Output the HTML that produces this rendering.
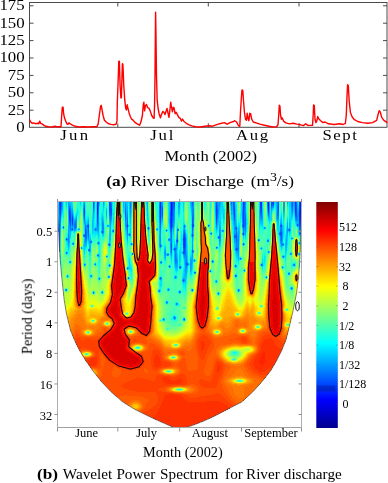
<!DOCTYPE html>
<html><head><meta charset="utf-8"><title>River discharge wavelet</title>
<style>html,body{margin:0;padding:0;background:#fff}body{width:388px;height:483px;overflow:hidden;font-family:"Liberation Serif",serif}svg{display:block}svg text{font-family:"Liberation Serif",serif;filter:url(#nf)}</style>
</head><body>
<svg width="388" height="483" viewBox="0 0 388 483" fill="#000"><defs><filter id="nf" x="-5%" y="-20%" width="110%" height="140%" color-interpolation-filters="sRGB"><feOffset dx="0" dy="0"/></filter></defs>
<rect x="29.5" y="2.5" width="357.5" height="124.8" fill="none" stroke="#4a4a4a" stroke-width="1"/>
<path d="M29.5 5.8h4M387 5.8h-4" stroke="#4a4a4a" stroke-width="1"/>
<text transform="translate(24.7 10.1) scale(1.195 1)" font-size="14.1" text-anchor="end" font-weight="normal">175</text>
<path d="M29.5 23.2h4M387 23.2h-4" stroke="#4a4a4a" stroke-width="1"/>
<text transform="translate(24.7 27.5) scale(1.195 1)" font-size="14.1" text-anchor="end" font-weight="normal">150</text>
<path d="M29.5 40.599999999999994h4M387 40.599999999999994h-4" stroke="#4a4a4a" stroke-width="1"/>
<text transform="translate(24.7 44.89999999999999) scale(1.195 1)" font-size="14.1" text-anchor="end" font-weight="normal">125</text>
<path d="M29.5 57.99999999999999h4M387 57.99999999999999h-4" stroke="#4a4a4a" stroke-width="1"/>
<text transform="translate(24.7 62.29999999999999) scale(1.195 1)" font-size="14.1" text-anchor="end" font-weight="normal">100</text>
<path d="M29.5 75.39999999999999h4M387 75.39999999999999h-4" stroke="#4a4a4a" stroke-width="1"/>
<text transform="translate(24.7 79.69999999999999) scale(1.195 1)" font-size="14.1" text-anchor="end" font-weight="normal">75</text>
<path d="M29.5 92.8h4M387 92.8h-4" stroke="#4a4a4a" stroke-width="1"/>
<text transform="translate(24.7 97.1) scale(1.195 1)" font-size="14.1" text-anchor="end" font-weight="normal">50</text>
<path d="M29.5 110.19999999999999h4M387 110.19999999999999h-4" stroke="#4a4a4a" stroke-width="1"/>
<text transform="translate(24.7 114.49999999999999) scale(1.195 1)" font-size="14.1" text-anchor="end" font-weight="normal">25</text>
<text transform="translate(24.7 131.89999999999998) scale(1.195 1)" font-size="14.1" text-anchor="end" font-weight="normal">0</text>
<path d="M117.8 2.5v4M117.8 127.3v-4" stroke="#4a4a4a" stroke-width="1"/>
<path d="M208.3 2.5v4M208.3 127.3v-4" stroke="#4a4a4a" stroke-width="1"/>
<path d="M299 2.5v4M299 127.3v-4" stroke="#4a4a4a" stroke-width="1"/>
<text transform="translate(60.2 140.4) scale(1.1 1)" font-size="15.2" text-anchor="start" font-weight="normal" letter-spacing="2.1">Jun</text>
<text transform="translate(150.2 140.4) scale(1.1 1)" font-size="15.2" text-anchor="start" font-weight="normal" letter-spacing="1.7">Jul</text>
<text transform="translate(236 140.4) scale(1.1 1)" font-size="15.2" text-anchor="start" font-weight="normal" letter-spacing="1.5">Aug</text>
<text transform="translate(322.5 140.4) scale(1.1 1)" font-size="15.2" text-anchor="start" font-weight="normal" letter-spacing="1.4">Sept</text>
<text transform="translate(164.6 161.3) scale(1.09 1)" font-size="15.2" text-anchor="start" font-weight="normal">Month (2002)</text>
<text transform="translate(106.2 186.3) scale(1.12 1)" font-size="15.5" text-anchor="start" font-weight="bold">(a)</text>
<text transform="translate(130.6 186.3) scale(1.11 1)" font-size="15.5" text-anchor="start" font-weight="normal">River</text>
<text transform="translate(174.4 186.3) scale(1.11 1)" font-size="15.5" text-anchor="start" font-weight="normal">Discharge</text>
<text transform="translate(250.8 186.3) scale(1.11 1)" font-size="15.5">(m<tspan dy="-5.5" font-size="12.5">3</tspan><tspan dy="5.5">/s)</tspan></text>
<path d="M29.5 119.6 L30.8 122.0 L32.1 123.3 L33.6 122.9 L35.4 123.7 L37.3 123.3 L38.8 123.7 L39.7 121.1 L40.6 123.3 L41.9 123.9 L43.8 125.2 L45.6 126.3 L48.4 126.8 L52.1 127.0 L54.9 126.3 L56.8 126.8 L61.0 126.8 L61.8 113.7 L62.3 107.2 L63.1 107.2 L63.6 113.7 L64.6 118.3 L65.7 121.1 L67.0 123.9 L67.9 124.4 L68.8 122.9 L70.3 123.9 L72.5 125.2 L75.3 126.3 L79.0 127.0 L83.7 126.7 L87.4 127.0 L92.9 126.8 L96.9 126.7 L98.2 123.9 L99.3 115.5 L100.5 106.6 L101.2 105.3 L101.9 109.0 L103.1 115.5 L104.4 120.2 L106.2 122.0 L108.1 123.5 L110.8 124.4 L113.6 124.8 L116.0 124.2 L117.0 121.1 L117.3 102.5 L118.3 76.6 L118.8 61.3 L119.4 61.3 L120.1 85.8 L120.9 97.9 L121.4 97.9 L122.0 76.6 L122.4 63.6 L122.9 64.5 L123.8 85.8 L124.8 100.7 L125.7 108.1 L126.4 110.0 L127.2 104.8 L127.9 108.1 L129.0 112.7 L130.3 116.5 L131.6 119.2 L133.1 120.2 L135.0 122.4 L137.2 123.9 L139.6 125.2 L140.9 122.0 L142.4 115.5 L143.3 104.4 L143.9 102.2 L144.6 110.9 L145.4 105.9 L146.5 104.4 L147.6 107.7 L148.9 108.1 L150.2 110.9 L151.7 115.5 L153.2 117.8 L154.1 118.3 L154.6 104.4 L155.0 76.6 L155.4 30.0 L155.6 12.1 L155.9 30.0 L156.5 76.6 L157.2 100.7 L158.2 109.0 L159.1 113.7 L160.4 117.8 L161.5 114.6 L162.8 111.4 L163.9 112.2 L165.0 114.6 L165.9 111.8 L167.0 108.5 L168.1 113.7 L169.0 117.4 L169.9 110.0 L170.7 102.2 L171.4 106.6 L172.4 111.8 L173.3 107.2 L174.0 107.7 L175.1 113.7 L176.2 112.2 L177.4 114.6 L178.8 117.4 L180.3 118.3 L181.4 121.1 L182.6 119.2 L184.0 121.5 L186.3 123.3 L189.1 124.8 L191.8 125.9 L195.5 126.7 L200.2 127.0 L204.8 126.3 L209.5 125.7 L211.9 126.3 L216.0 124.8 L219.7 123.7 L224.3 122.6 L227.1 124.2 L229.9 122.6 L233.6 121.5 L234.8 120.7 L236.6 122.0 L238.5 125.7 L239.8 126.3 L240.5 111.8 L241.3 98.8 L242.0 89.9 L242.8 90.5 L243.5 100.7 L244.4 111.8 L245.5 119.2 L246.5 120.2 L247.2 113.3 L248.1 118.3 L248.9 120.7 L249.8 113.3 L250.6 113.7 L251.7 119.2 L253.3 122.0 L256.1 122.9 L259.8 124.1 L264.5 125.2 L269.1 126.3 L272.8 127.0 L276.5 126.7 L278.0 124.8 L278.8 113.7 L279.3 105.3 L279.9 105.9 L280.6 115.5 L281.4 119.2 L282.1 117.8 L283.6 121.1 L285.8 122.9 L289.5 123.9 L293.2 123.3 L296.9 124.1 L300.7 124.8 L303.4 125.6 L305.7 123.8 L307.9 125.4 L312.5 125.4 L313.2 114.7 L313.6 104.9 L314.3 105.6 L315.0 119.2 L315.9 122.6 L317.0 120.4 L317.7 116.5 L318.8 118.8 L320.4 120.4 L322.7 122.6 L324.9 122.0 L328.4 123.8 L334.0 124.5 L339.7 123.8 L343.1 124.5 L345.4 123.3 L346.3 114.7 L347.0 96.6 L347.6 84.8 L348.3 85.7 L349.2 101.1 L350.4 112.4 L352.2 117.0 L354.4 119.7 L357.8 121.5 L362.4 122.6 L368.0 123.3 L372.6 122.6 L376.7 120.4 L378.0 114.7 L379.2 110.6 L380.3 112.0 L381.7 117.4 L383.9 120.4 L387.3 122.6" fill="none" stroke="#ff0000" stroke-width="1.4" stroke-linejoin="round"/>
<g shape-rendering="crispEdges" fill="none" stroke-width="1">
<path stroke="#0010ff" d="M97.5 207v4M171.5 202v13M268.5 202v4M300.5 201v17"/>
<path stroke="#0020ff" d="M97.5 202v5M97.5 211v4M160.5 202v8M171.5 201v1M171.5 215v9M261.5 201v3M268.5 201v1M268.5 206v3M300.5 218v4M301.5 216v3"/>
<path stroke="#0030ff" d="M60.5 201v8M69.5 212v7M72.5 218v5M97.5 201v1M97.5 215v2M109.5 244v1M109.5 265v1M127.5 225v1M148.5 228v1M160.5 201v1M160.5 210v9M171.5 224v3M174.5 201v2M177.5 240v1M180.5 267v1M183.5 239v1M184.5 238v9M212.5 261v1M216.5 207v12M236.5 249v1M243.5 201v6M243.5 225v1M243.5 244v1M260.5 201v2M261.5 204v5M268.5 209v2M273.5 201v2M295.5 202v10M299.5 210v9M300.5 222v3M301.5 213v3"/>
<path stroke="#0040ff" d="M59.5 201v5M59.5 232v16M60.5 209v5M63.5 227v1M66.5 239v1M69.5 210v2M69.5 219v1M70.5 215v7M72.5 217v1M72.5 223v1M72.5 229v1M84.5 210v4M88.5 226v1M95.5 229v1M97.5 217v3M98.5 201v1M109.5 201v5M127.5 226v1M160.5 219v4M160.5 278v1M166.5 230v1M170.5 218v6M171.5 227v2M172.5 201v9M174.5 203v2M177.5 241v1M183.5 238v1M183.5 240v6M183.5 252v1M184.5 235v3M184.5 247v4M184.5 319v1M192.5 201v1M192.5 224v3M192.5 235v1M192.5 290v1M193.5 225v1M208.5 225v1M211.5 233v1M216.5 204v3M216.5 219v2M218.5 237v1M233.5 201v2M234.5 209v6M235.5 236v1M236.5 228v1M238.5 290v1M243.5 207v18M243.5 226v1M243.5 233v2M258.5 240v1M260.5 203v4M261.5 209v3M268.5 211v1M273.5 203v1M280.5 233v1M281.5 225v1M295.5 201v1M295.5 212v2M297.5 225v1M299.5 205v5M299.5 219v5M300.5 225v1M301.5 210v3"/>
<path stroke="#0050ff" d="M59.5 206v4M59.5 228v4M59.5 248v3M60.5 214v2M69.5 209v1M69.5 220v2M70.5 212v3M70.5 222v3M72.5 216v1M72.5 224v1M84.5 208v2M84.5 214v2M84.5 235v1M85.5 229v8M88.5 225v1M88.5 227v1M88.5 230v2M93.5 292v1M97.5 220v2M98.5 202v3M102.5 231v2M109.5 206v4M110.5 201v12M111.5 208v5M127.5 224v1M127.5 268v1M128.5 278v1M129.5 234v1M160.5 223v2M160.5 245v1M162.5 208v7M167.5 254v1M169.5 239v1M169.5 266v1M170.5 213v5M170.5 224v3M171.5 229v2M171.5 244v6M172.5 210v7M174.5 205v2M174.5 249v1M174.5 317v1M183.5 237v1M183.5 246v2M183.5 253v1M183.5 280v1M184.5 226v1M184.5 233v2M184.5 251v3M187.5 264v1M192.5 202v1M192.5 221v3M192.5 227v2M192.5 234v1M192.5 251v1M194.5 260v1M210.5 271v1M216.5 202v2M216.5 221v2M218.5 293v1M219.5 237v1M233.5 203v3M234.5 207v2M234.5 215v3M234.5 236v1M235.5 266v1M235.5 275v1M236.5 234v5M236.5 248v1M240.5 258v1M243.5 227v1M244.5 201v4M260.5 207v3M261.5 212v1M261.5 264v1M266.5 277v1M268.5 212v1M271.5 201v5M272.5 201v3M273.5 204v1M278.5 204v7M280.5 234v1M281.5 226v1M281.5 232v4M283.5 256v1M289.5 229v2M291.5 288v1M295.5 214v2M296.5 205v12M299.5 201v4M299.5 224v2M300.5 226v1M300.5 233v1M301.5 201v9"/>
<path stroke="#0060ff" d="M59.5 210v4M59.5 224v4M59.5 251v1M60.5 216v3M66.5 252v2M67.5 276v1M69.5 208v1M69.5 222v1M70.5 210v2M70.5 225v2M72.5 215v1M72.5 225v1M73.5 243v1M84.5 206v2M84.5 216v2M85.5 227v2M85.5 237v1M87.5 225v2M88.5 228v2M88.5 232v3M89.5 250v1M93.5 201v5M95.5 264v1M97.5 222v2M97.5 255v1M98.5 205v4M98.5 243v1M99.5 278v1M102.5 292v1M109.5 210v2M109.5 245v1M110.5 213v3M111.5 206v2M111.5 213v2M113.5 230v2M125.5 210v8M127.5 221v3M127.5 227v1M131.5 244v1M160.5 225v3M160.5 246v1M161.5 262v1M162.5 207v1M162.5 215v1M163.5 319v1M168.5 289v1M170.5 210v3M170.5 227v2M171.5 231v2M171.5 241v3M171.5 250v2M172.5 217v4M172.5 225v2M173.5 201v8M174.5 207v1M174.5 248v1M175.5 249v1M175.5 277v1M177.5 229v2M177.5 239v1M179.5 291v2M183.5 235v2M183.5 248v2M183.5 251v1M184.5 232v1M185.5 238v11M186.5 263v2M187.5 263v1M192.5 203v2M192.5 218v3M192.5 229v2M192.5 236v1M192.5 250v1M193.5 224v1M193.5 226v1M194.5 272v1M216.5 201v1M216.5 223v1M216.5 247v1M217.5 210v3M219.5 236v1M233.5 206v4M234.5 204v3M234.5 218v2M235.5 228v1M235.5 235v1M235.5 237v1M235.5 276v1M236.5 227v1M236.5 229v1M236.5 232v2M236.5 239v2M236.5 250v1M237.5 249v1M243.5 228v1M244.5 205v5M244.5 270v1M245.5 217v8M260.5 210v2M261.5 213v2M261.5 265v1M267.5 201v1M268.5 213v1M271.5 206v1M272.5 204v1M278.5 201v3M278.5 211v3M279.5 233v1M280.5 225v2M280.5 232v1M281.5 230v2M281.5 236v4M282.5 244v1M282.5 267v1M292.5 201v7M295.5 216v1M296.5 201v4M296.5 217v1M297.5 224v1M299.5 226v2M299.5 233v1M300.5 227v2"/>
<path stroke="#0070ff" d="M58.5 230v2M59.5 214v10M60.5 219v2M61.5 201v6M66.5 290v1M69.5 207v1M69.5 223v1M70.5 208v2M70.5 227v2M71.5 229v1M72.5 214v1M72.5 228v1M74.5 224v4M75.5 223v5M78.5 229v1M83.5 235v1M84.5 205v1M84.5 218v1M84.5 264v1M85.5 226v1M85.5 238v2M86.5 231v8M88.5 224v1M88.5 235v2M88.5 250v1M89.5 249v1M90.5 241v2M91.5 241v1M91.5 276v1M93.5 206v3M97.5 224v2M98.5 209v5M98.5 255v1M109.5 212v2M110.5 216v3M111.5 204v2M111.5 215v1M125.5 208v2M125.5 218v3M126.5 225v1M127.5 218v3M127.5 228v4M130.5 201v8M132.5 253v1M148.5 227v1M159.5 290v2M160.5 228v2M162.5 206v1M162.5 216v1M166.5 302v1M168.5 254v1M170.5 201v9M170.5 229v2M171.5 233v8M171.5 252v1M172.5 221v2M172.5 224v1M173.5 209v11M174.5 208v2M175.5 248v1M175.5 254v8M176.5 240v2M177.5 235v4M177.5 242v1M178.5 229v1M179.5 267v1M180.5 266v1M183.5 234v1M183.5 250v1M183.5 279v1M184.5 225v1M184.5 230v2M184.5 254v1M185.5 237v1M185.5 249v4M186.5 261v2M186.5 265v1M192.5 205v2M192.5 215v3M192.5 231v3M192.5 252v1M193.5 213v7M193.5 251v1M195.5 272v1M216.5 224v2M216.5 281v1M217.5 206v4M217.5 213v4M219.5 238v1M222.5 230v1M231.5 201v4M233.5 210v3M234.5 202v2M234.5 220v1M234.5 235v1M234.5 237v1M235.5 227v1M235.5 265v1M236.5 230v2M236.5 241v2M237.5 248v1M238.5 247v2M242.5 225v1M243.5 229v2M243.5 232v1M243.5 243v1M244.5 210v17M245.5 214v3M245.5 225v3M260.5 212v2M261.5 215v2M261.5 248v1M267.5 202v3M267.5 240v1M268.5 214v1M268.5 240v1M268.5 252v1M271.5 207v1M272.5 205v1M273.5 205v1M277.5 207v9M278.5 214v2M279.5 234v1M280.5 230v2M280.5 235v1M281.5 227v3M281.5 240v2M283.5 244v1M288.5 273v1M289.5 273v1M292.5 208v3M294.5 264v2M295.5 217v1M296.5 218v2M299.5 228v2M299.5 243v1M300.5 229v1"/>
<path stroke="#0084ff" d="M58.5 229v1M60.5 221v2M61.5 207v3M66.5 238v1M66.5 289v1M67.5 239v1M68.5 234v8M69.5 206v1M69.5 224v1M70.5 207v1M70.5 229v1M70.5 262v1M71.5 217v4M72.5 213v1M72.5 226v1M72.5 243v1M74.5 222v2M74.5 228v1M75.5 221v2M75.5 228v1M84.5 204v1M84.5 219v1M84.5 236v1M85.5 225v1M85.5 240v2M86.5 229v2M86.5 239v2M87.5 227v1M88.5 237v1M91.5 242v1M93.5 209v2M94.5 201v1M95.5 230v1M96.5 229v1M97.5 226v2M98.5 214v11M98.5 242v1M102.5 223v6M102.5 230v1M103.5 227v2M103.5 231v1M106.5 256v1M109.5 214v2M110.5 219v2M111.5 203v1M111.5 216v2M125.5 205v3M125.5 221v1M126.5 226v1M127.5 215v3M127.5 232v3M129.5 235v1M130.5 209v3M132.5 254v1M157.5 229v1M159.5 205v12M160.5 230v3M160.5 238v3M160.5 244v1M160.5 262v1M160.5 277v1M161.5 206v9M161.5 278v1M162.5 205v1M162.5 217v1M165.5 253v2M167.5 302v1M168.5 239v1M169.5 240v1M170.5 231v2M170.5 239v1M171.5 253v1M172.5 223v1M173.5 220v4M174.5 210v2M174.5 250v1M174.5 318v1M175.5 250v4M175.5 262v2M175.5 276v1M176.5 258v5M176.5 303v2M177.5 233v2M183.5 233v1M183.5 281v1M183.5 319v1M184.5 227v1M184.5 229v1M184.5 255v2M184.5 280v1M185.5 235v2M185.5 253v4M185.5 263v2M186.5 257v4M186.5 266v2M187.5 265v1M192.5 207v8M192.5 249v1M192.5 289v1M193.5 201v2M193.5 210v3M193.5 220v4M210.5 270v1M216.5 226v1M217.5 204v2M217.5 217v2M219.5 201v2M219.5 233v3M222.5 231v1M231.5 205v1M233.5 213v2M234.5 201v1M234.5 221v2M235.5 229v1M235.5 249v1M236.5 243v5M236.5 275v1M237.5 250v1M238.5 238v9M238.5 249v3M242.5 214v6M242.5 226v1M243.5 231v1M245.5 212v2M245.5 228v3M258.5 239v1M260.5 214v2M261.5 217v1M262.5 264v2M264.5 228v1M267.5 205v2M267.5 241v1M268.5 215v1M268.5 241v1M268.5 251v1M271.5 208v1M272.5 206v1M273.5 206v1M277.5 202v5M277.5 216v3M278.5 216v2M280.5 227v3M280.5 236v4M281.5 224v1M281.5 242v3M283.5 257v1M287.5 229v1M288.5 229v2M290.5 253v1M291.5 202v5M292.5 211v1M292.5 238v1M293.5 264v1M295.5 218v1M296.5 220v1M298.5 225v1M299.5 230v3M300.5 230v1M300.5 232v1M300.5 234v1"/>
<path stroke="#0094ff" d="M58.5 228v1M60.5 223v3M61.5 210v1M66.5 240v1M68.5 231v3M68.5 242v2M69.5 205v1M69.5 225v2M70.5 206v1M70.5 230v1M71.5 213v4M71.5 221v3M71.5 228v1M72.5 211v2M72.5 227v1M72.5 230v1M74.5 229v1M75.5 220v1M76.5 219v8M81.5 247v2M83.5 208v7M84.5 203v1M84.5 220v2M84.5 234v1M85.5 224v1M85.5 242v1M86.5 226v3M86.5 241v1M87.5 228v5M88.5 223v1M88.5 238v1M88.5 249v1M91.5 275v1M93.5 211v2M93.5 293v1M94.5 202v3M95.5 228v1M97.5 228v2M98.5 225v3M99.5 279v1M101.5 231v1M102.5 221v2M102.5 229v1M103.5 201v1M103.5 224v3M103.5 229v2M103.5 232v1M107.5 225v1M108.5 225v1M108.5 244v1M108.5 276v1M109.5 216v1M109.5 243v1M110.5 221v3M111.5 201v2M111.5 218v1M112.5 231v1M125.5 203v2M125.5 222v2M126.5 224v1M127.5 213v2M127.5 235v1M130.5 212v3M130.5 234v1M131.5 243v1M148.5 229v1M159.5 202v3M159.5 217v4M160.5 233v5M160.5 241v3M160.5 279v1M161.5 203v3M161.5 215v2M161.5 245v1M162.5 203v2M162.5 218v1M165.5 251v2M165.5 255v1M167.5 255v1M168.5 290v1M170.5 233v3M170.5 238v1M170.5 240v1M170.5 244v4M171.5 254v1M172.5 227v1M173.5 224v3M174.5 212v5M175.5 264v1M176.5 242v1M176.5 248v2M176.5 253v5M176.5 263v2M177.5 231v2M177.5 243v1M178.5 230v1M179.5 266v1M180.5 268v1M180.5 291v2M182.5 252v1M182.5 280v1M183.5 231v2M183.5 254v1M184.5 228v1M184.5 257v1M184.5 279v1M184.5 318v1M185.5 234v1M185.5 257v6M185.5 265v7M186.5 254v3M186.5 268v2M187.5 262v1M188.5 264v1M190.5 261v7M191.5 201v2M191.5 262v3M192.5 237v4M192.5 245v4M192.5 253v4M193.5 203v7M193.5 235v1M194.5 273v1M216.5 227v1M217.5 202v2M217.5 219v2M217.5 247v1M218.5 208v6M218.5 236v1M219.5 203v3M219.5 229v4M219.5 239v2M220.5 234v4M231.5 206v4M233.5 215v2M234.5 223v2M234.5 228v1M234.5 233v2M234.5 238v2M235.5 226v1M235.5 234v1M235.5 238v1M235.5 248v1M236.5 226v1M236.5 276v1M237.5 239v9M238.5 234v4M238.5 252v3M238.5 289v1M242.5 210v4M242.5 220v3M242.5 224v1M243.5 235v1M244.5 227v2M245.5 201v11M245.5 231v1M260.5 216v2M261.5 218v2M264.5 227v1M267.5 207v2M268.5 216v1M269.5 205v5M271.5 209v1M272.5 207v1M277.5 201v1M277.5 219v1M278.5 218v1M280.5 224v1M280.5 240v1M281.5 245v1M282.5 243v1M282.5 245v1M283.5 206v3M284.5 201v5M287.5 201v1M287.5 226v3M287.5 230v2M289.5 228v1M291.5 201v1M291.5 207v3M291.5 238v1M291.5 253v1M291.5 287v1M292.5 212v2M293.5 265v1M294.5 201v3M295.5 219v1M297.5 213v7M298.5 224v1M299.5 234v1M300.5 231v1"/>
<path stroke="#00a4ff" d="M58.5 227v1M60.5 226v3M61.5 211v2M62.5 201v5M65.5 290v1M68.5 202v11M68.5 228v3M68.5 244v2M69.5 204v1M69.5 227v2M70.5 204v2M70.5 231v1M70.5 261v1M71.5 210v3M71.5 224v2M71.5 230v1M72.5 210v1M73.5 218v7M73.5 244v1M74.5 221v1M74.5 230v1M75.5 219v1M75.5 229v1M76.5 217v2M76.5 227v1M83.5 206v2M83.5 215v2M83.5 236v1M84.5 201v2M84.5 222v1M84.5 265v1M85.5 223v1M85.5 243v1M86.5 225v1M86.5 242v1M87.5 224v1M87.5 233v3M88.5 221v2M88.5 239v1M89.5 242v1M89.5 248v1M89.5 251v1M90.5 240v1M90.5 243v1M90.5 276v1M93.5 213v2M94.5 205v3M96.5 228v1M96.5 230v1M97.5 230v1M97.5 243v1M98.5 228v3M101.5 232v1M102.5 219v2M102.5 233v1M103.5 202v2M103.5 223v1M106.5 212v2M108.5 277v1M109.5 217v2M109.5 276v1M110.5 224v3M111.5 219v1M112.5 230v1M125.5 201v2M125.5 224v2M126.5 213v11M126.5 227v2M127.5 210v3M127.5 236v2M128.5 268v1M128.5 277v1M130.5 215v3M156.5 229v1M158.5 290v2M159.5 201v1M159.5 221v2M160.5 247v1M161.5 201v2M161.5 217v2M161.5 246v1M162.5 202v1M162.5 219v1M164.5 252v2M165.5 250v1M165.5 256v2M169.5 219v1M169.5 267v1M170.5 236v2M170.5 241v3M170.5 248v3M171.5 255v1M172.5 228v1M173.5 227v1M173.5 317v1M174.5 217v4M174.5 247v1M174.5 251v1M175.5 247v1M175.5 265v2M175.5 317v2M176.5 239v1M176.5 243v5M176.5 250v3M176.5 265v2M177.5 244v1M177.5 260v5M177.5 303v1M179.5 201v7M183.5 230v1M184.5 258v1M184.5 281v1M185.5 233v1M185.5 272v4M186.5 251v3M186.5 270v3M190.5 201v1M190.5 260v1M190.5 268v2M191.5 203v4M191.5 259v3M191.5 265v4M192.5 241v4M192.5 257v4M193.5 227v1M193.5 234v1M193.5 250v1M208.5 226v1M210.5 233v1M212.5 260v1M212.5 262v1M213.5 261v1M215.5 201v12M216.5 228v1M216.5 248v1M217.5 201v1M217.5 221v2M218.5 203v5M218.5 214v4M218.5 238v1M218.5 294v1M219.5 206v2M219.5 227v2M219.5 241v1M220.5 201v1M220.5 229v5M220.5 238v3M223.5 230v1M231.5 210v1M232.5 201v3M233.5 217v3M234.5 225v3M234.5 229v4M234.5 240v2M235.5 214v12M235.5 230v4M235.5 239v4M235.5 250v1M236.5 251v1M236.5 266v1M237.5 236v3M237.5 251v1M238.5 231v3M238.5 255v2M239.5 290v1M240.5 259v1M242.5 207v3M242.5 223v1M242.5 233v2M244.5 229v2M244.5 233v1M245.5 232v2M259.5 240v1M260.5 218v2M261.5 220v1M262.5 216v3M267.5 209v1M268.5 217v1M269.5 201v4M269.5 210v5M273.5 207v1M277.5 220v1M278.5 219v2M279.5 232v1M280.5 223v1M280.5 241v1M281.5 222v2M282.5 232v8M282.5 256v1M283.5 201v5M283.5 209v3M284.5 206v3M286.5 239v7M287.5 202v1M287.5 223v3M287.5 232v2M288.5 274v1M289.5 231v1M290.5 254v1M291.5 210v3M292.5 214v1M293.5 201v3M294.5 204v3M295.5 220v1M296.5 221v1M297.5 208v5M297.5 220v2M297.5 223v1M297.5 226v1M298.5 212v9M299.5 242v1M299.5 254v1"/>
<path stroke="#00b4ff" d="M58.5 226v1M60.5 229v3M60.5 256v1M61.5 213v1M62.5 206v3M63.5 226v1M63.5 228v1M65.5 289v1M67.5 238v1M67.5 240v1M67.5 252v1M67.5 275v1M68.5 201v1M68.5 213v6M68.5 225v3M68.5 246v1M69.5 203v1M69.5 229v3M69.5 234v9M69.5 262v1M70.5 203v1M70.5 232v2M71.5 208v2M71.5 226v2M72.5 208v2M73.5 216v2M73.5 225v2M73.5 228v2M74.5 220v1M75.5 218v1M75.5 230v1M76.5 216v1M76.5 228v1M83.5 204v2M83.5 217v2M84.5 223v1M84.5 237v1M84.5 240v7M85.5 222v1M85.5 244v2M85.5 264v1M86.5 243v1M87.5 223v1M87.5 236v2M88.5 220v1M88.5 240v1M89.5 240v2M89.5 243v5M90.5 239v1M90.5 244v7M90.5 275v1M92.5 223v5M93.5 215v2M94.5 208v2M94.5 229v1M95.5 263v1M97.5 231v1M98.5 231v2M98.5 254v1M98.5 256v1M99.5 201v2M101.5 292v1M102.5 218v1M103.5 204v2M103.5 221v2M103.5 233v1M106.5 210v2M106.5 214v2M107.5 256v1M108.5 245v1M109.5 219v2M109.5 237v2M109.5 264v1M109.5 266v1M109.5 277v1M110.5 227v9M110.5 244v1M111.5 220v1M123.5 201v3M125.5 226v2M126.5 206v7M126.5 229v2M127.5 207v3M127.5 238v2M127.5 267v1M128.5 225v1M128.5 234v1M129.5 233v1M130.5 218v3M130.5 235v1M131.5 201v5M147.5 201v9M159.5 223v5M159.5 235v12M159.5 278v1M161.5 219v2M161.5 261v1M161.5 277v1M161.5 279v1M162.5 201v1M162.5 220v1M163.5 318v1M163.5 320v1M164.5 250v2M164.5 254v2M164.5 319v1M165.5 249v1M166.5 301v1M166.5 303v1M167.5 289v1M168.5 240v1M168.5 255v1M169.5 201v3M169.5 213v6M169.5 220v4M170.5 251v2M170.5 266v1M171.5 256v1M172.5 229v1M173.5 228v2M174.5 221v3M174.5 252v8M174.5 277v1M174.5 316v1M175.5 267v1M175.5 278v1M176.5 267v2M176.5 277v1M177.5 228v1M177.5 245v1M177.5 258v2M177.5 265v2M177.5 304v1M178.5 201v9M179.5 208v3M179.5 268v1M182.5 253v1M182.5 279v1M182.5 281v1M183.5 226v1M183.5 229v1M183.5 255v1M183.5 278v1M184.5 259v2M184.5 278v1M184.5 320v1M185.5 226v1M185.5 232v1M185.5 276v5M186.5 239v12M186.5 273v2M187.5 260v2M187.5 266v1M188.5 263v1M190.5 202v2M190.5 258v2M190.5 270v2M191.5 207v4M191.5 235v1M191.5 258v1M191.5 269v2M191.5 290v1M192.5 261v2M193.5 228v3M194.5 261v1M211.5 234v1M215.5 213v3M215.5 281v1M216.5 229v1M217.5 223v2M218.5 201v2M218.5 218v2M219.5 208v3M219.5 224v3M219.5 242v2M220.5 202v2M220.5 226v3M220.5 241v1M223.5 231v1M230.5 201v2M231.5 211v4M232.5 204v6M233.5 220v1M234.5 242v1M235.5 209v5M235.5 243v5M236.5 224v2M236.5 252v2M236.5 265v1M237.5 234v2M237.5 252v3M238.5 229v2M238.5 257v2M238.5 291v1M241.5 258v1M242.5 203v4M242.5 227v1M244.5 231v2M244.5 234v1M245.5 234v1M259.5 210v9M260.5 220v1M261.5 221v1M262.5 211v5M262.5 219v3M262.5 263v1M265.5 228v1M267.5 210v2M269.5 215v3M271.5 210v2M272.5 208v1M276.5 201v3M276.5 213v6M277.5 221v1M278.5 221v1M280.5 222v1M280.5 242v2M281.5 219v3M281.5 246v1M282.5 226v1M282.5 229v3M282.5 240v3M283.5 212v2M283.5 243v1M283.5 245v1M284.5 209v3M286.5 235v4M286.5 246v2M287.5 203v1M287.5 222v1M287.5 234v2M289.5 223v5M289.5 274v1M290.5 229v2M291.5 213v2M291.5 254v1M291.5 289v1M292.5 215v1M292.5 288v1M293.5 204v3M294.5 207v3M296.5 222v1M296.5 224v1M297.5 204v4M297.5 222v1M298.5 210v2M298.5 221v3M298.5 226v1M298.5 254v1M299.5 253v1"/>
<path stroke="#00c4ff" d="M58.5 224v2M60.5 232v3M60.5 257v1M61.5 214v2M62.5 209v2M62.5 227v1M66.5 201v2M67.5 253v1M68.5 219v6M68.5 247v2M69.5 202v1M69.5 232v2M69.5 243v2M69.5 261v1M70.5 201v2M70.5 234v1M71.5 205v3M72.5 207v1M72.5 244v1M73.5 215v1M73.5 227v1M74.5 219v1M74.5 231v1M76.5 215v1M76.5 229v1M79.5 229v1M80.5 201v1M83.5 203v1M83.5 219v1M83.5 234v1M84.5 224v2M84.5 238v2M84.5 247v3M85.5 220v2M85.5 246v1M86.5 224v1M86.5 244v1M87.5 221v2M87.5 238v1M88.5 219v1M88.5 241v1M89.5 238v2M90.5 238v1M90.5 251v1M92.5 220v3M92.5 228v3M93.5 217v5M94.5 210v2M94.5 230v1M94.5 264v1M96.5 225v3M97.5 232v1M97.5 242v1M98.5 233v2M98.5 244v1M98.5 278v1M99.5 203v1M99.5 243v1M102.5 216v2M102.5 234v1M102.5 291v1M103.5 206v1M103.5 220v1M103.5 234v1M106.5 209v1M106.5 216v2M107.5 226v1M108.5 226v1M109.5 221v1M109.5 225v2M109.5 233v4M109.5 239v4M110.5 236v4M111.5 221v1M123.5 204v4M125.5 228v2M126.5 201v5M126.5 231v3M127.5 201v6M127.5 240v1M128.5 226v1M128.5 267v1M129.5 201v8M129.5 263v1M130.5 221v3M130.5 233v1M131.5 206v3M132.5 244v1M147.5 210v6M147.5 228v1M149.5 228v1M157.5 228v1M159.5 228v7M160.5 261v1M161.5 221v1M161.5 263v1M162.5 221v1M164.5 249v1M164.5 256v2M165.5 248v1M165.5 258v1M167.5 253v1M167.5 301v1M167.5 303v1M168.5 288v1M169.5 204v9M169.5 224v3M169.5 238v1M169.5 265v1M169.5 289v1M170.5 253v2M171.5 257v2M172.5 230v2M173.5 230v2M173.5 248v2M174.5 224v1M174.5 245v2M174.5 260v3M174.5 319v1M175.5 246v1M175.5 268v1M176.5 238v1M176.5 269v1M176.5 276v1M177.5 246v2M177.5 256v2M177.5 267v2M178.5 210v4M179.5 211v2M179.5 254v8M181.5 267v1M183.5 201v1M183.5 225v1M183.5 227v2M183.5 256v1M183.5 277v1M183.5 282v1M183.5 318v1M184.5 224v1M184.5 261v3M184.5 269v9M185.5 231v1M185.5 281v2M186.5 237v2M186.5 275v2M187.5 256v4M187.5 267v2M190.5 204v2M190.5 257v1M190.5 272v1M191.5 211v2M191.5 234v1M191.5 256v2M191.5 271v1M192.5 263v2M193.5 231v3M193.5 236v1M193.5 252v1M193.5 260v1M195.5 273v1M209.5 225v1M209.5 271v1M215.5 216v4M216.5 230v1M216.5 280v1M216.5 282v1M217.5 225v2M217.5 293v1M218.5 220v3M219.5 211v4M219.5 220v4M219.5 244v1M220.5 204v3M220.5 221v5M220.5 242v1M221.5 201v2M223.5 214v4M230.5 203v2M232.5 210v5M233.5 221v3M234.5 243v2M235.5 205v4M236.5 223v1M236.5 254v2M237.5 232v2M237.5 255v2M238.5 227v2M238.5 259v1M239.5 231v2M239.5 258v1M242.5 201v2M243.5 236v1M243.5 245v1M244.5 244v1M245.5 235v1M246.5 223v1M259.5 204v6M259.5 219v5M259.5 239v1M260.5 221v2M261.5 222v2M261.5 247v1M262.5 208v3M262.5 222v2M262.5 262v1M262.5 266v1M265.5 227v1M266.5 276v1M267.5 212v1M268.5 218v1M269.5 218v2M269.5 252v1M271.5 212v1M272.5 209v1M276.5 204v9M276.5 219v1M277.5 222v3M278.5 222v3M279.5 235v1M280.5 221v1M280.5 244v1M281.5 217v2M281.5 247v1M282.5 225v1M282.5 227v2M283.5 214v2M284.5 212v1M285.5 242v9M286.5 231v4M286.5 248v2M287.5 204v1M287.5 220v2M287.5 236v2M289.5 221v2M289.5 232v1M290.5 201v3M290.5 222v7M291.5 215v2M292.5 216v1M293.5 207v3M294.5 210v2M295.5 221v1M296.5 223v1M296.5 225v1M297.5 201v3M298.5 208v2M298.5 227v2"/>
<path stroke="#00d4ff" d="M58.5 223v1M60.5 235v6M60.5 255v1M61.5 216v1M62.5 211v1M65.5 239v1M66.5 203v2M67.5 241v2M68.5 249v1M69.5 201v1M69.5 245v2M70.5 235v2M71.5 202v3M72.5 205v2M73.5 214v1M73.5 230v1M73.5 242v1M75.5 217v1M76.5 214v1M80.5 202v2M83.5 201v2M83.5 220v2M84.5 226v5M84.5 233v1M84.5 250v3M84.5 263v1M85.5 218v2M85.5 247v1M85.5 265v1M86.5 222v2M86.5 245v1M87.5 220v1M87.5 239v1M88.5 218v1M88.5 242v1M89.5 235v3M89.5 252v1M90.5 236v2M92.5 217v3M92.5 231v2M93.5 222v9M94.5 212v2M94.5 228v1M94.5 292v1M95.5 227v1M95.5 231v1M96.5 219v6M96.5 231v1M97.5 233v1M97.5 254v1M97.5 256v1M98.5 235v2M98.5 241v1M99.5 204v2M99.5 242v1M99.5 244v1M99.5 254v3M99.5 277v1M101.5 217v10M101.5 230v1M102.5 214v2M103.5 207v2M103.5 218v2M103.5 235v1M104.5 201v2M106.5 208v1M106.5 218v1M108.5 243v1M108.5 265v1M109.5 222v3M109.5 230v3M109.5 246v1M110.5 240v1M110.5 243v1M110.5 245v1M110.5 265v1M111.5 222v1M113.5 218v5M113.5 229v1M123.5 208v3M124.5 201v10M125.5 230v1M126.5 234v2M127.5 241v2M127.5 269v1M128.5 235v1M129.5 209v5M129.5 260v3M129.5 264v5M130.5 224v9M130.5 236v1M131.5 209v3M146.5 201v3M147.5 216v3M148.5 226v1M148.5 230v1M155.5 201v1M159.5 247v1M159.5 279v1M159.5 289v1M160.5 248v1M160.5 263v1M160.5 280v1M160.5 284v1M160.5 290v1M161.5 222v2M161.5 280v1M162.5 222v1M164.5 247v2M164.5 258v1M165.5 247v1M165.5 259v1M166.5 231v1M166.5 254v1M167.5 230v1M167.5 290v1M168.5 201v1M168.5 253v1M168.5 266v1M169.5 227v1M170.5 255v1M171.5 259v1M172.5 232v3M173.5 232v2M173.5 316v1M173.5 318v1M174.5 225v2M174.5 243v2M174.5 263v2M174.5 276v1M175.5 245v1M175.5 269v1M176.5 236v2M176.5 270v1M177.5 227v1M177.5 248v2M177.5 254v2M177.5 269v1M178.5 214v2M179.5 213v1M179.5 252v2M179.5 262v4M180.5 250v11M180.5 265v1M182.5 239v1M182.5 251v1M182.5 278v1M183.5 202v6M183.5 257v1M183.5 273v4M183.5 283v1M183.5 320v1M184.5 264v5M184.5 282v1M185.5 225v1M185.5 230v1M185.5 283v2M186.5 235v2M186.5 277v2M187.5 252v4M187.5 269v2M190.5 206v2M190.5 256v1M190.5 273v1M191.5 213v3M191.5 236v1M191.5 251v1M191.5 254v2M191.5 272v2M191.5 289v1M192.5 265v3M194.5 271v1M195.5 260v1M210.5 234v1M215.5 220v4M216.5 231v1M217.5 227v1M217.5 237v1M217.5 248v1M218.5 223v2M218.5 292v1M219.5 215v5M219.5 245v1M220.5 207v14M220.5 243v2M221.5 203v6M222.5 203v8M223.5 209v5M223.5 218v3M231.5 215v4M232.5 215v5M233.5 224v3M234.5 245v4M235.5 201v4M235.5 251v2M235.5 267v1M236.5 220v3M236.5 256v2M237.5 228v2M237.5 231v1M237.5 257v2M237.5 290v1M238.5 225v2M238.5 260v1M239.5 227v4M239.5 233v5M239.5 259v1M239.5 289v1M241.5 201v14M242.5 228v1M242.5 244v1M243.5 237v1M243.5 270v1M244.5 235v1M244.5 271v1M245.5 236v1M246.5 218v5M246.5 224v5M259.5 201v3M259.5 224v2M260.5 223v1M260.5 248v1M261.5 224v1M262.5 203v5M262.5 224v2M262.5 260v2M267.5 213v1M267.5 239v1M268.5 219v1M268.5 239v1M269.5 220v1M269.5 251v1M270.5 216v4M271.5 213v7M273.5 208v1M274.5 201v3M275.5 201v3M276.5 220v1M277.5 225v3M278.5 225v6M278.5 233v1M279.5 231v1M280.5 219v2M280.5 245v1M281.5 215v2M281.5 248v1M282.5 246v1M282.5 257v1M282.5 266v1M283.5 216v3M283.5 225v10M283.5 255v1M283.5 267v1M284.5 213v2M284.5 256v1M285.5 239v3M285.5 251v6M286.5 229v2M286.5 250v1M287.5 205v1M287.5 219v1M287.5 238v3M288.5 228v1M288.5 231v1M288.5 272v1M289.5 201v6M289.5 218v3M289.5 233v1M290.5 204v5M290.5 218v4M290.5 231v1M290.5 288v1M291.5 217v2M291.5 237v1M292.5 217v1M293.5 210v2M294.5 212v3M294.5 263v1M295.5 222v1M298.5 206v2M298.5 229v5M298.5 253v1M299.5 235v1M300.5 235v1"/>
<path stroke="#00e4f8" d="M58.5 203v9M58.5 220v3M60.5 241v14M60.5 258v1M61.5 217v1M62.5 212v2M65.5 252v2M66.5 205v2M66.5 237v1M66.5 241v1M66.5 251v1M67.5 201v1M67.5 237v1M67.5 243v3M67.5 277v1M68.5 250v1M68.5 276v1M69.5 247v1M70.5 237v1M71.5 201v1M71.5 231v1M72.5 203v2M73.5 213v1M74.5 218v1M74.5 232v1M75.5 216v1M75.5 231v1M76.5 213v1M76.5 230v1M77.5 210v5M79.5 228v1M80.5 204v1M81.5 201v1M82.5 248v1M83.5 222v1M83.5 244v6M84.5 231v2M84.5 253v1M85.5 210v8M85.5 248v1M86.5 221v1M86.5 246v1M87.5 218v2M87.5 240v1M88.5 217v1M88.5 243v1M88.5 251v1M89.5 233v2M89.5 253v2M90.5 235v1M90.5 252v2M91.5 240v1M92.5 215v2M92.5 233v2M92.5 292v1M93.5 231v3M94.5 214v4M94.5 227v1M94.5 231v2M95.5 226v1M95.5 232v3M95.5 265v1M96.5 204v15M96.5 232v1M97.5 234v1M98.5 237v2M98.5 279v1M99.5 206v1M99.5 223v3M99.5 241v1M99.5 245v1M99.5 253v1M99.5 257v1M101.5 215v2M101.5 227v3M102.5 212v2M102.5 235v1M102.5 293v1M103.5 209v3M103.5 216v2M103.5 236v1M104.5 203v3M106.5 219v1M109.5 227v3M110.5 241v2M111.5 223v2M112.5 201v14M113.5 213v5M113.5 223v2M113.5 232v1M123.5 211v2M124.5 211v3M125.5 231v2M126.5 236v2M127.5 243v1M127.5 278v1M128.5 201v2M128.5 233v1M128.5 269v1M129.5 214v4M129.5 236v1M129.5 258v2M129.5 269v1M129.5 278v1M130.5 237v1M130.5 243v2M130.5 265v5M131.5 212v3M131.5 268v4M146.5 204v2M147.5 219v2M147.5 227v1M148.5 218v8M148.5 231v1M149.5 227v1M155.5 202v1M157.5 230v1M159.5 277v1M159.5 292v1M160.5 249v1M160.5 281v3M160.5 285v2M160.5 291v1M161.5 224v2M161.5 244v1M161.5 281v5M162.5 223v2M162.5 319v1M164.5 246v1M164.5 259v1M164.5 318v1M165.5 246v1M165.5 260v1M166.5 229v1M166.5 255v1M168.5 202v21M168.5 238v1M169.5 228v2M169.5 290v1M170.5 256v1M170.5 265v1M170.5 267v1M171.5 260v1M172.5 235v15M173.5 234v2M173.5 250v1M173.5 319v1M174.5 227v1M174.5 241v2M174.5 265v2M174.5 278v1M175.5 244v1M175.5 270v1M175.5 275v1M175.5 303v2M175.5 316v1M175.5 319v1M176.5 234v2M176.5 271v1M176.5 278v1M176.5 302v1M176.5 305v1M177.5 250v4M177.5 270v1M178.5 216v1M178.5 240v2M178.5 291v2M179.5 214v1M179.5 251v1M179.5 290v1M179.5 293v1M180.5 201v4M180.5 247v3M180.5 261v2M181.5 234v11M181.5 252v1M181.5 266v1M182.5 238v1M182.5 240v1M182.5 276v2M182.5 282v1M183.5 208v4M183.5 223v2M183.5 258v1M183.5 270v3M183.5 284v2M184.5 283v3M185.5 227v1M185.5 229v1M185.5 285v3M186.5 234v1M186.5 279v3M187.5 244v8M187.5 271v2M188.5 265v1M189.5 264v1M190.5 208v1M190.5 255v1M190.5 274v1M191.5 216v5M191.5 224v3M191.5 233v1M191.5 250v1M191.5 252v2M191.5 274v1M192.5 268v2M193.5 237v1M193.5 261v1M194.5 259v1M209.5 226v1M210.5 232v1M211.5 232v1M211.5 261v1M213.5 262v1M215.5 224v4M216.5 232v1M217.5 228v2M218.5 225v3M219.5 246v1M219.5 293v1M220.5 245v1M221.5 209v5M221.5 230v1M222.5 201v2M222.5 211v4M223.5 207v2M223.5 221v2M224.5 209v11M230.5 205v2M231.5 219v1M232.5 220v5M233.5 227v11M234.5 249v1M234.5 265v2M235.5 253v2M235.5 264v1M235.5 274v1M236.5 205v15M236.5 258v2M236.5 267v1M236.5 274v1M237.5 227v1M237.5 230v1M237.5 259v1M238.5 223v2M238.5 261v1M239.5 225v2M239.5 238v3M239.5 257v1M240.5 218v1M240.5 257v1M241.5 215v2M242.5 229v2M242.5 232v1M243.5 238v1M244.5 243v1M244.5 269v1M245.5 237v2M246.5 214v4M246.5 229v3M258.5 241v1M259.5 226v3M260.5 224v2M260.5 264v1M261.5 225v2M261.5 249v1M261.5 263v1M262.5 201v2M262.5 226v1M262.5 258v2M262.5 267v1M263.5 227v2M264.5 256v7M265.5 277v1M267.5 214v2M268.5 220v1M269.5 221v2M270.5 212v4M270.5 220v1M271.5 220v1M272.5 210v1M274.5 204v2M275.5 204v4M276.5 221v1M277.5 228v2M278.5 231v2M278.5 234v1M279.5 226v5M279.5 236v2M280.5 218v1M280.5 246v1M281.5 213v2M281.5 249v1M282.5 224v1M282.5 268v1M283.5 219v6M283.5 235v3M284.5 215v2M284.5 257v1M285.5 237v2M285.5 257v2M286.5 227v2M286.5 251v2M287.5 206v1M287.5 218v1M287.5 241v4M288.5 201v2M289.5 207v11M289.5 234v2M289.5 272v1M290.5 209v9M290.5 232v2M291.5 219v2M291.5 239v1M292.5 218v1M292.5 264v2M292.5 287v1M292.5 289v1M293.5 212v2M294.5 215v2M294.5 266v1M295.5 223v1M298.5 204v2M298.5 234v1"/>
<path stroke="#0cf4eb" d="M58.5 201v2M58.5 212v8M60.5 259v3M61.5 218v1M62.5 214v1M63.5 201v17M65.5 201v3M66.5 207v2M66.5 242v3M66.5 254v1M66.5 276v1M67.5 202v1M67.5 235v2M67.5 246v2M67.5 251v1M68.5 251v2M69.5 248v2M70.5 238v2M71.5 232v1M72.5 201v2M72.5 231v1M72.5 242v1M73.5 211v2M73.5 231v1M74.5 217v1M74.5 233v1M75.5 215v1M76.5 212v1M77.5 208v2M77.5 215v1M78.5 211v3M78.5 228v1M78.5 230v1M79.5 201v2M80.5 205v2M81.5 202v2M82.5 247v1M83.5 223v2M83.5 237v1M83.5 241v3M83.5 250v1M84.5 254v3M85.5 205v5M85.5 249v1M86.5 219v2M86.5 247v1M87.5 216v2M87.5 241v2M88.5 216v1M88.5 244v1M88.5 248v1M89.5 225v2M89.5 230v3M89.5 255v2M90.5 233v2M90.5 254v2M91.5 243v1M92.5 212v3M92.5 235v1M92.5 241v1M93.5 234v2M93.5 291v1M94.5 218v9M94.5 233v4M94.5 263v1M95.5 223v3M95.5 235v2M96.5 201v3M96.5 233v2M97.5 235v1M98.5 239v2M99.5 207v3M99.5 217v6M99.5 226v15M99.5 246v7M99.5 258v5M100.5 201v1M100.5 278v1M101.5 212v3M101.5 233v1M102.5 201v1M102.5 209v3M102.5 236v1M103.5 212v4M104.5 206v2M104.5 227v6M106.5 207v1M106.5 220v1M109.5 247v1M111.5 225v2M112.5 215v7M112.5 229v1M112.5 232v1M113.5 209v4M113.5 225v3M114.5 201v13M123.5 213v1M124.5 214v3M125.5 233v2M126.5 238v2M127.5 244v2M128.5 203v3M128.5 224v1M128.5 258v5M128.5 266v1M128.5 279v1M129.5 218v15M129.5 257v1M129.5 277v1M130.5 238v2M130.5 264v1M130.5 270v2M131.5 215v3M131.5 253v2M131.5 266v2M131.5 272v3M132.5 243v1M137.5 347v1M138.5 347v1M146.5 206v5M147.5 221v2M148.5 214v4M148.5 232v4M149.5 229v1M155.5 203v1M156.5 201v1M156.5 228v1M158.5 209v8M159.5 248v1M159.5 282v4M160.5 250v2M160.5 276v1M160.5 287v3M160.5 320v1M161.5 226v3M161.5 276v1M161.5 286v1M162.5 225v1M162.5 262v1M164.5 244v2M164.5 260v1M164.5 320v1M165.5 230v1M165.5 245v1M165.5 261v1M165.5 302v1M166.5 253v1M167.5 288v1M168.5 223v3M168.5 371v1M169.5 230v2M169.5 241v1M170.5 257v2M171.5 261v2M172.5 250v4M172.5 318v2M173.5 236v6M173.5 247v1M173.5 357v1M174.5 228v3M174.5 239v2M174.5 267v2M175.5 271v2M176.5 229v5M176.5 272v2M176.5 275v1M177.5 225v2M177.5 271v1M177.5 302v1M177.5 305v1M178.5 217v2M178.5 266v2M178.5 304v1M178.5 389v1M179.5 215v2M179.5 250v1M179.5 269v1M179.5 389v1M180.5 205v5M180.5 243v4M180.5 263v2M180.5 290v1M180.5 293v1M181.5 201v1M181.5 232v2M181.5 245v7M181.5 253v1M181.5 268v1M182.5 201v3M182.5 235v3M182.5 241v7M182.5 273v3M182.5 283v2M183.5 212v11M183.5 259v2M183.5 267v3M183.5 286v2M184.5 223v1M184.5 286v3M185.5 228v1M185.5 288v3M185.5 319v1M186.5 233v1M186.5 282v2M187.5 236v8M187.5 273v1M188.5 262v1M189.5 263v1M189.5 265v1M190.5 209v2M190.5 254v1M190.5 275v1M191.5 221v3M191.5 227v6M191.5 237v1M191.5 249v1M191.5 275v1M192.5 270v2M192.5 291v1M193.5 238v3M193.5 259v1M193.5 272v1M194.5 225v1M205.5 201v1M208.5 224v1M210.5 201v13M211.5 201v1M211.5 271v1M213.5 260v1M214.5 202v9M215.5 228v2M215.5 280v1M216.5 233v1M217.5 230v2M217.5 236v1M217.5 281v1M217.5 308v1M218.5 228v4M218.5 235v1M218.5 318v1M219.5 247v2M220.5 246v1M221.5 214v5M221.5 231v1M222.5 215v3M222.5 229v1M223.5 205v2M223.5 223v2M223.5 229v1M224.5 208v1M224.5 220v2M230.5 207v3M231.5 220v1M232.5 225v5M233.5 238v3M233.5 359v1M234.5 250v1M234.5 352v1M234.5 359v1M235.5 255v2M235.5 352v1M236.5 201v4M236.5 260v2M236.5 264v1M236.5 277v1M237.5 260v2M237.5 289v1M237.5 314v1M238.5 222v1M238.5 262v2M239.5 223v2M239.5 241v4M239.5 291v1M240.5 213v5M240.5 219v4M241.5 217v2M241.5 259v1M242.5 231v1M242.5 243v1M243.5 239v1M243.5 242v1M244.5 236v1M245.5 239v1M246.5 201v13M246.5 232v1M247.5 219v6M259.5 229v2M260.5 226v1M260.5 265v1M261.5 227v1M262.5 227v2M262.5 248v1M262.5 257v1M262.5 268v2M263.5 259v7M264.5 254v2M264.5 263v3M265.5 256v6M266.5 278v1M267.5 216v1M267.5 242v1M267.5 251v2M268.5 221v1M269.5 223v1M270.5 207v5M270.5 221v1M272.5 211v1M273.5 209v1M274.5 206v1M275.5 208v2M277.5 230v2M279.5 225v1M279.5 238v3M280.5 216v2M280.5 247v1M281.5 212v1M281.5 250v1M282.5 222v2M282.5 247v1M282.5 255v1M283.5 238v2M284.5 217v3M284.5 226v11M284.5 244v1M284.5 255v1M285.5 235v2M285.5 259v3M286.5 225v2M286.5 253v2M287.5 207v2M287.5 216v2M287.5 245v3M288.5 203v3M288.5 232v1M289.5 236v1M290.5 234v1M290.5 252v1M291.5 221v4M291.5 252v1M292.5 219v1M292.5 237v1M293.5 214v2M293.5 263v1M294.5 217v3M295.5 224v1M295.5 264v2M297.5 227v1M298.5 201v3M298.5 243v1M299.5 236v1"/>
<path stroke="#19ffde" d="M60.5 262v3M61.5 219v1M62.5 215v1M63.5 218v4M65.5 204v2M65.5 238v1M65.5 240v1M66.5 209v1M66.5 234v3M66.5 245v3M67.5 203v1M67.5 234v1M67.5 248v2M68.5 253v1M69.5 250v1M70.5 240v2M70.5 263v1M71.5 233v1M73.5 210v1M73.5 232v1M74.5 216v1M74.5 234v2M75.5 214v1M76.5 211v1M77.5 205v3M77.5 216v1M78.5 207v4M78.5 214v2M79.5 203v4M79.5 230v1M80.5 207v1M81.5 204v2M83.5 225v2M83.5 238v3M83.5 251v3M84.5 257v1M85.5 201v4M85.5 250v2M85.5 263v1M86.5 216v3M86.5 248v1M86.5 354v1M87.5 215v1M87.5 243v1M88.5 214v2M88.5 245v1M88.5 332v1M89.5 227v3M89.5 257v3M90.5 231v2M90.5 256v2M90.5 277v1M91.5 277v1M92.5 205v7M92.5 236v1M92.5 242v1M93.5 236v2M93.5 320v1M94.5 237v1M94.5 293v1M95.5 201v9M95.5 217v6M95.5 237v1M96.5 235v1M96.5 264v1M97.5 236v1M98.5 245v1M98.5 253v1M98.5 257v1M98.5 277v1M99.5 210v7M99.5 263v4M100.5 202v5M101.5 208v4M101.5 291v1M102.5 202v7M102.5 237v1M103.5 237v1M104.5 208v3M104.5 224v3M104.5 233v1M106.5 206v1M106.5 221v1M106.5 225v1M106.5 257v1M107.5 255v1M107.5 257v1M107.5 323v1M108.5 246v1M108.5 264v1M108.5 266v1M109.5 248v2M110.5 246v1M111.5 227v5M112.5 222v5M113.5 201v8M113.5 228v1M114.5 214v1M123.5 214v2M124.5 217v3M125.5 235v2M126.5 240v1M126.5 313v1M127.5 246v1M128.5 206v4M128.5 227v1M128.5 232v1M128.5 236v1M128.5 255v3M128.5 263v3M129.5 237v1M129.5 256v1M129.5 270v1M130.5 240v3M130.5 262v2M130.5 272v1M130.5 331v1M131.5 218v3M131.5 245v1M131.5 265v1M131.5 275v2M136.5 347v1M137.5 348v1M146.5 211v5M147.5 223v1M147.5 229v1M148.5 212v2M148.5 236v2M155.5 204v3M156.5 202v3M157.5 201v19M158.5 204v5M158.5 217v3M158.5 229v1M159.5 249v1M159.5 280v2M159.5 286v3M160.5 252v1M161.5 229v4M161.5 247v1M161.5 287v1M162.5 226v2M162.5 278v1M162.5 320v1M163.5 201v3M164.5 241v3M164.5 261v1M165.5 244v1M165.5 262v1M167.5 231v1M167.5 328v2M168.5 226v5M168.5 267v1M168.5 291v1M169.5 232v3M169.5 237v1M169.5 288v1M169.5 371v1M170.5 259v2M171.5 263v4M172.5 254v5M172.5 317v1M172.5 357v1M173.5 242v5M173.5 251v8M174.5 231v8M174.5 269v2M174.5 275v1M174.5 315v1M174.5 320v1M175.5 208v12M175.5 243v1M175.5 273v2M175.5 345v1M176.5 228v1M176.5 274v1M176.5 317v2M177.5 201v5M177.5 224v1M177.5 272v2M178.5 219v1M178.5 228v1M178.5 254v12M178.5 268v1M178.5 303v1M178.5 305v1M179.5 217v1M179.5 249v1M179.5 304v2M180.5 210v5M180.5 238v5M180.5 269v1M180.5 389v1M181.5 202v4M181.5 229v3M181.5 254v2M181.5 291v1M182.5 204v9M182.5 231v4M182.5 248v3M182.5 254v1M182.5 270v3M182.5 285v3M183.5 261v6M183.5 288v2M184.5 201v4M184.5 221v2M184.5 289v2M184.5 307v2M185.5 291v2M186.5 232v1M186.5 284v2M187.5 234v2M187.5 274v2M189.5 262v1M189.5 266v3M190.5 211v2M190.5 252v2M190.5 276v1M191.5 238v11M191.5 276v1M192.5 272v2M193.5 241v2M193.5 249v1M193.5 273v1M193.5 290v1M194.5 207v13M195.5 271v1M204.5 201v4M205.5 202v4M209.5 224v1M209.5 270v1M210.5 214v5M211.5 202v2M211.5 270v1M214.5 201v1M214.5 211v4M215.5 230v3M215.5 282v1M216.5 234v1M216.5 246v1M217.5 232v1M217.5 238v1M217.5 294v1M218.5 232v3M218.5 239v1M219.5 249v1M220.5 247v1M221.5 219v5M221.5 229v1M222.5 218v3M222.5 232v1M223.5 203v2M223.5 225v1M223.5 232v1M224.5 206v2M224.5 222v2M231.5 221v4M232.5 230v1M233.5 241v2M233.5 352v1M234.5 251v2M234.5 275v1M234.5 353v1M235.5 257v2M235.5 277v1M235.5 353v1M236.5 262v2M237.5 226v1M237.5 262v5M237.5 291v1M238.5 220v2M238.5 264v1M239.5 222v1M239.5 245v7M239.5 256v1M239.5 380v1M240.5 211v2M240.5 223v2M241.5 219v1M242.5 235v1M243.5 240v2M244.5 237v2M245.5 240v1M246.5 233v2M247.5 216v3M247.5 225v4M259.5 231v1M259.5 241v1M260.5 227v2M260.5 247v1M261.5 228v2M261.5 266v1M261.5 306v1M262.5 229v2M262.5 255v2M262.5 270v1M263.5 208v19M263.5 229v1M263.5 256v3M263.5 266v1M264.5 229v1M264.5 252v2M264.5 266v2M265.5 253v3M265.5 262v3M266.5 240v1M267.5 217v1M268.5 222v1M268.5 242v1M269.5 224v5M269.5 240v1M270.5 201v6M270.5 222v1M271.5 221v1M274.5 207v1M275.5 210v2M276.5 222v1M277.5 232v2M278.5 235v2M279.5 224v1M279.5 241v2M280.5 215v1M280.5 248v1M281.5 210v2M281.5 251v1M282.5 220v2M282.5 248v1M283.5 240v3M283.5 246v1M283.5 266v1M284.5 220v6M284.5 237v3M284.5 243v1M284.5 245v1M285.5 233v2M285.5 262v3M286.5 224v1M286.5 255v1M286.5 309v1M287.5 209v2M287.5 213v3M287.5 248v2M287.5 273v1M288.5 206v3M288.5 225v3M288.5 233v12M288.5 324v1M289.5 237v2M290.5 235v4M290.5 287v1M290.5 289v1M291.5 225v7M291.5 264v2M292.5 220v1M292.5 239v1M292.5 263v1M292.5 266v1M293.5 216v3M293.5 266v1M294.5 220v3M295.5 225v1M297.5 228v1M298.5 235v1M299.5 265v1M300.5 236v1"/>
<path stroke="#26ffd1" d="M61.5 220v2M62.5 216v1M63.5 222v2M63.5 225v1M64.5 227v1M65.5 206v2M66.5 210v2M66.5 232v2M66.5 248v3M67.5 204v2M67.5 233v1M67.5 250v1M67.5 254v1M68.5 254v1M68.5 275v1M69.5 251v2M69.5 263v1M70.5 242v2M71.5 234v2M72.5 232v1M73.5 208v2M73.5 233v4M73.5 241v1M74.5 215v1M74.5 236v1M74.5 243v1M75.5 232v1M76.5 209v2M76.5 231v1M77.5 201v4M77.5 217v1M77.5 229v1M78.5 204v3M78.5 216v1M79.5 207v11M80.5 208v1M81.5 206v1M83.5 227v4M83.5 233v1M83.5 254v1M83.5 264v1M84.5 258v2M85.5 252v2M86.5 212v4M86.5 249v1M87.5 213v2M87.5 244v1M87.5 249v2M87.5 332v1M87.5 354v1M88.5 213v1M88.5 246v2M89.5 224v1M89.5 260v3M90.5 229v2M90.5 258v4M90.5 274v1M92.5 201v4M92.5 237v2M92.5 240v1M92.5 293v1M93.5 238v1M94.5 238v2M95.5 210v7M95.5 238v2M96.5 236v1M97.5 237v2M97.5 244v1M98.5 246v3M98.5 258v9M99.5 267v2M100.5 207v21M100.5 230v3M100.5 242v3M100.5 279v1M101.5 201v7M101.5 234v2M101.5 293v1M102.5 238v1M103.5 238v1M103.5 292v1M104.5 211v4M104.5 219v5M104.5 234v2M106.5 205v1M106.5 222v3M106.5 226v1M106.5 255v1M106.5 323v1M108.5 201v9M108.5 242v1M109.5 250v2M111.5 232v1M112.5 227v2M114.5 215v4M122.5 201v2M123.5 216v1M124.5 220v2M125.5 237v2M126.5 241v2M127.5 247v3M128.5 210v4M128.5 223v1M128.5 228v4M128.5 237v3M128.5 253v2M129.5 238v2M129.5 254v2M129.5 271v2M130.5 261v1M130.5 273v2M131.5 221v4M131.5 264v1M131.5 277v1M131.5 331v1M138.5 348v1M145.5 201v4M147.5 224v3M148.5 210v2M148.5 238v1M155.5 207v2M156.5 205v6M157.5 220v3M158.5 201v3M158.5 220v3M158.5 228v1M158.5 289v1M159.5 250v2M160.5 253v1M160.5 275v1M160.5 292v1M161.5 233v8M161.5 243v1M161.5 274v2M161.5 288v2M162.5 228v3M162.5 245v2M162.5 261v1M162.5 263v1M162.5 277v1M162.5 279v1M162.5 318v1M163.5 204v3M163.5 246v9M164.5 236v5M164.5 262v2M165.5 231v1M165.5 242v2M165.5 263v1M165.5 301v1M165.5 303v1M166.5 252v1M166.5 256v1M167.5 229v1M167.5 256v1M167.5 371v1M168.5 231v1M168.5 241v1M168.5 265v1M168.5 302v1M169.5 235v2M169.5 242v1M169.5 254v1M170.5 261v2M170.5 264v1M171.5 267v1M171.5 318v2M172.5 259v5M172.5 316v1M173.5 259v7M173.5 277v1M173.5 315v1M173.5 320v1M174.5 271v4M174.5 279v1M175.5 201v7M175.5 220v1M175.5 242v1M175.5 279v1M175.5 302v1M175.5 305v1M175.5 315v1M175.5 320v1M176.5 201v12M176.5 223v5M176.5 345v1M177.5 206v8M177.5 221v3M177.5 274v4M177.5 389v1M178.5 220v1M178.5 231v1M178.5 239v1M178.5 242v1M178.5 248v6M178.5 269v1M178.5 290v1M178.5 293v1M179.5 218v1M179.5 248v1M179.5 270v2M179.5 324v2M180.5 215v9M180.5 227v11M180.5 324v2M181.5 206v4M181.5 226v3M181.5 256v5M181.5 265v1M181.5 292v1M182.5 213v8M182.5 225v6M182.5 255v1M182.5 266v4M182.5 288v2M183.5 290v2M184.5 205v3M184.5 220v1M184.5 291v2M185.5 293v2M185.5 318v1M186.5 231v1M186.5 286v2M187.5 231v3M187.5 276v1M188.5 261v1M188.5 266v1M189.5 201v4M189.5 259v3M189.5 269v2M190.5 213v3M190.5 235v1M190.5 250v2M190.5 277v1M191.5 277v1M192.5 274v1M193.5 243v6M193.5 253v1M193.5 258v1M193.5 262v1M193.5 271v1M194.5 201v6M194.5 220v2M194.5 224v1M194.5 226v1M195.5 261v1M204.5 205v3M205.5 206v2M207.5 225v1M209.5 210v10M210.5 219v4M210.5 224v2M210.5 272v1M211.5 204v2M211.5 262v1M214.5 215v5M214.5 227v4M215.5 233v2M216.5 235v2M217.5 233v3M217.5 246v1M217.5 280v1M217.5 292v1M219.5 250v1M219.5 294v1M220.5 248v2M221.5 224v5M221.5 232v1M222.5 221v3M223.5 201v2M223.5 226v3M224.5 205v1M224.5 224v1M230.5 210v1M231.5 225v1M232.5 231v4M232.5 352v1M233.5 243v4M233.5 353v1M234.5 253v3M234.5 276v1M235.5 259v3M236.5 352v2M237.5 225v1M237.5 267v1M237.5 275v2M238.5 218v2M238.5 265v1M239.5 221v1M239.5 252v4M239.5 260v1M240.5 208v3M240.5 225v1M240.5 380v1M241.5 220v2M243.5 269v1M243.5 271v1M244.5 239v1M244.5 245v1M245.5 241v1M246.5 235v2M247.5 214v2M247.5 229v3M259.5 232v2M259.5 313v1M260.5 229v2M261.5 230v2M262.5 231v2M262.5 247v1M262.5 249v1M262.5 254v1M262.5 271v1M263.5 203v5M263.5 230v1M263.5 254v2M263.5 267v2M264.5 226v1M264.5 250v2M264.5 268v1M265.5 229v1M265.5 251v2M265.5 265v1M265.5 276v1M266.5 241v1M267.5 218v1M267.5 238v1M267.5 243v1M267.5 277v1M268.5 223v3M268.5 235v1M268.5 237v2M268.5 250v1M268.5 253v1M269.5 229v7M269.5 239v1M269.5 241v1M270.5 223v1M272.5 212v1M274.5 208v1M275.5 212v1M277.5 234v1M278.5 237v1M279.5 222v2M279.5 243v2M280.5 213v2M280.5 249v1M281.5 208v2M281.5 252v1M282.5 218v2M282.5 249v2M283.5 258v1M283.5 268v1M284.5 240v3M284.5 246v1M284.5 254v1M284.5 258v1M285.5 232v1M285.5 265v3M286.5 223v1M286.5 256v2M287.5 211v2M287.5 250v2M287.5 274v1M287.5 309v1M287.5 324v1M288.5 209v4M288.5 220v5M288.5 245v4M289.5 239v2M289.5 253v1M290.5 239v1M291.5 232v3M291.5 236v1M291.5 255v1M291.5 261v3M291.5 266v1M292.5 221v1M293.5 219v3M294.5 223v5M294.5 262v1M295.5 263v1M296.5 226v1M297.5 229v1M299.5 237v1M299.5 264v1M299.5 266v2M300.5 237v1M300.5 242v2"/>
<path stroke="#33ffc4" d="M61.5 222v1M62.5 217v2M62.5 226v1M62.5 228v1M63.5 224v1M63.5 229v1M65.5 208v2M65.5 241v1M65.5 251v1M65.5 254v1M66.5 212v2M66.5 229v3M66.5 275v1M66.5 291v1M67.5 206v1M67.5 232v1M68.5 255v1M69.5 253v2M69.5 260v1M70.5 244v2M70.5 260v1M71.5 236v1M71.5 243v1M72.5 233v1M73.5 206v2M73.5 237v4M73.5 245v1M74.5 214v1M74.5 237v3M74.5 242v1M74.5 244v1M75.5 212v2M76.5 208v1M77.5 218v1M78.5 201v3M78.5 217v1M79.5 218v10M80.5 209v2M81.5 207v1M83.5 231v2M83.5 255v2M84.5 260v3M84.5 266v1M85.5 254v1M86.5 202v10M86.5 250v2M87.5 210v3M87.5 245v2M88.5 211v2M89.5 218v6M89.5 263v3M90.5 201v10M90.5 226v3M90.5 262v4M91.5 217v23M91.5 244v1M91.5 274v1M92.5 239v1M92.5 275v2M92.5 320v1M93.5 239v1M94.5 240v1M94.5 265v1M95.5 240v1M96.5 237v1M96.5 263v1M97.5 239v1M97.5 241v1M98.5 249v4M98.5 267v3M99.5 269v3M99.5 280v1M100.5 228v2M100.5 233v9M100.5 245v6M101.5 236v3M102.5 239v1M103.5 239v1M104.5 215v4M104.5 236v1M105.5 207v13M107.5 211v1M108.5 210v2M108.5 240v2M108.5 247v2M108.5 256v1M109.5 252v1M110.5 247v1M110.5 264v1M110.5 266v1M111.5 233v2M112.5 233v1M114.5 219v3M114.5 230v1M122.5 203v3M123.5 217v1M124.5 222v3M125.5 239v2M126.5 243v2M126.5 268v1M127.5 250v3M127.5 277v1M128.5 214v9M128.5 240v4M128.5 251v2M128.5 270v1M129.5 240v4M129.5 253v1M129.5 273v1M129.5 279v1M130.5 245v1M130.5 259v2M130.5 275v1M130.5 277v1M131.5 225v6M131.5 234v1M131.5 242v1M131.5 263v1M131.5 278v2M132.5 201v3M132.5 274v3M136.5 348v1M139.5 347v1M146.5 216v4M148.5 208v2M148.5 239v1M149.5 226v1M149.5 230v1M149.5 234v3M155.5 209v1M156.5 211v9M156.5 230v1M157.5 223v3M157.5 227v1M158.5 223v5M158.5 230v1M158.5 292v1M159.5 252v1M159.5 262v1M159.5 276v1M160.5 254v2M160.5 260v1M160.5 264v1M160.5 268v7M161.5 241v2M161.5 260v1M161.5 264v1M161.5 271v3M161.5 290v1M161.5 320v1M162.5 231v4M162.5 244v1M162.5 247v1M162.5 280v7M163.5 207v3M163.5 231v15M163.5 255v4M164.5 234v2M164.5 264v2M165.5 239v3M165.5 264v2M166.5 249v3M166.5 257v3M166.5 300v1M166.5 304v1M167.5 201v2M167.5 239v1M167.5 252v1M167.5 291v1M167.5 300v1M167.5 304v1M168.5 232v3M168.5 237v1M168.5 252v1M168.5 256v1M168.5 287v1M168.5 301v1M168.5 303v1M169.5 243v7M169.5 253v1M169.5 255v1M169.5 268v1M169.5 291v1M170.5 263v1M170.5 268v1M171.5 268v2M171.5 317v1M172.5 264v5M172.5 315v1M172.5 320v1M173.5 266v11M173.5 278v2M173.5 314v1M174.5 280v1M174.5 314v1M174.5 321v1M174.5 357v1M175.5 221v1M175.5 241v1M176.5 213v10M176.5 279v1M176.5 301v1M176.5 306v1M176.5 316v1M176.5 319v1M177.5 214v7M177.5 278v1M178.5 221v1M178.5 243v5M178.5 270v2M178.5 302v1M179.5 219v1M179.5 247v1M179.5 272v2M180.5 224v3M180.5 270v2M181.5 210v8M181.5 219v7M181.5 261v4M181.5 269v1M181.5 279v3M181.5 290v1M182.5 221v4M182.5 256v10M182.5 290v3M182.5 319v1M183.5 292v2M184.5 208v4M184.5 217v3M184.5 293v2M185.5 295v1M186.5 230v1M186.5 288v2M187.5 228v3M187.5 277v2M188.5 256v5M188.5 267v1M189.5 205v6M189.5 255v4M189.5 271v2M190.5 216v4M190.5 226v9M190.5 236v8M190.5 246v4M190.5 278v1M191.5 278v1M191.5 291v1M192.5 275v1M193.5 254v4M193.5 263v5M193.5 270v1M193.5 289v1M194.5 222v2M204.5 208v2M205.5 208v2M209.5 205v5M209.5 220v4M210.5 223v1M210.5 226v6M210.5 235v1M211.5 206v1M211.5 260v1M212.5 263v1M214.5 220v7M214.5 231v5M215.5 235v2M215.5 247v1M216.5 237v1M216.5 308v1M216.5 331v2M217.5 282v1M217.5 331v2M218.5 240v2M218.5 247v1M219.5 251v2M220.5 250v1M221.5 233v4M222.5 224v5M223.5 233v3M224.5 204v1M224.5 225v1M224.5 230v1M230.5 211v2M232.5 235v1M232.5 353v1M233.5 247v3M234.5 256v2M234.5 264v1M234.5 267v1M234.5 351v1M234.5 354v1M235.5 262v2M235.5 351v1M236.5 268v2M236.5 273v1M236.5 278v1M237.5 201v7M237.5 223v2M237.5 268v1M237.5 274v1M237.5 277v1M238.5 215v3M238.5 266v2M238.5 288v1M238.5 380v1M239.5 220v1M239.5 261v1M240.5 204v4M240.5 226v2M241.5 222v1M241.5 257v1M242.5 236v1M242.5 245v1M242.5 330v2M243.5 246v1M244.5 240v1M244.5 242v1M245.5 242v2M245.5 270v1M246.5 237v2M247.5 208v6M247.5 232v1M257.5 240v1M257.5 326v2M258.5 201v2M258.5 238v1M259.5 234v2M259.5 238v1M260.5 231v2M260.5 249v1M261.5 232v3M262.5 233v2M262.5 252v2M262.5 272v1M263.5 201v2M263.5 231v4M263.5 252v2M263.5 269v1M264.5 248v2M264.5 269v2M265.5 248v3M265.5 266v2M266.5 239v1M266.5 242v1M267.5 219v2M267.5 234v4M267.5 244v2M267.5 250v1M268.5 226v9M268.5 236v1M268.5 243v1M269.5 236v3M270.5 224v5M270.5 232v4M271.5 222v1M272.5 213v1M273.5 210v1M274.5 209v1M275.5 213v2M276.5 223v2M278.5 238v2M279.5 201v4M279.5 219v3M279.5 245v1M280.5 210v3M280.5 250v1M281.5 203v5M281.5 253v1M281.5 267v1M282.5 216v2M282.5 251v1M283.5 247v2M283.5 254v1M284.5 247v7M284.5 259v1M285.5 230v2M285.5 268v2M286.5 222v1M286.5 258v3M287.5 252v1M287.5 272v1M288.5 213v7M288.5 249v2M288.5 275v1M289.5 241v2M289.5 254v1M290.5 240v2M290.5 255v1M291.5 235v1M291.5 240v1M291.5 259v2M291.5 267v2M291.5 286v1M291.5 290v1M292.5 222v2M292.5 262v1M292.5 267v1M293.5 222v8M294.5 228v6M295.5 226v1M295.5 262v1M295.5 266v1M297.5 230v5M298.5 236v1M298.5 242v1M299.5 244v1M299.5 263v1M300.5 238v1"/>
<path stroke="#40ffb7" d="M57.5 201v4M61.5 223v1M62.5 219v1M65.5 210v1M65.5 237v1M65.5 242v9M65.5 291v1M66.5 214v3M66.5 226v3M66.5 277v1M66.5 288v1M67.5 207v1M67.5 230v2M67.5 289v2M68.5 256v1M68.5 277v1M69.5 255v2M70.5 246v3M71.5 237v3M71.5 242v1M71.5 244v1M71.5 262v1M72.5 234v2M73.5 204v2M74.5 213v1M74.5 240v2M75.5 211v1M75.5 233v1M76.5 206v2M77.5 219v1M78.5 218v1M80.5 211v1M81.5 208v1M82.5 201v6M83.5 257v1M83.5 265v1M85.5 255v3M85.5 354v1M86.5 201v1M86.5 252v1M87.5 207v3M87.5 247v2M87.5 251v1M88.5 209v2M88.5 252v1M89.5 201v17M89.5 266v4M89.5 275v2M90.5 211v15M90.5 266v4M91.5 201v16M91.5 245v3M91.5 305v2M92.5 243v1M92.5 305v2M93.5 240v2M94.5 241v2M95.5 241v2M96.5 238v1M97.5 240v1M98.5 270v3M99.5 272v2M99.5 276v1M100.5 251v6M100.5 277v1M101.5 239v3M102.5 240v1M103.5 240v1M104.5 237v1M105.5 203v4M105.5 220v8M106.5 204v1M106.5 227v1M107.5 209v2M107.5 212v3M107.5 224v1M107.5 265v2M108.5 212v2M108.5 238v2M108.5 249v3M108.5 255v1M108.5 257v1M108.5 275v1M109.5 253v2M110.5 248v1M111.5 235v2M112.5 234v1M113.5 233v1M114.5 222v1M114.5 231v1M122.5 206v3M123.5 218v2M124.5 225v3M125.5 241v2M126.5 245v3M127.5 253v5M127.5 266v1M127.5 313v1M128.5 244v7M129.5 244v2M129.5 251v2M129.5 274v1M129.5 276v1M130.5 257v2M130.5 276v1M130.5 278v1M131.5 231v3M131.5 235v2M131.5 262v1M131.5 280v1M132.5 204v3M132.5 267v7M132.5 277v2M145.5 205v1M146.5 220v1M148.5 206v2M148.5 240v1M149.5 231v3M149.5 237v3M155.5 210v2M156.5 220v2M157.5 226v1M158.5 231v1M159.5 253v2M159.5 261v1M159.5 263v1M160.5 256v4M160.5 265v3M160.5 293v1M161.5 248v2M161.5 268v3M161.5 291v1M162.5 235v9M162.5 248v7M162.5 274v3M162.5 287v2M163.5 210v3M163.5 226v5M163.5 259v5M163.5 283v3M163.5 317v1M163.5 321v1M164.5 201v1M164.5 231v3M164.5 266v7M164.5 317v1M165.5 229v1M165.5 236v3M165.5 266v3M165.5 319v1M166.5 246v3M166.5 260v4M166.5 289v1M166.5 328v2M167.5 203v3M167.5 240v1M167.5 287v1M168.5 235v2M168.5 242v10M168.5 328v2M169.5 250v3M169.5 264v1M169.5 287v1M170.5 269v1M170.5 288v3M170.5 313v8M171.5 270v5M171.5 311v6M171.5 320v2M172.5 269v11M172.5 309v6M172.5 321v2M173.5 280v13M173.5 308v6M173.5 321v3M174.5 281v13M174.5 302v4M174.5 308v6M174.5 322v2M175.5 222v2M175.5 240v1M175.5 280v11M175.5 301v1M175.5 306v1M175.5 309v6M175.5 321v2M176.5 280v7M176.5 311v5M176.5 320v2M177.5 279v4M177.5 290v4M177.5 301v1M177.5 306v1M177.5 315v5M178.5 222v3M178.5 238v1M178.5 272v6M178.5 289v1M178.5 294v1M178.5 306v1M178.5 324v1M179.5 220v1M179.5 246v1M179.5 274v4M179.5 289v1M179.5 294v1M179.5 303v1M180.5 272v5M180.5 289v1M180.5 294v1M181.5 218v1M181.5 270v9M181.5 282v6M181.5 289v1M181.5 293v1M181.5 389v1M182.5 293v1M182.5 318v1M183.5 294v2M183.5 307v2M183.5 317v1M184.5 212v5M184.5 295v2M184.5 317v1M185.5 224v1M185.5 296v2M185.5 320v1M186.5 229v1M186.5 290v2M187.5 226v2M187.5 279v2M188.5 201v17M188.5 252v4M188.5 268v3M189.5 211v10M189.5 248v7M189.5 273v2M190.5 220v6M190.5 244v2M190.5 279v1M191.5 279v2M192.5 276v2M192.5 288v1M193.5 268v2M193.5 274v1M194.5 274v1M197.5 201v4M205.5 210v1M206.5 201v6M209.5 201v4M209.5 227v1M210.5 236v8M211.5 207v2M211.5 272v1M212.5 233v1M212.5 259v1M214.5 236v5M215.5 237v1M215.5 248v1M216.5 238v1M217.5 239v1M218.5 242v3M218.5 246v1M218.5 248v1M219.5 253v2M219.5 292v1M219.5 318v1M220.5 251v1M221.5 237v3M222.5 233v3M223.5 236v2M224.5 202v2M224.5 226v4M224.5 231v1M230.5 213v2M231.5 226v4M232.5 236v3M232.5 359v1M233.5 250v1M233.5 351v1M233.5 354v1M234.5 258v5M235.5 268v1M235.5 354v1M235.5 359v1M236.5 270v3M236.5 279v4M236.5 351v1M236.5 354v1M237.5 208v6M237.5 221v2M237.5 269v5M237.5 278v1M237.5 288v1M237.5 352v2M238.5 213v2M238.5 268v3M238.5 292v1M238.5 314v1M239.5 219v1M239.5 262v3M239.5 381v1M240.5 201v3M240.5 228v1M240.5 381v1M241.5 223v3M242.5 237v1M242.5 242v1M244.5 241v1M245.5 244v1M246.5 239v2M247.5 201v7M247.5 233v1M248.5 220v4M255.5 201v4M256.5 211v1M258.5 203v4M258.5 313v1M258.5 326v2M259.5 236v2M259.5 312v1M260.5 233v3M260.5 239v2M261.5 235v3M261.5 246v1M261.5 305v1M262.5 235v2M262.5 250v2M262.5 273v1M263.5 235v3M263.5 250v2M263.5 270v2M264.5 230v10M264.5 244v4M264.5 271v1M265.5 226v1M265.5 235v13M265.5 268v1M265.5 278v1M266.5 227v2M266.5 235v4M266.5 243v3M267.5 221v3M267.5 229v5M267.5 246v4M267.5 253v1M268.5 244v1M269.5 242v1M270.5 229v3M272.5 214v1M275.5 215v3M276.5 225v1M277.5 235v2M278.5 240v1M279.5 205v4M279.5 215v4M279.5 246v2M280.5 207v3M280.5 251v1M281.5 201v2M281.5 254v3M282.5 215v1M282.5 252v3M282.5 258v1M283.5 249v5M284.5 260v4M284.5 266v2M285.5 228v2M285.5 270v2M286.5 221v1M286.5 261v14M287.5 253v2M287.5 275v1M288.5 251v3M288.5 271v1M289.5 243v3M289.5 275v1M290.5 242v5M290.5 251v1M290.5 273v1M291.5 241v4M291.5 251v1M291.5 256v3M291.5 269v1M292.5 224v1M292.5 261v1M292.5 268v1M292.5 290v1M293.5 230v4M293.5 238v1M294.5 234v2M294.5 261v1M294.5 267v1M295.5 227v1M297.5 235v1M299.5 238v1M299.5 241v1M299.5 262v1M300.5 239v1"/>
<path stroke="#4dffaa" d="M61.5 224v4M61.5 262v9M62.5 220v1M63.5 230v1M64.5 201v5M64.5 226v1M64.5 228v1M65.5 211v2M65.5 234v3M65.5 288v1M66.5 217v9M66.5 255v1M67.5 208v1M67.5 229v1M67.5 255v1M68.5 257v2M68.5 261v2M69.5 257v3M70.5 249v4M71.5 240v2M71.5 261v1M72.5 236v2M72.5 241v1M72.5 245v1M73.5 201v3M73.5 246v1M74.5 212v1M75.5 210v1M75.5 234v2M76.5 204v2M77.5 220v1M77.5 228v1M77.5 230v1M78.5 219v1M80.5 212v1M81.5 209v1M82.5 207v5M83.5 258v3M83.5 263v1M85.5 258v2M85.5 266v1M86.5 253v2M86.5 353v1M87.5 201v6M88.5 205v4M88.5 253v1M89.5 270v3M89.5 274v1M90.5 270v4M91.5 248v4M92.5 291v1M93.5 242v1M93.5 321v1M94.5 243v1M94.5 291v1M95.5 243v1M95.5 262v1M96.5 239v2M96.5 242v1M96.5 255v1M96.5 265v1M98.5 273v2M98.5 276v1M98.5 280v1M99.5 274v2M100.5 257v6M101.5 242v4M102.5 241v1M103.5 291v1M104.5 238v1M105.5 201v2M105.5 228v5M106.5 203v1M106.5 228v2M107.5 207v2M107.5 215v2M107.5 263v2M107.5 267v2M107.5 276v2M108.5 214v1M108.5 224v1M108.5 237v1M108.5 252v3M108.5 258v1M108.5 263v1M109.5 255v2M110.5 249v2M111.5 237v3M112.5 235v2M114.5 223v1M115.5 201v2M121.5 201v1M122.5 209v5M123.5 220v1M124.5 228v4M125.5 243v2M126.5 248v3M126.5 314v1M127.5 258v4M128.5 271v1M128.5 276v1M129.5 246v5M129.5 275v1M130.5 246v1M130.5 253v4M130.5 279v1M131.5 237v3M131.5 255v1M131.5 261v1M131.5 281v1M132.5 207v2M132.5 265v2M132.5 279v3M138.5 201v3M145.5 206v4M147.5 230v1M148.5 204v2M148.5 241v1M149.5 222v4M149.5 240v3M154.5 201v1M155.5 212v2M156.5 222v1M157.5 231v1M158.5 232v10M159.5 255v6M159.5 270v3M159.5 274v2M159.5 293v1M159.5 320v1M161.5 250v6M161.5 259v1M161.5 265v3M161.5 292v1M162.5 255v6M162.5 264v1M162.5 270v4M162.5 289v2M163.5 213v3M163.5 222v4M163.5 264v19M163.5 286v3M164.5 202v1M164.5 230v1M164.5 273v15M164.5 321v1M165.5 234v2M165.5 269v7M165.5 300v1M165.5 318v1M165.5 320v1M166.5 243v3M166.5 264v4M166.5 288v1M166.5 290v1M167.5 206v4M167.5 228v1M167.5 232v1M167.5 238v1M167.5 241v11M167.5 257v3M167.5 266v1M168.5 286v1M168.5 292v1M168.5 300v1M168.5 304v1M168.5 312v8M169.5 256v2M169.5 283v4M169.5 292v2M169.5 301v3M169.5 309v14M170.5 270v18M170.5 291v22M170.5 321v3M170.5 371v1M171.5 275v36M171.5 322v3M172.5 280v29M172.5 323v2M173.5 293v15M173.5 324v2M174.5 294v8M174.5 306v2M174.5 324v2M175.5 224v1M175.5 291v10M175.5 307v2M175.5 323v2M175.5 344v1M176.5 287v14M176.5 307v4M176.5 322v3M177.5 283v7M177.5 294v7M177.5 307v8M177.5 320v3M178.5 225v3M178.5 232v6M178.5 278v11M178.5 295v7M178.5 307v1M178.5 310v11M178.5 325v1M179.5 221v1M179.5 245v1M179.5 278v11M179.5 295v3M179.5 306v1M180.5 277v12M180.5 304v2M181.5 288v1M181.5 294v1M182.5 294v3M182.5 320v1M183.5 296v2M184.5 297v2M184.5 321v1M185.5 298v2M185.5 307v2M186.5 228v1M186.5 292v2M187.5 224v2M187.5 281v2M188.5 218v4M188.5 249v3M188.5 271v2M189.5 221v27M189.5 275v2M190.5 280v1M191.5 281v1M191.5 288v1M192.5 278v1M194.5 227v1M194.5 262v1M194.5 270v1M195.5 259v1M197.5 205v4M197.5 249v5M198.5 201v4M204.5 210v2M205.5 211v2M206.5 207v3M207.5 226v1M209.5 228v1M210.5 244v1M211.5 209v2M211.5 235v1M211.5 242v5M211.5 269v1M212.5 270v3M213.5 263v1M214.5 241v4M215.5 238v2M216.5 239v1M216.5 279v1M216.5 283v1M217.5 240v1M218.5 245v1M218.5 295v1M219.5 255v11M220.5 252v2M221.5 240v3M222.5 236v5M223.5 238v3M224.5 201v1M231.5 230v1M231.5 352v2M232.5 239v2M232.5 351v1M232.5 354v1M233.5 251v4M234.5 263v1M234.5 274v1M234.5 355v1M235.5 269v2M235.5 273v1M235.5 355v1M236.5 283v4M237.5 214v7M237.5 279v8M237.5 354v1M238.5 209v4M238.5 271v4M238.5 381v1M239.5 218v1M239.5 265v3M239.5 288v1M240.5 229v1M240.5 260v1M240.5 289v2M241.5 226v1M241.5 270v4M241.5 380v1M242.5 238v3M242.5 258v2M242.5 270v1M243.5 247v2M243.5 330v2M245.5 245v1M246.5 241v1M247.5 234v2M248.5 201v1M248.5 216v4M248.5 224v1M255.5 205v4M256.5 207v4M256.5 212v4M257.5 239v1M258.5 207v3M258.5 312v1M260.5 236v3M260.5 263v1M260.5 306v1M261.5 238v4M261.5 262v1M262.5 237v3M262.5 246v1M262.5 274v1M263.5 238v3M263.5 247v3M263.5 272v1M264.5 240v4M264.5 272v1M265.5 230v5M265.5 269v2M266.5 201v1M266.5 229v6M266.5 246v11M267.5 224v5M268.5 245v3M268.5 249v1M269.5 243v2M269.5 250v1M269.5 253v1M270.5 236v6M271.5 223v1M272.5 215v1M273.5 211v1M274.5 210v1M275.5 218v1M276.5 226v3M277.5 237v1M278.5 241v2M279.5 209v6M279.5 248v1M280.5 203v4M280.5 252v1M281.5 257v1M282.5 213v2M284.5 264v2M284.5 268v1M285.5 226v2M285.5 272v3M286.5 219v2M286.5 275v6M287.5 255v1M287.5 271v1M287.5 276v1M288.5 254v1M289.5 246v3M289.5 252v1M289.5 271v1M290.5 247v4M290.5 274v1M291.5 245v6M291.5 270v1M292.5 225v1M292.5 260v1M292.5 269v1M292.5 286v1M293.5 234v1M293.5 237v1M293.5 262v1M293.5 267v1M294.5 260v1M295.5 228v1M295.5 261v1M297.5 236v1M298.5 237v1M299.5 255v1M299.5 261v1M300.5 240v2"/>
<path stroke="#5aff9d" d="M61.5 228v1M61.5 259v3M61.5 271v4M62.5 221v1M63.5 231v2M64.5 206v3M64.5 239v1M64.5 248v7M65.5 213v3M65.5 229v5M65.5 255v2M66.5 256v2M67.5 209v2M67.5 228v1M67.5 256v2M67.5 274v1M68.5 259v2M70.5 253v5M70.5 259v1M71.5 245v1M72.5 238v3M73.5 247v1M74.5 210v2M74.5 245v1M75.5 208v2M75.5 236v1M76.5 201v3M76.5 232v1M80.5 213v2M81.5 210v1M82.5 212v3M82.5 235v1M82.5 246v1M82.5 249v1M83.5 261v2M85.5 260v3M86.5 255v2M86.5 264v1M87.5 252v1M87.5 353v1M88.5 201v4M88.5 254v3M89.5 273v1M89.5 277v1M90.5 278v1M91.5 252v3M92.5 244v1M93.5 243v1M93.5 294v1M94.5 244v2M95.5 244v2M96.5 241v1M96.5 243v1M97.5 257v1M97.5 263v3M98.5 275v1M100.5 263v4M101.5 246v3M102.5 242v1M103.5 241v1M103.5 293v1M104.5 239v1M105.5 233v2M106.5 202v1M106.5 230v4M107.5 206v1M107.5 217v1M107.5 243v2M107.5 258v1M107.5 262v1M107.5 269v2M108.5 215v1M108.5 235v2M108.5 259v4M108.5 267v1M108.5 278v1M109.5 257v1M109.5 263v1M109.5 275v1M110.5 251v1M111.5 240v2M112.5 237v3M113.5 234v2M114.5 224v3M114.5 229v1M115.5 203v3M121.5 202v3M122.5 214v1M123.5 221v1M124.5 232v4M125.5 245v3M126.5 251v3M127.5 262v2M128.5 272v1M130.5 247v2M130.5 252v1M130.5 280v1M130.5 332v1M131.5 240v2M131.5 259v2M131.5 282v1M132.5 209v3M132.5 255v1M132.5 264v1M132.5 282v1M138.5 204v3M146.5 221v3M147.5 231v1M148.5 201v3M149.5 218v4M149.5 243v1M155.5 214v3M156.5 223v2M156.5 227v1M157.5 232v2M158.5 242v4M158.5 284v1M159.5 264v6M159.5 273v1M160.5 294v2M161.5 256v3M161.5 293v1M161.5 319v1M162.5 265v5M162.5 291v2M163.5 216v6M163.5 289v4M164.5 203v2M164.5 229v1M164.5 288v6M164.5 301v2M165.5 232v2M165.5 276v16M165.5 304v1M165.5 317v1M166.5 239v4M166.5 268v20M166.5 291v2M166.5 299v1M166.5 305v1M166.5 312v9M167.5 210v7M167.5 222v6M167.5 233v5M167.5 260v6M167.5 267v2M167.5 282v5M167.5 292v8M167.5 305v1M167.5 308v14M168.5 257v3M168.5 264v1M168.5 268v1M168.5 280v6M168.5 293v7M168.5 305v7M168.5 320v4M169.5 258v6M169.5 269v1M169.5 272v11M169.5 294v7M169.5 304v5M169.5 323v2M170.5 324v2M171.5 325v2M172.5 325v2M173.5 326v1M174.5 326v1M174.5 345v1M175.5 225v1M175.5 239v1M175.5 325v2M176.5 325v1M176.5 344v1M176.5 389v1M177.5 323v3M178.5 308v2M178.5 321v3M179.5 222v1M179.5 229v1M179.5 243v2M179.5 298v5M179.5 307v15M179.5 323v1M180.5 295v9M180.5 306v1M180.5 312v6M181.5 295v5M181.5 324v2M182.5 297v3M183.5 298v2M183.5 321v1M184.5 299v3M185.5 300v2M186.5 226v2M186.5 294v2M187.5 201v4M187.5 221v3M187.5 283v2M188.5 222v3M188.5 246v3M188.5 273v3M189.5 277v2M190.5 281v2M191.5 282v1M192.5 279v2M193.5 275v1M194.5 228v1M194.5 251v1M196.5 231v10M197.5 209v5M197.5 247v2M197.5 254v2M198.5 205v4M199.5 201v1M203.5 201v2M204.5 212v2M205.5 213v2M206.5 210v4M209.5 229v5M210.5 245v1M210.5 269v1M211.5 211v2M211.5 239v3M211.5 247v5M211.5 263v1M212.5 264v6M212.5 273v5M213.5 259v1M214.5 245v4M214.5 261v1M214.5 281v1M215.5 240v2M215.5 246v1M215.5 279v1M216.5 240v2M217.5 241v2M217.5 279v1M217.5 283v1M218.5 249v2M218.5 260v13M218.5 317v1M219.5 266v4M220.5 254v3M221.5 243v3M222.5 241v2M223.5 241v2M224.5 232v1M225.5 205v6M230.5 215v1M231.5 354v1M232.5 241v1M232.5 355v1M233.5 255v3M233.5 355v1M233.5 358v1M234.5 268v1M234.5 277v1M234.5 358v1M235.5 271v2M235.5 278v1M236.5 287v4M236.5 355v1M237.5 287v1M237.5 292v1M237.5 313v1M237.5 351v1M237.5 380v1M238.5 205v4M238.5 275v10M238.5 287v1M238.5 352v2M239.5 217v1M239.5 268v5M239.5 292v1M240.5 230v1M240.5 269v7M240.5 291v1M241.5 260v1M241.5 266v4M241.5 274v5M242.5 241v1M242.5 246v1M242.5 257v1M242.5 260v1M242.5 269v1M242.5 271v1M243.5 249v4M244.5 246v1M245.5 246v2M246.5 242v2M247.5 236v4M248.5 202v9M248.5 213v3M248.5 225v1M255.5 209v3M256.5 204v3M256.5 216v3M258.5 210v3M258.5 237v1M258.5 242v1M259.5 242v1M260.5 241v1M260.5 246v1M260.5 266v1M261.5 242v4M261.5 250v1M261.5 258v4M261.5 267v1M262.5 240v6M262.5 275v2M263.5 241v6M263.5 273v2M264.5 222v4M264.5 273v1M265.5 225v1M265.5 271v1M266.5 202v25M266.5 257v6M267.5 254v3M267.5 276v1M268.5 248v1M269.5 245v1M272.5 216v4M274.5 211v1M275.5 219v1M277.5 238v1M279.5 249v2M280.5 201v2M280.5 253v1M281.5 266v1M282.5 211v2M283.5 259v2M283.5 265v1M284.5 269v1M285.5 225v1M285.5 275v3M286.5 218v1M286.5 281v5M287.5 256v3M287.5 267v4M287.5 277v8M288.5 255v4M288.5 262v9M288.5 276v1M288.5 325v1M289.5 249v3M289.5 255v1M289.5 287v3M290.5 256v13M290.5 272v1M290.5 286v1M290.5 290v1M291.5 271v1M291.5 291v1M292.5 226v2M292.5 259v1M292.5 270v1M292.5 291v2M293.5 235v2M294.5 236v1M294.5 268v1M295.5 229v1M295.5 260v1M295.5 267v1M296.5 227v1M299.5 239v2M299.5 260v1M300.5 244v1"/>
<path stroke="#66ff90" d="M61.5 256v3M61.5 275v1M62.5 222v2M62.5 261v9M63.5 233v3M64.5 209v4M64.5 229v1M64.5 234v5M64.5 240v8M64.5 255v3M64.5 289v2M65.5 216v13M65.5 257v2M66.5 258v2M67.5 211v1M67.5 226v2M67.5 258v3M68.5 263v1M69.5 264v1M70.5 258v1M70.5 264v1M71.5 246v2M72.5 246v1M73.5 248v2M74.5 208v2M74.5 246v1M75.5 205v3M77.5 221v1M78.5 220v1M79.5 231v1M80.5 215v2M81.5 211v1M82.5 215v4M84.5 267v1M86.5 257v3M86.5 263v1M86.5 265v1M87.5 253v3M88.5 257v6M89.5 278v1M91.5 255v6M92.5 245v2M92.5 277v1M92.5 321v1M93.5 244v1M94.5 246v2M94.5 262v1M95.5 246v2M95.5 266v1M96.5 254v1M96.5 256v1M96.5 262v1M97.5 245v1M97.5 253v1M97.5 261v2M97.5 266v6M97.5 278v2M99.5 281v1M100.5 267v5M100.5 280v1M101.5 249v4M102.5 243v2M102.5 290v1M103.5 242v1M104.5 240v1M105.5 235v3M106.5 201v1M106.5 234v3M107.5 205v1M107.5 218v2M107.5 227v1M107.5 237v6M107.5 245v1M107.5 260v2M107.5 271v1M107.5 275v1M108.5 216v2M108.5 234v1M108.5 268v1M109.5 258v2M109.5 267v1M110.5 252v2M111.5 242v3M112.5 240v1M113.5 236v2M114.5 227v2M114.5 232v1M115.5 206v1M121.5 205v1M122.5 215v5M123.5 222v1M124.5 236v4M125.5 248v3M126.5 254v3M126.5 267v1M127.5 264v2M127.5 270v1M127.5 314v1M128.5 273v1M129.5 280v1M129.5 331v1M130.5 249v3M130.5 281v1M131.5 252v1M131.5 256v3M131.5 283v1M132.5 212v2M132.5 252v1M132.5 263v1M132.5 283v2M135.5 347v1M138.5 207v2M139.5 348v1M145.5 210v1M148.5 242v1M149.5 215v3M149.5 244v1M154.5 202v1M155.5 217v2M156.5 225v2M157.5 234v3M157.5 290v1M158.5 246v3M158.5 281v3M158.5 285v2M158.5 288v1M159.5 294v1M160.5 296v1M160.5 319v1M160.5 321v1M161.5 294v2M162.5 293v3M162.5 317v1M162.5 321v1M163.5 293v7M164.5 205v1M164.5 228v1M164.5 294v7M164.5 303v2M164.5 316v1M165.5 292v8M165.5 305v12M165.5 321v1M166.5 232v1M166.5 236v3M166.5 293v6M166.5 306v6M166.5 321v2M166.5 371v1M167.5 217v5M167.5 269v13M167.5 306v2M167.5 322v3M167.5 327v1M168.5 260v4M168.5 269v1M168.5 272v8M168.5 324v2M168.5 327v1M169.5 270v2M169.5 325v5M170.5 326v2M171.5 327v1M171.5 357v1M172.5 327v2M173.5 327v2M174.5 327v2M175.5 226v1M175.5 327v2M176.5 326v2M177.5 326v1M178.5 326v1M179.5 223v1M179.5 230v1M179.5 241v2M179.5 322v1M179.5 326v1M180.5 307v5M180.5 318v6M181.5 300v21M182.5 300v4M182.5 307v2M182.5 317v1M183.5 300v3M183.5 306v1M184.5 302v2M184.5 306v1M184.5 309v1M185.5 223v1M185.5 302v2M186.5 225v1M186.5 296v2M187.5 205v6M187.5 217v4M187.5 285v2M188.5 225v3M188.5 243v3M188.5 276v3M189.5 279v2M190.5 283v1M190.5 289v2M191.5 283v1M192.5 281v2M193.5 276v3M193.5 291v1M194.5 229v1M194.5 250v1M194.5 269v1M195.5 201v1M195.5 274v1M196.5 201v1M196.5 228v3M196.5 241v6M196.5 260v1M196.5 272v1M197.5 214v4M197.5 245v2M197.5 256v1M198.5 209v2M199.5 202v7M203.5 203v3M204.5 214v3M205.5 215v2M206.5 214v2M207.5 224v1M208.5 227v1M209.5 234v1M210.5 246v1M211.5 213v2M211.5 231v1M211.5 236v3M211.5 252v2M211.5 259v1M211.5 264v1M211.5 268v1M212.5 234v1M212.5 246v13M212.5 278v4M213.5 201v4M213.5 238v16M213.5 258v1M213.5 264v16M214.5 249v4M214.5 260v1M214.5 262v1M214.5 280v1M214.5 282v1M215.5 242v3M215.5 283v1M216.5 242v1M216.5 249v1M216.5 278v1M217.5 243v3M217.5 249v1M217.5 269v10M217.5 307v1M217.5 309v1M217.5 318v1M218.5 251v9M218.5 273v4M218.5 280v3M218.5 291v1M218.5 308v1M219.5 270v3M220.5 257v6M221.5 246v2M222.5 243v2M224.5 233v5M225.5 201v4M225.5 211v1M230.5 216v2M230.5 352v3M231.5 231v4M231.5 351v1M231.5 355v1M232.5 242v1M233.5 258v9M234.5 269v2M234.5 356v1M235.5 279v4M236.5 291v1M237.5 355v1M237.5 381v1M238.5 201v4M238.5 285v2M238.5 354v1M239.5 216v1M239.5 273v15M240.5 231v2M240.5 264v5M240.5 276v13M241.5 227v1M241.5 263v3M241.5 279v9M241.5 381v1M242.5 247v10M242.5 261v8M242.5 272v2M243.5 253v7M243.5 268v1M243.5 272v1M244.5 247v3M245.5 248v2M245.5 269v1M245.5 271v1M246.5 244v2M247.5 240v2M248.5 211v2M248.5 226v4M255.5 212v1M256.5 201v3M256.5 219v2M258.5 213v3M258.5 229v8M259.5 243v1M259.5 247v2M260.5 242v4M260.5 305v1M261.5 251v7M261.5 268v3M262.5 277v1M262.5 306v1M263.5 275v1M264.5 210v12M264.5 274v4M265.5 221v4M265.5 272v1M265.5 275v1M266.5 263v2M267.5 257v3M268.5 254v1M269.5 246v2M270.5 242v2M271.5 224v4M272.5 220v1M273.5 212v1M274.5 212v1M275.5 220v1M276.5 229v2M277.5 239v1M278.5 243v2M280.5 254v2M281.5 258v1M281.5 268v1M282.5 210v1M282.5 259v1M282.5 265v1M283.5 261v3M284.5 270v1M285.5 223v2M285.5 278v3M286.5 217v1M286.5 286v2M286.5 310v1M287.5 259v8M287.5 285v3M287.5 325v1M288.5 259v3M288.5 277v11M289.5 256v1M289.5 261v10M289.5 286v1M290.5 269v3M291.5 272v1M291.5 292v2M292.5 228v2M292.5 253v2M292.5 258v1M292.5 271v1M292.5 293v2M293.5 260v2M293.5 268v1M293.5 288v1M294.5 259v1M294.5 269v1M295.5 230v6M295.5 268v1M298.5 262v5M299.5 252v1"/>
<path stroke="#73ff83" d="M61.5 229v2M61.5 255v1M62.5 224v2M62.5 259v2M62.5 270v5M63.5 236v5M63.5 251v14M64.5 213v13M64.5 230v4M64.5 258v4M65.5 259v3M66.5 260v4M66.5 274v1M67.5 212v2M67.5 225v1M67.5 261v3M67.5 278v1M68.5 264v1M68.5 274v1M69.5 265v1M69.5 276v1M71.5 248v4M71.5 260v1M71.5 263v1M72.5 247v2M73.5 250v2M74.5 203v5M74.5 247v1M75.5 201v4M75.5 237v3M77.5 222v1M78.5 221v1M80.5 217v1M81.5 212v2M81.5 246v1M81.5 249v1M82.5 219v7M82.5 234v1M82.5 236v1M83.5 266v1M84.5 268v2M85.5 267v1M85.5 353v1M86.5 260v3M87.5 256v6M88.5 263v7M88.5 331v1M88.5 354v1M89.5 279v2M89.5 332v1M90.5 279v2M91.5 261v8M91.5 273v1M91.5 278v1M92.5 247v2M92.5 274v1M93.5 245v2M93.5 264v1M94.5 248v2M94.5 266v1M95.5 248v4M95.5 254v4M95.5 261v1M96.5 244v1M96.5 266v1M97.5 246v1M97.5 258v3M97.5 272v6M98.5 281v2M99.5 282v1M100.5 272v5M100.5 292v1M101.5 253v10M101.5 290v1M102.5 245v1M102.5 294v1M103.5 243v1M104.5 241v1M105.5 238v1M106.5 237v2M106.5 265v6M107.5 204v1M107.5 220v1M107.5 234v3M107.5 246v1M107.5 254v1M107.5 259v1M107.5 272v2M107.5 324v1M108.5 218v1M108.5 227v1M108.5 233v1M108.5 269v1M109.5 260v3M109.5 278v1M110.5 254v2M111.5 245v2M112.5 241v1M113.5 238v2M115.5 207v4M121.5 206v8M122.5 220v2M123.5 223v2M124.5 240v3M125.5 251v2M126.5 257v2M127.5 279v1M128.5 275v1M130.5 282v1M131.5 284v2M131.5 332v1M132.5 214v2M132.5 245v1M132.5 285v1M133.5 253v2M138.5 209v3M146.5 224v1M147.5 232v2M148.5 243v1M149.5 213v2M149.5 245v1M155.5 219v1M157.5 237v5M157.5 291v1M158.5 249v3M158.5 278v3M158.5 287v1M159.5 295v2M160.5 297v1M161.5 296v3M161.5 321v1M162.5 296v5M163.5 300v17M164.5 206v2M164.5 227v1M164.5 305v11M164.5 322v1M165.5 201v4M165.5 228v1M165.5 322v2M165.5 328v1M166.5 201v1M166.5 233v3M166.5 323v3M166.5 327v1M167.5 325v2M168.5 270v2M168.5 326v1M168.5 370v1M169.5 370v1M170.5 328v2M171.5 328v2M172.5 329v1M173.5 329v1M174.5 329v1M175.5 227v1M175.5 238v1M175.5 329v1M176.5 328v1M177.5 327v2M177.5 345v1M178.5 327v1M179.5 224v2M179.5 240v1M180.5 326v1M181.5 321v3M182.5 304v3M182.5 309v8M182.5 321v1M182.5 389v1M183.5 303v3M183.5 309v1M183.5 316v1M184.5 304v2M185.5 222v1M185.5 304v3M185.5 317v1M186.5 298v2M187.5 211v6M187.5 287v2M188.5 228v3M188.5 240v3M188.5 279v4M189.5 281v2M190.5 284v2M191.5 284v2M192.5 283v1M193.5 279v2M194.5 230v3M194.5 234v2M194.5 252v1M194.5 258v1M194.5 263v1M194.5 265v4M194.5 275v1M195.5 202v2M195.5 270v1M196.5 202v2M196.5 225v3M196.5 247v7M196.5 259v1M196.5 261v1M196.5 273v1M197.5 218v3M197.5 242v3M197.5 257v1M198.5 211v5M199.5 209v11M203.5 206v3M204.5 217v2M205.5 217v2M206.5 216v3M207.5 206v14M208.5 223v1M209.5 235v2M210.5 247v1M211.5 215v3M211.5 230v1M211.5 254v5M211.5 265v3M211.5 273v4M212.5 232v1M212.5 242v4M212.5 282v3M213.5 205v5M213.5 232v6M213.5 254v4M213.5 280v4M214.5 253v7M214.5 263v1M214.5 269v8M214.5 279v1M215.5 245v1M215.5 249v1M215.5 278v1M216.5 243v3M216.5 271v7M216.5 284v1M216.5 293v1M217.5 266v3M217.5 284v2M217.5 291v1M217.5 295v1M218.5 277v3M218.5 283v2M219.5 273v3M219.5 295v1M219.5 317v1M220.5 263v4M221.5 248v4M222.5 245v2M223.5 243v2M225.5 212v7M230.5 218v2M230.5 355v1M232.5 243v3M232.5 356v1M232.5 358v1M233.5 267v2M233.5 356v1M233.5 360v1M234.5 271v3M234.5 360v1M235.5 283v5M235.5 356v1M235.5 358v1M236.5 292v1M236.5 314v1M236.5 356v1M237.5 293v1M238.5 293v1M238.5 351v1M238.5 355v1M239.5 215v1M239.5 293v1M239.5 352v3M240.5 233v1M240.5 256v1M240.5 261v3M240.5 292v1M241.5 228v2M241.5 256v1M241.5 261v2M241.5 288v5M242.5 274v4M243.5 260v4M244.5 250v7M244.5 272v1M245.5 250v1M246.5 246v3M247.5 242v1M248.5 230v2M256.5 221v2M257.5 207v12M257.5 241v1M258.5 216v13M258.5 243v2M259.5 244v3M259.5 249v1M260.5 250v1M261.5 271v3M262.5 278v2M263.5 276v2M264.5 201v9M264.5 278v1M265.5 217v4M265.5 273v2M266.5 265v2M266.5 275v1M267.5 260v2M268.5 255v1M269.5 248v2M270.5 244v1M271.5 228v1M274.5 213v1M275.5 221v1M276.5 231v1M277.5 240v1M278.5 245v1M279.5 251v2M280.5 256v1M281.5 259v1M282.5 208v2M282.5 260v2M283.5 264v1M283.5 269v1M284.5 271v3M285.5 220v3M285.5 281v3M286.5 201v1M286.5 215v2M286.5 288v2M287.5 288v2M287.5 310v1M288.5 288v3M289.5 257v4M289.5 276v1M289.5 284v2M289.5 290v2M289.5 324v1M290.5 275v1M290.5 285v1M290.5 291v3M291.5 273v1M291.5 285v1M291.5 294v2M292.5 230v2M292.5 236v1M292.5 257v1M292.5 285v1M292.5 295v2M293.5 239v1M293.5 269v1M293.5 287v1M293.5 289v1M294.5 237v1M295.5 236v1M295.5 259v1M297.5 237v1M298.5 238v1M298.5 255v1M298.5 260v2M298.5 267v1M299.5 259v1"/>
<path stroke="#83ff73" d="M61.5 231v2M61.5 254v1M62.5 229v1M62.5 258v1M62.5 275v7M63.5 241v10M63.5 265v4M64.5 262v3M65.5 262v3M65.5 276v1M66.5 264v4M67.5 214v2M67.5 222v3M67.5 264v4M67.5 288v1M67.5 291v1M68.5 265v3M68.5 278v1M69.5 266v3M69.5 275v1M69.5 277v1M70.5 265v3M71.5 252v6M72.5 249v2M73.5 252v1M74.5 201v2M74.5 248v3M75.5 240v2M77.5 223v2M77.5 227v1M78.5 231v1M80.5 218v3M80.5 247v2M81.5 214v1M82.5 226v8M82.5 237v1M82.5 245v1M84.5 270v1M85.5 268v1M86.5 266v1M87.5 262v5M87.5 331v1M88.5 270v6M89.5 281v3M90.5 281v2M91.5 269v4M92.5 249v3M92.5 294v1M93.5 247v2M93.5 263v1M93.5 265v1M93.5 290v1M94.5 250v8M94.5 261v1M94.5 294v1M94.5 320v1M95.5 252v2M95.5 258v3M95.5 267v3M95.5 292v1M96.5 245v1M96.5 257v1M96.5 260v2M96.5 267v5M97.5 247v2M97.5 280v1M98.5 283v3M99.5 283v3M100.5 291v1M100.5 293v1M101.5 263v6M101.5 278v2M101.5 294v1M102.5 246v2M102.5 264v2M103.5 244v1M105.5 239v1M105.5 256v1M106.5 239v2M106.5 263v2M106.5 271v3M106.5 324v1M107.5 203v1M107.5 221v3M107.5 231v3M107.5 247v2M107.5 274v1M107.5 278v1M108.5 219v1M108.5 231v2M108.5 270v2M108.5 323v1M110.5 256v3M110.5 263v1M111.5 247v1M112.5 242v2M113.5 240v2M114.5 233v1M121.5 214v1M122.5 222v4M123.5 225v1M124.5 243v2M125.5 253v2M125.5 313v1M126.5 259v2M126.5 269v1M128.5 274v1M129.5 281v1M129.5 290v5M130.5 283v1M131.5 246v1M131.5 286v2M132.5 216v2M132.5 262v1M132.5 286v1M135.5 348v1M137.5 346v1M138.5 212v2M139.5 201v2M145.5 211v5M146.5 225v3M147.5 234v2M149.5 210v3M149.5 246v2M150.5 201v16M150.5 226v4M150.5 234v1M154.5 203v2M155.5 220v2M156.5 231v1M157.5 242v3M158.5 252v4M158.5 293v1M159.5 297v1M160.5 298v2M161.5 299v2M161.5 318v1M162.5 301v10M162.5 316v1M163.5 322v1M164.5 208v1M164.5 226v1M164.5 323v2M165.5 205v3M165.5 227v1M165.5 324v4M165.5 329v1M166.5 202v2M166.5 228v1M166.5 326v1M167.5 330v1M167.5 370v1M168.5 330v1M169.5 330v1M170.5 330v1M171.5 330v1M172.5 330v1M173.5 330v1M173.5 356v1M173.5 358v1M174.5 330v1M174.5 344v1M175.5 228v1M175.5 237v1M175.5 330v1M175.5 357v1M176.5 329v2M177.5 329v1M178.5 328v1M179.5 226v1M179.5 228v1M179.5 239v1M179.5 327v1M179.5 388v1M179.5 390v1M181.5 326v1M182.5 322v3M183.5 310v6M183.5 322v1M184.5 310v2M184.5 316v1M185.5 221v1M185.5 309v1M185.5 321v1M186.5 201v1M186.5 224v1M186.5 300v2M187.5 289v3M188.5 231v9M188.5 283v3M189.5 283v3M190.5 286v3M190.5 291v1M191.5 286v2M192.5 284v2M192.5 287v1M193.5 281v1M193.5 288v1M194.5 233v1M194.5 236v1M194.5 264v1M194.5 276v3M195.5 204v2M195.5 262v1M196.5 204v2M196.5 221v4M196.5 254v5M196.5 271v1M197.5 221v5M197.5 233v9M197.5 258v2M198.5 216v3M199.5 220v1M199.5 233v1M200.5 201v1M203.5 209v1M204.5 219v1M205.5 219v1M206.5 219v1M207.5 201v5M207.5 220v4M208.5 217v6M209.5 237v4M209.5 272v1M210.5 248v1M211.5 218v12M211.5 277v3M212.5 239v3M212.5 285v2M213.5 210v5M213.5 228v4M213.5 284v3M214.5 264v5M214.5 277v2M214.5 283v1M215.5 271v7M215.5 284v2M216.5 267v4M216.5 285v3M216.5 292v1M216.5 294v1M216.5 307v1M216.5 309v1M217.5 263v3M217.5 286v3M218.5 285v4M218.5 290v1M219.5 276v6M219.5 291v1M220.5 267v4M221.5 252v3M222.5 247v2M223.5 245v2M224.5 238v2M225.5 219v6M229.5 352v3M230.5 220v1M230.5 351v1M231.5 235v1M231.5 356v1M231.5 359v1M232.5 246v3M233.5 269v4M233.5 275v2M233.5 350v1M234.5 278v1M234.5 350v1M234.5 357v1M235.5 288v2M235.5 350v1M236.5 293v1M236.5 350v1M236.5 359v1M237.5 294v2M237.5 356v1M238.5 294v3M238.5 313v1M239.5 213v2M239.5 294v2M239.5 355v1M240.5 234v1M240.5 293v3M241.5 230v1M241.5 233v2M241.5 293v3M241.5 330v2M242.5 278v10M242.5 380v1M243.5 264v4M244.5 257v4M244.5 268v1M245.5 251v4M246.5 249v1M247.5 243v6M248.5 232v1M255.5 213v1M256.5 223v1M257.5 203v4M257.5 219v5M257.5 238v1M258.5 245v4M259.5 250v1M259.5 264v1M260.5 251v8M260.5 260v3M260.5 267v1M261.5 274v3M262.5 280v3M262.5 305v1M263.5 278v2M265.5 214v3M266.5 267v2M267.5 262v1M267.5 278v1M268.5 256v2M270.5 245v1M271.5 229v3M272.5 221v1M273.5 213v1M274.5 214v1M276.5 232v1M278.5 246v2M279.5 253v1M280.5 257v1M281.5 260v1M282.5 206v2M282.5 262v2M282.5 269v1M284.5 274v2M285.5 201v2M285.5 217v3M285.5 284v3M286.5 202v3M286.5 213v2M286.5 290v2M287.5 290v2M288.5 291v2M289.5 277v7M289.5 292v3M290.5 284v1M290.5 294v2M291.5 274v1M291.5 284v1M291.5 296v2M292.5 232v4M292.5 240v1M292.5 252v1M292.5 255v2M292.5 272v1M292.5 297v2M293.5 259v1M293.5 270v1M293.5 290v6M294.5 258v1M294.5 270v1M295.5 269v1M296.5 228v1M296.5 261v5M298.5 244v1M298.5 268v1M299.5 258v1M300.5 245v2"/>
<path stroke="#90ff66" d="M61.5 233v4M61.5 253v1M62.5 256v2M62.5 282v4M63.5 269v6M64.5 265v4M64.5 288v1M64.5 291v1M65.5 265v4M65.5 275v1M65.5 277v1M66.5 268v6M66.5 278v1M67.5 216v6M67.5 268v6M68.5 268v6M69.5 269v6M70.5 268v4M71.5 258v2M71.5 264v1M72.5 251v2M73.5 253v2M74.5 251v1M75.5 242v1M77.5 225v2M77.5 231v1M78.5 222v1M78.5 227v1M80.5 221v4M80.5 228v3M81.5 215v1M82.5 238v7M82.5 250v2M83.5 267v1M84.5 271v1M85.5 269v2M86.5 267v4M86.5 332v1M87.5 267v5M88.5 276v4M89.5 284v2M90.5 283v3M91.5 279v2M91.5 292v1M92.5 252v22M92.5 278v1M93.5 249v3M93.5 262v1M93.5 266v2M93.5 274v4M94.5 258v3M94.5 267v9M94.5 290v1M95.5 270v9M95.5 293v1M96.5 246v1M96.5 253v1M96.5 258v2M96.5 272v8M97.5 249v4M97.5 281v3M98.5 286v3M99.5 286v4M100.5 281v3M101.5 269v9M102.5 248v3M102.5 257v7M102.5 266v11M103.5 245v1M103.5 268v7M103.5 290v1M104.5 242v1M105.5 240v1M106.5 241v1M106.5 258v1M106.5 261v2M106.5 274v3M107.5 201v2M107.5 228v3M107.5 249v5M108.5 220v1M108.5 230v1M108.5 272v1M108.5 274v1M110.5 259v2M111.5 248v4M112.5 244v3M115.5 211v1M121.5 215v6M122.5 226v1M123.5 226v2M124.5 245v3M125.5 255v1M126.5 261v1M128.5 280v1M129.5 282v1M129.5 288v2M129.5 295v1M130.5 284v2M130.5 287v5M131.5 247v1M131.5 251v1M131.5 288v1M132.5 218v3M132.5 260v2M132.5 287v1M138.5 214v3M138.5 346v1M139.5 203v2M148.5 244v1M149.5 207v3M150.5 217v6M150.5 230v4M150.5 235v4M150.5 242v1M150.5 249v3M154.5 205v3M156.5 232v2M157.5 245v2M157.5 289v1M158.5 256v5M158.5 277v1M159.5 298v2M159.5 319v1M159.5 321v1M160.5 300v2M161.5 301v4M161.5 317v1M162.5 311v5M162.5 322v1M163.5 323v2M164.5 209v2M164.5 224v2M164.5 325v2M165.5 208v3M165.5 224v3M166.5 204v3M166.5 330v1M170.5 331v1M171.5 331v1M171.5 371v1M172.5 331v1M172.5 356v1M172.5 358v1M173.5 331v1M174.5 331v1M175.5 229v1M175.5 236v1M175.5 331v1M175.5 389v1M176.5 331v1M177.5 330v1M177.5 344v1M178.5 329v2M178.5 388v1M178.5 390v1M179.5 227v1M179.5 231v1M179.5 237v2M179.5 328v2M180.5 327v2M180.5 388v1M180.5 390v1M181.5 327v1M182.5 325v1M184.5 312v4M184.5 322v1M185.5 201v3M185.5 219v2M185.5 310v3M185.5 316v1M186.5 202v2M186.5 222v2M186.5 302v3M186.5 307v2M186.5 318v2M187.5 292v3M188.5 286v4M189.5 286v4M191.5 292v1M192.5 286v1M192.5 292v1M193.5 282v2M194.5 237v4M194.5 249v1M194.5 253v1M194.5 256v2M194.5 279v1M195.5 206v3M195.5 224v3M196.5 206v3M196.5 218v3M196.5 262v2M196.5 265v1M197.5 226v7M197.5 260v1M198.5 219v3M198.5 247v7M199.5 221v1M199.5 232v1M199.5 234v4M200.5 202v3M205.5 220v1M206.5 220v2M207.5 227v1M208.5 214v3M208.5 228v2M209.5 241v3M210.5 249v2M211.5 280v4M212.5 235v1M212.5 237v2M212.5 287v2M213.5 215v13M213.5 287v1M214.5 284v3M215.5 250v3M215.5 266v5M215.5 286v3M215.5 331v2M216.5 263v4M216.5 288v4M217.5 250v1M217.5 260v3M217.5 289v2M218.5 289v1M218.5 296v1M218.5 307v1M218.5 331v2M219.5 282v9M220.5 271v4M220.5 293v1M221.5 255v9M222.5 249v3M223.5 247v1M224.5 240v2M229.5 201v4M229.5 355v1M230.5 356v1M231.5 236v1M232.5 249v1M232.5 350v1M232.5 357v1M233.5 273v2M233.5 277v1M233.5 357v1M234.5 279v8M235.5 290v2M235.5 357v1M236.5 294v1M236.5 357v1M236.5 380v1M237.5 296v2M237.5 350v1M238.5 297v2M238.5 356v1M239.5 212v1M239.5 296v3M239.5 351v1M240.5 235v2M240.5 255v1M240.5 296v3M240.5 352v3M241.5 231v2M241.5 255v1M241.5 296v3M242.5 288v6M242.5 381v1M243.5 273v4M244.5 261v3M245.5 255v3M246.5 250v3M247.5 249v1M255.5 214v3M256.5 224v2M256.5 326v2M257.5 201v2M257.5 224v14M258.5 249v2M259.5 251v4M259.5 263v1M259.5 265v1M260.5 259v1M260.5 268v5M260.5 313v1M261.5 277v10M262.5 283v3M263.5 280v2M264.5 279v1M265.5 211v3M265.5 279v1M266.5 269v2M267.5 263v3M268.5 258v2M271.5 232v4M274.5 215v5M276.5 233v2M277.5 241v1M279.5 254v2M280.5 258v2M281.5 261v2M281.5 265v1M282.5 204v2M282.5 264v1M283.5 270v1M284.5 276v3M285.5 203v5M285.5 212v5M285.5 287v2M285.5 309v1M286.5 205v8M286.5 292v1M286.5 308v1M286.5 324v1M287.5 292v2M287.5 308v1M288.5 293v3M289.5 295v2M290.5 276v3M290.5 281v3M290.5 296v3M291.5 275v1M291.5 283v1M291.5 298v2M292.5 273v1M292.5 284v1M292.5 299v2M293.5 258v1M293.5 286v1M293.5 296v3M294.5 238v1M296.5 234v3M296.5 260v1M296.5 266v1M297.5 260v6M298.5 239v1M298.5 241v1M298.5 259v1M298.5 269v1M299.5 245v1M300.5 247v5"/>
<path stroke="#9dff5a" d="M61.5 237v4M61.5 250v3M62.5 230v1M62.5 254v2M63.5 275v16M64.5 269v8M64.5 287v1M65.5 269v6M65.5 278v1M65.5 287v1M65.5 292v1M66.5 279v1M66.5 287v1M66.5 292v1M67.5 279v1M68.5 279v1M68.5 289v1M69.5 278v4M70.5 272v7M71.5 265v1M72.5 253v3M73.5 255v3M74.5 252v2M75.5 243v3M76.5 233v1M78.5 223v1M80.5 225v3M81.5 216v2M82.5 252v3M83.5 268v1M84.5 272v1M84.5 354v1M85.5 271v2M86.5 271v3M87.5 272v5M87.5 333v1M88.5 280v5M88.5 333v1M88.5 353v1M89.5 286v3M90.5 286v3M91.5 281v5M91.5 291v1M91.5 293v1M92.5 279v4M92.5 290v1M93.5 252v10M93.5 268v6M93.5 278v6M94.5 276v10M94.5 321v1M95.5 279v8M95.5 291v1M96.5 247v3M96.5 252v1M96.5 280v6M97.5 284v4M98.5 289v4M99.5 290v4M100.5 284v7M100.5 294v1M101.5 280v4M101.5 289v1M102.5 251v6M102.5 277v6M102.5 289v1M103.5 246v1M103.5 262v6M103.5 275v7M103.5 294v1M104.5 243v1M104.5 268v10M105.5 241v1M105.5 257v1M105.5 265v11M105.5 323v1M106.5 242v2M106.5 260v1M106.5 277v2M107.5 322v1M108.5 221v3M108.5 228v2M108.5 273v1M109.5 268v2M110.5 261v2M110.5 267v1M110.5 276v1M111.5 252v3M112.5 247v1M113.5 242v1M115.5 212v3M121.5 221v1M122.5 227v4M123.5 228v2M124.5 248v1M125.5 256v2M126.5 262v2M127.5 271v1M128.5 292v5M129.5 283v1M129.5 287v1M129.5 296v1M129.5 332v1M130.5 286v1M130.5 292v1M131.5 248v2M131.5 289v1M132.5 221v4M132.5 242v1M132.5 256v1M132.5 258v2M132.5 288v1M132.5 331v1M133.5 274v8M138.5 217v5M138.5 236v3M139.5 205v2M140.5 347v1M146.5 228v1M147.5 236v2M148.5 245v1M149.5 202v5M149.5 248v2M150.5 223v3M150.5 239v3M150.5 243v6M150.5 252v1M154.5 208v2M155.5 222v1M156.5 234v1M157.5 247v2M157.5 283v3M157.5 292v1M158.5 261v4M158.5 276v1M158.5 294v2M159.5 300v2M160.5 302v3M161.5 305v12M162.5 323v2M163.5 325v3M164.5 211v2M164.5 223v1M164.5 327v3M165.5 211v5M165.5 219v5M165.5 330v1M166.5 207v3M166.5 227v1M167.5 331v1M168.5 331v1M168.5 372v1M169.5 331v2M169.5 372v1M170.5 332v1M170.5 370v1M171.5 332v1M172.5 332v1M173.5 332v1M174.5 332v1M174.5 356v1M174.5 358v1M175.5 230v6M175.5 332v1M176.5 332v1M177.5 331v1M177.5 388v1M177.5 390v1M178.5 331v1M179.5 232v5M179.5 330v1M180.5 329v1M181.5 328v1M182.5 326v2M183.5 323v3M185.5 204v6M185.5 215v4M185.5 313v3M186.5 204v5M186.5 220v2M186.5 305v2M186.5 309v1M186.5 320v1M187.5 295v4M188.5 290v4M189.5 290v2M190.5 292v1M193.5 284v2M194.5 241v8M194.5 254v2M194.5 280v2M195.5 209v15M195.5 227v7M195.5 258v1M195.5 263v1M195.5 265v5M195.5 275v1M196.5 209v9M196.5 264v1M196.5 266v5M197.5 261v1M198.5 222v2M198.5 245v2M198.5 254v1M199.5 222v10M199.5 238v3M200.5 205v3M204.5 220v1M205.5 221v1M206.5 222v2M208.5 201v1M208.5 211v3M208.5 230v2M209.5 244v1M210.5 251v1M210.5 273v1M211.5 284v3M212.5 201v1M212.5 236v1M212.5 289v1M213.5 288v2M214.5 287v2M215.5 253v13M215.5 289v2M216.5 250v2M216.5 260v3M216.5 295v1M217.5 251v9M217.5 296v1M217.5 317v1M218.5 309v1M218.5 319v1M219.5 296v1M220.5 275v15M220.5 291v2M220.5 294v1M221.5 264v5M222.5 252v1M224.5 242v1M225.5 225v1M228.5 352v3M229.5 351v1M231.5 237v3M231.5 350v1M231.5 357v2M232.5 250v1M232.5 360v1M233.5 278v9M234.5 287v3M235.5 292v1M235.5 360v1M236.5 295v2M236.5 313v1M236.5 358v1M236.5 381v1M237.5 298v2M237.5 315v1M237.5 357v1M238.5 299v2M239.5 210v2M239.5 299v3M239.5 356v1M240.5 237v2M240.5 252v3M240.5 299v3M240.5 355v1M241.5 235v2M241.5 244v1M241.5 252v3M241.5 299v3M242.5 294v4M243.5 277v9M244.5 264v2M244.5 267v1M245.5 258v3M246.5 253v3M247.5 250v1M248.5 233v1M249.5 201v2M255.5 217v2M256.5 226v2M257.5 242v1M258.5 251v3M259.5 255v8M259.5 266v4M260.5 273v5M260.5 312v1M261.5 287v6M261.5 307v1M262.5 286v3M263.5 282v3M264.5 280v2M265.5 208v3M266.5 271v1M267.5 266v2M268.5 260v2M269.5 254v1M270.5 246v3M273.5 214v1M273.5 220v1M274.5 220v1M275.5 222v1M277.5 242v1M278.5 248v2M280.5 260v1M281.5 263v2M282.5 201v3M283.5 271v3M284.5 279v3M285.5 208v4M285.5 289v2M286.5 293v2M287.5 294v2M288.5 296v2M288.5 309v1M288.5 323v1M289.5 297v3M290.5 279v2M290.5 299v2M291.5 276v7M291.5 300v2M292.5 241v4M292.5 247v5M292.5 274v1M292.5 283v1M292.5 301v2M293.5 240v1M293.5 257v1M293.5 271v1M293.5 299v3M294.5 291v8M295.5 237v1M295.5 258v1M295.5 270v1M296.5 229v1M296.5 259v1M296.5 267v1M297.5 266v1M298.5 252v1M299.5 256v2"/>
<path stroke="#aaff4d" d="M61.5 241v9M62.5 231v5M62.5 252v2M63.5 291v3M64.5 277v10M64.5 292v2M65.5 279v8M66.5 280v7M67.5 280v8M67.5 292v1M68.5 280v9M68.5 290v2M69.5 282v7M70.5 279v8M71.5 266v6M72.5 256v3M73.5 258v3M74.5 254v3M75.5 246v1M76.5 234v1M78.5 224v3M79.5 232v1M80.5 231v1M81.5 218v3M82.5 255v3M83.5 269v2M84.5 273v2M85.5 273v2M86.5 274v3M87.5 277v5M88.5 285v3M89.5 289v3M90.5 289v3M90.5 305v2M91.5 286v5M91.5 320v1M92.5 283v6M93.5 284v6M93.5 305v2M94.5 286v4M95.5 287v4M95.5 294v1M96.5 250v2M96.5 286v6M97.5 288v4M98.5 293v3M99.5 294v4M100.5 295v1M101.5 284v5M101.5 295v1M102.5 283v6M102.5 295v1M103.5 247v2M103.5 259v3M103.5 282v8M104.5 244v1M104.5 265v3M104.5 278v6M104.5 291v3M105.5 242v1M105.5 255v1M105.5 263v2M105.5 276v4M106.5 244v1M106.5 259v1M106.5 279v1M106.5 322v1M107.5 279v1M109.5 270v1M109.5 274v1M110.5 277v1M111.5 255v3M111.5 265v1M112.5 248v3M113.5 243v3M114.5 234v1M122.5 231v1M123.5 230v2M124.5 249v2M125.5 258v1M125.5 314v1M126.5 264v1M126.5 266v1M126.5 312v1M127.5 272v1M127.5 276v1M128.5 290v2M128.5 297v2M128.5 313v1M129.5 284v3M129.5 297v1M130.5 293v1M130.5 330v1M131.5 250v1M131.5 290v1M132.5 225v4M132.5 257v1M132.5 289v1M133.5 270v4M133.5 282v3M136.5 346v1M138.5 222v14M138.5 239v5M139.5 207v3M139.5 346v1M147.5 238v1M149.5 201v1M150.5 253v2M153.5 283v1M155.5 223v2M155.5 228v2M155.5 283v1M156.5 235v4M156.5 283v3M157.5 249v3M157.5 281v2M157.5 286v3M158.5 265v11M158.5 296v2M159.5 302v2M160.5 305v10M160.5 318v1M161.5 322v2M162.5 325v2M163.5 328v2M164.5 213v2M164.5 220v3M164.5 330v1M165.5 216v3M165.5 331v1M165.5 371v1M166.5 210v4M166.5 223v4M166.5 331v2M167.5 332v1M167.5 372v1M168.5 332v2M169.5 333v1M170.5 333v1M171.5 333v1M172.5 333v1M173.5 333v1M174.5 333v1M175.5 333v1M176.5 333v1M177.5 332v1M178.5 332v1M179.5 331v1M180.5 330v1M181.5 329v1M181.5 388v1M181.5 390v1M182.5 328v2M183.5 326v2M183.5 389v1M184.5 323v3M185.5 210v5M185.5 322v1M186.5 209v11M186.5 310v8M187.5 299v4M188.5 294v4M189.5 292v4M190.5 293v2M191.5 293v1M193.5 286v2M194.5 282v2M195.5 234v24M195.5 264v1M195.5 276v3M196.5 274v1M197.5 262v1M198.5 224v5M198.5 232v13M198.5 255v2M199.5 241v2M199.5 246v1M200.5 208v2M203.5 210v1M205.5 222v1M206.5 224v3M207.5 228v2M208.5 202v9M208.5 232v3M209.5 245v1M210.5 252v2M210.5 261v2M210.5 268v1M211.5 287v1M212.5 202v3M212.5 230v2M212.5 290v2M213.5 290v2M214.5 289v3M215.5 291v3M215.5 308v1M216.5 252v8M216.5 296v1M217.5 297v2M218.5 297v4M219.5 297v2M220.5 290v1M220.5 295v1M221.5 269v5M221.5 284v3M222.5 253v10M223.5 248v2M225.5 226v2M228.5 355v1M229.5 356v1M230.5 221v4M231.5 240v1M232.5 251v5M232.5 261v1M233.5 287v2M234.5 290v1M235.5 293v2M236.5 297v1M237.5 300v1M238.5 301v1M238.5 350v1M238.5 357v1M239.5 207v3M239.5 302v1M240.5 239v13M240.5 302v1M240.5 351v1M241.5 237v7M241.5 245v1M241.5 247v5M241.5 302v1M241.5 352v3M242.5 298v4M243.5 286v8M244.5 266v1M244.5 273v1M244.5 330v2M245.5 261v2M246.5 256v2M247.5 251v2M248.5 234v4M249.5 203v4M255.5 219v3M256.5 228v3M257.5 243v6M257.5 313v1M258.5 254v5M258.5 260v3M259.5 270v4M259.5 326v2M260.5 278v19M260.5 307v1M261.5 293v3M262.5 289v4M263.5 285v4M264.5 282v2M265.5 205v3M265.5 280v1M266.5 272v3M266.5 279v1M267.5 268v1M268.5 262v1M269.5 255v2M270.5 249v1M270.5 251v2M272.5 222v1M273.5 215v1M273.5 218v2M274.5 221v1M276.5 235v1M278.5 250v1M279.5 256v2M280.5 261v3M281.5 269v1M282.5 270v1M283.5 274v2M284.5 282v3M285.5 291v1M286.5 295v1M287.5 296v2M287.5 323v1M288.5 298v2M289.5 300v2M289.5 325v1M290.5 301v2M291.5 302v2M292.5 245v2M292.5 275v1M292.5 282v1M292.5 303v2M293.5 241v3M293.5 256v1M293.5 285v1M293.5 302v2M294.5 257v1M294.5 271v1M294.5 288v3M294.5 299v6M296.5 230v1M296.5 233v1M297.5 259v1M297.5 267v1M298.5 240v1M298.5 258v1M298.5 270v1M299.5 246v1M299.5 251v1"/>
<path stroke="#b7ff40" d="M62.5 236v16M63.5 294v2M64.5 294v6M65.5 293v7M66.5 293v4M67.5 293v1M68.5 292v2M69.5 289v4M70.5 287v4M71.5 272v10M72.5 259v5M73.5 261v3M74.5 257v3M75.5 247v1M76.5 235v2M80.5 232v1M81.5 221v12M82.5 258v3M84.5 275v1M84.5 353v1M85.5 275v3M86.5 277v3M87.5 282v4M88.5 288v4M89.5 292v3M89.5 331v1M90.5 292v3M91.5 294v1M92.5 289v1M93.5 295v1M93.5 319v1M94.5 295v1M95.5 295v1M96.5 292v3M97.5 292v4M98.5 296v3M99.5 298v2M100.5 296v4M101.5 296v4M102.5 296v3M103.5 249v3M103.5 256v3M103.5 295v2M104.5 245v1M104.5 262v3M104.5 284v7M104.5 294v1M105.5 243v1M105.5 261v2M105.5 280v4M106.5 245v1M106.5 254v1M106.5 280v2M107.5 280v1M108.5 279v1M109.5 271v2M110.5 268v1M111.5 258v4M111.5 264v1M112.5 251v2M113.5 246v1M114.5 235v2M121.5 222v5M122.5 232v4M123.5 232v5M124.5 251v2M125.5 259v1M126.5 265v1M127.5 273v1M127.5 312v1M128.5 289v1M128.5 299v1M129.5 298v1M130.5 294v1M131.5 291v1M131.5 330v1M132.5 229v4M132.5 290v1M133.5 266v4M133.5 285v2M134.5 274v5M135.5 273v4M138.5 244v1M139.5 210v3M140.5 201v3M140.5 348v1M145.5 216v2M146.5 229v1M148.5 246v1M149.5 250v1M150.5 255v2M152.5 282v2M153.5 282v1M153.5 284v1M154.5 283v2M155.5 225v2M155.5 282v1M155.5 284v2M156.5 239v3M156.5 281v2M156.5 286v6M157.5 252v3M157.5 280v1M157.5 293v1M158.5 298v3M158.5 320v1M159.5 304v3M160.5 315v3M160.5 322v1M161.5 324v3M162.5 327v2M163.5 330v1M164.5 215v5M164.5 331v2M165.5 332v2M166.5 214v9M166.5 333v1M166.5 370v1M167.5 333v1M168.5 334v1M169.5 334v1M170.5 334v1M170.5 357v1M170.5 372v1M171.5 334v1M171.5 356v1M171.5 358v1M172.5 334v1M173.5 334v1M173.5 345v1M174.5 334v1M175.5 334v1M175.5 346v1M176.5 346v1M176.5 388v1M176.5 390v1M177.5 333v1M179.5 332v1M180.5 331v1M181.5 330v1M182.5 330v1M183.5 328v2M184.5 326v2M185.5 323v3M186.5 321v2M187.5 303v11M188.5 298v4M189.5 296v3M190.5 295v2M191.5 294v1M194.5 284v1M195.5 279v1M197.5 263v2M198.5 229v3M198.5 257v1M199.5 243v3M199.5 247v3M203.5 211v3M205.5 223v1M206.5 227v1M207.5 230v2M208.5 235v2M209.5 246v1M210.5 260v1M210.5 263v1M210.5 274v4M211.5 288v2M212.5 205v15M212.5 224v6M212.5 292v1M213.5 292v1M214.5 292v2M215.5 294v2M216.5 297v3M217.5 299v3M218.5 301v3M219.5 299v4M219.5 319v1M220.5 296v1M220.5 318v1M221.5 274v10M221.5 287v3M222.5 263v6M223.5 250v2M224.5 243v1M225.5 228v4M227.5 352v4M228.5 351v1M228.5 356v1M229.5 205v1M230.5 350v1M230.5 357v1M231.5 241v1M232.5 256v5M232.5 262v3M232.5 267v4M232.5 272v1M232.5 281v6M233.5 289v1M234.5 291v2M234.5 349v1M235.5 295v1M235.5 349v1M236.5 298v2M237.5 301v1M237.5 358v1M238.5 302v1M238.5 315v1M239.5 201v6M239.5 303v1M239.5 314v1M239.5 350v1M240.5 303v2M240.5 350v1M240.5 356v1M241.5 246v1M241.5 303v2M241.5 351v1M241.5 355v1M242.5 302v1M243.5 294v7M243.5 380v1M244.5 274v2M245.5 263v2M245.5 268v1M246.5 258v2M246.5 349v1M247.5 253v2M247.5 349v1M248.5 238v4M248.5 349v1M249.5 207v4M255.5 222v2M256.5 231v2M257.5 249v2M257.5 312v1M258.5 259v1M258.5 263v7M259.5 274v5M259.5 284v1M259.5 292v7M259.5 305v2M259.5 314v1M260.5 297v3M261.5 296v3M261.5 304v1M262.5 293v3M263.5 289v3M264.5 284v3M265.5 201v4M265.5 281v1M267.5 269v2M267.5 275v1M268.5 263v3M269.5 257v1M270.5 250v1M271.5 236v1M273.5 216v2M273.5 221v1M276.5 236v2M277.5 243v1M278.5 251v1M279.5 258v1M280.5 264v4M282.5 271v2M283.5 276v3M284.5 285v2M285.5 292v2M285.5 310v1M286.5 296v2M286.5 325v1M287.5 298v2M288.5 300v2M288.5 310v1M289.5 302v1M290.5 303v2M291.5 304v2M292.5 276v6M292.5 305v2M293.5 244v1M293.5 272v1M293.5 284v1M293.5 304v3M294.5 239v1M294.5 286v2M295.5 295v5M296.5 231v2M296.5 237v1M296.5 268v1M297.5 238v1M297.5 268v1M299.5 247v4"/>
<path stroke="#c4ff33" d="M64.5 300v3M65.5 300v3M66.5 297v5M67.5 294v7M68.5 294v6M69.5 293v5M70.5 291v4M71.5 282v9M72.5 264v2M73.5 264v2M74.5 260v3M75.5 248v4M77.5 232v1M80.5 246v1M81.5 233v13M82.5 261v2M83.5 271v2M84.5 276v2M85.5 278v2M86.5 280v4M86.5 331v1M86.5 355v1M87.5 286v3M87.5 355v1M88.5 292v4M89.5 295v3M90.5 295v3M91.5 295v1M91.5 304v1M91.5 307v1M91.5 321v1M92.5 295v1M92.5 304v1M92.5 307v1M92.5 319v1M93.5 296v1M94.5 296v2M95.5 296v3M96.5 295v4M97.5 296v3M98.5 299v2M99.5 300v2M100.5 300v2M101.5 300v1M102.5 299v2M103.5 252v4M103.5 297v3M104.5 246v1M104.5 260v2M104.5 295v1M105.5 244v1M105.5 258v1M105.5 260v1M105.5 284v6M106.5 246v1M106.5 282v2M107.5 281v2M108.5 324v1M109.5 273v1M110.5 269v1M111.5 262v2M111.5 266v1M112.5 253v3M113.5 247v1M114.5 237v2M115.5 215v2M122.5 236v1M123.5 237v4M124.5 253v1M125.5 260v1M128.5 281v1M128.5 288v1M128.5 300v1M128.5 314v1M129.5 299v1M130.5 295v1M131.5 292v1M132.5 233v9M132.5 332v1M133.5 265v1M133.5 287v1M134.5 270v4M134.5 279v3M135.5 270v3M135.5 277v2M138.5 245v1M139.5 213v1M140.5 204v1M145.5 218v2M146.5 230v2M147.5 239v1M148.5 247v1M149.5 251v1M150.5 257v1M152.5 284v1M153.5 285v1M154.5 210v1M154.5 282v1M154.5 285v1M155.5 227v1M155.5 230v1M155.5 281v1M155.5 286v3M156.5 242v3M156.5 280v1M156.5 292v1M157.5 255v5M157.5 279v1M157.5 294v4M158.5 301v2M158.5 319v1M159.5 307v12M160.5 323v3M161.5 327v2M162.5 329v2M163.5 331v2M164.5 333v1M165.5 334v1M166.5 334v1M167.5 334v1M169.5 335v1M170.5 335v1M171.5 335v1M172.5 335v1M173.5 335v1M174.5 335v1M174.5 389v1M176.5 334v1M177.5 334v1M178.5 333v1M179.5 333v1M180.5 332v1M181.5 331v1M182.5 331v1M182.5 388v1M182.5 390v1M183.5 330v1M184.5 328v2M185.5 326v3M186.5 323v4M187.5 314v9M188.5 302v6M189.5 299v4M190.5 297v4M191.5 295v2M192.5 293v1M193.5 292v1M194.5 285v2M194.5 289v2M195.5 280v2M196.5 275v1M197.5 265v2M198.5 258v1M199.5 250v2M200.5 210v3M203.5 214v5M204.5 221v1M205.5 224v1M206.5 228v2M207.5 232v3M208.5 237v5M209.5 269v1M210.5 254v6M210.5 264v4M210.5 278v4M211.5 290v1M212.5 220v4M212.5 293v1M213.5 293v2M214.5 294v2M215.5 296v4M215.5 307v1M216.5 300v3M217.5 302v3M217.5 306v1M217.5 319v1M218.5 304v3M219.5 303v1M220.5 297v3M221.5 290v4M222.5 269v7M222.5 281v8M223.5 252v1M223.5 283v4M224.5 244v3M224.5 284v2M226.5 353v1M229.5 206v2M229.5 350v1M229.5 357v1M230.5 225v1M230.5 358v2M231.5 285v1M231.5 360v1M232.5 265v2M232.5 271v1M232.5 273v8M232.5 287v2M232.5 349v1M233.5 290v2M233.5 349v1M234.5 293v1M235.5 296v2M235.5 380v1M236.5 300v1M236.5 349v1M236.5 360v1M237.5 302v1M237.5 349v1M237.5 359v1M238.5 303v2M238.5 349v1M238.5 379v1M239.5 304v1M239.5 357v1M239.5 379v1M240.5 305v1M240.5 379v1M241.5 305v1M241.5 350v1M241.5 356v1M242.5 303v1M242.5 350v5M243.5 301v1M243.5 381v1M244.5 276v12M244.5 349v2M245.5 265v1M245.5 272v1M245.5 349v2M246.5 260v1M246.5 348v1M246.5 350v1M247.5 255v2M247.5 348v1M247.5 350v1M248.5 348v1M248.5 350v1M249.5 349v1M256.5 233v1M257.5 251v4M257.5 260v2M258.5 270v2M258.5 314v1M259.5 279v5M259.5 285v7M259.5 299v3M259.5 311v1M260.5 300v2M260.5 304v1M261.5 299v3M262.5 296v3M262.5 307v1M263.5 292v3M264.5 287v2M265.5 282v1M267.5 271v1M269.5 258v2M270.5 253v1M271.5 237v4M275.5 223v1M277.5 244v1M278.5 252v1M279.5 259v2M280.5 268v1M281.5 270v1M282.5 273v2M283.5 279v3M284.5 287v3M285.5 294v2M285.5 308v1M286.5 298v1M287.5 300v2M288.5 302v2M288.5 308v1M289.5 303v3M290.5 305v2M291.5 306v2M292.5 307v1M293.5 245v4M293.5 252v4M293.5 273v1M293.5 283v1M293.5 307v1M294.5 256v1M294.5 272v1M294.5 285v1M295.5 271v1M295.5 290v5M296.5 258v1M296.5 269v1M297.5 258v1M297.5 269v1M298.5 256v2M298.5 271v1"/>
<path stroke="#d1ff26" d="M65.5 303v3M66.5 302v3M67.5 301v3M68.5 300v4M69.5 298v4M70.5 295v4M71.5 291v4M72.5 266v14M72.5 286v1M73.5 266v5M74.5 263v2M78.5 232v1M80.5 233v6M80.5 249v1M81.5 250v1M82.5 263v3M83.5 273v2M84.5 278v2M85.5 280v2M85.5 355v1M86.5 284v3M87.5 289v4M88.5 296v3M89.5 298v3M89.5 333v1M89.5 354v1M90.5 298v2M91.5 296v2M92.5 296v2M93.5 297v2M94.5 298v2M95.5 299v2M96.5 299v2M97.5 299v3M98.5 301v2M99.5 302v2M100.5 302v1M101.5 301v2M102.5 301v1M103.5 300v1M104.5 247v1M104.5 256v4M104.5 296v3M105.5 245v1M105.5 259v1M105.5 290v5M105.5 324v1M106.5 247v2M106.5 284v6M107.5 283v2M108.5 280v1M108.5 322v1M110.5 270v2M110.5 275v1M112.5 256v2M113.5 248v2M114.5 239v3M115.5 217v5M116.5 201v2M122.5 237v3M123.5 241v2M124.5 254v2M125.5 261v1M125.5 312v1M127.5 274v2M127.5 294v6M128.5 282v2M128.5 287v1M128.5 301v1M129.5 300v1M129.5 330v1M130.5 296v1M131.5 293v1M132.5 251v1M132.5 291v2M133.5 264v1M133.5 288v1M134.5 267v3M134.5 282v2M134.5 347v1M135.5 268v2M135.5 279v1M137.5 349v1M138.5 246v3M138.5 349v1M139.5 214v5M140.5 205v1M144.5 201v3M145.5 220v1M147.5 240v1M149.5 252v1M150.5 258v1M151.5 249v4M152.5 285v1M153.5 281v1M153.5 286v2M154.5 211v4M154.5 281v1M154.5 286v3M155.5 231v1M155.5 280v1M155.5 289v4M156.5 245v1M156.5 279v1M156.5 293v4M157.5 260v1M157.5 278v1M157.5 298v3M158.5 303v4M158.5 314v1M158.5 321v1M159.5 322v3M160.5 326v3M161.5 329v2M162.5 331v2M163.5 333v1M164.5 334v1M165.5 335v1M166.5 335v1M166.5 372v1M167.5 335v1M168.5 335v1M170.5 336v1M171.5 336v1M171.5 370v1M172.5 336v1M172.5 371v1M173.5 336v1M173.5 344v1M174.5 346v1M175.5 335v1M175.5 356v1M175.5 358v1M176.5 335v1M177.5 335v1M178.5 334v1M178.5 345v1M179.5 334v1M180.5 333v1M181.5 332v1M182.5 332v1M183.5 331v1M184.5 330v1M185.5 329v1M186.5 327v2M187.5 323v5M188.5 308v15M189.5 303v4M190.5 301v2M191.5 297v3M192.5 294v2M194.5 287v2M195.5 282v2M196.5 276v1M197.5 267v2M198.5 259v2M200.5 213v6M205.5 225v3M206.5 230v2M207.5 235v2M208.5 242v2M209.5 247v1M210.5 282v3M211.5 291v1M212.5 294v2M213.5 295v3M214.5 296v3M215.5 300v3M215.5 309v1M216.5 303v4M216.5 310v1M216.5 318v1M216.5 330v1M217.5 305v1M217.5 310v1M217.5 330v1M219.5 304v5M220.5 300v2M220.5 317v1M221.5 294v3M222.5 276v5M222.5 289v3M223.5 253v2M223.5 257v6M223.5 264v2M223.5 267v1M223.5 281v2M223.5 287v3M224.5 247v1M224.5 282v2M224.5 286v3M225.5 232v1M225.5 283v5M226.5 352v1M226.5 354v2M227.5 351v1M227.5 356v1M229.5 208v2M230.5 283v4M231.5 242v1M231.5 282v3M231.5 286v1M231.5 349v1M232.5 289v1M233.5 292v1M234.5 294v2M235.5 298v2M235.5 381v1M236.5 301v1M236.5 315v1M237.5 303v1M238.5 305v1M238.5 358v1M239.5 305v1M239.5 313v1M239.5 349v1M240.5 306v1M240.5 349v1M240.5 357v1M241.5 306v1M241.5 349v1M241.5 379v1M242.5 304v2M242.5 349v1M242.5 355v1M243.5 302v2M243.5 349v5M244.5 288v13M244.5 351v1M245.5 266v2M245.5 348v1M245.5 351v1M246.5 261v2M247.5 257v2M248.5 242v1M249.5 348v1M249.5 350v1M255.5 224v1M256.5 234v7M257.5 255v5M257.5 262v6M257.5 325v1M257.5 328v1M258.5 272v4M258.5 291v11M258.5 311v1M259.5 302v3M260.5 302v2M261.5 302v2M262.5 299v3M262.5 304v1M263.5 295v3M263.5 306v1M264.5 289v4M265.5 283v3M267.5 272v3M268.5 266v3M269.5 260v1M271.5 241v1M275.5 224v2M277.5 245v1M278.5 253v1M279.5 261v1M281.5 271v1M282.5 275v3M283.5 282v3M284.5 290v3M285.5 296v2M286.5 299v2M286.5 323v1M287.5 302v2M288.5 304v3M289.5 306v4M289.5 323v1M290.5 307v2M291.5 308v1M292.5 308v2M293.5 249v3M293.5 308v1M294.5 240v3M294.5 284v1M295.5 257v1M295.5 287v3M296.5 270v1M297.5 270v1M298.5 272v1"/>
<path stroke="#deff19" d="M65.5 306v2M66.5 305v3M67.5 304v3M68.5 304v2M69.5 302v2M70.5 299v3M71.5 295v4M72.5 280v6M72.5 287v5M73.5 271v5M74.5 265v1M75.5 252v1M76.5 237v5M80.5 239v1M81.5 251v3M82.5 266v1M83.5 275v1M84.5 280v1M85.5 282v3M86.5 287v2M86.5 333v1M87.5 293v5M88.5 299v4M89.5 301v3M89.5 305v1M90.5 300v2M90.5 304v1M90.5 332v1M91.5 298v3M92.5 298v3M93.5 299v2M93.5 304v1M93.5 307v1M94.5 300v2M94.5 319v1M95.5 301v2M96.5 301v2M97.5 302v2M98.5 303v2M99.5 304v1M100.5 303v2M101.5 303v1M102.5 302v1M103.5 301v1M104.5 248v2M104.5 255v1M104.5 299v2M105.5 246v1M105.5 295v3M106.5 249v5M106.5 290v5M107.5 285v5M107.5 291v1M108.5 281v2M109.5 279v1M110.5 272v1M110.5 274v1M111.5 267v1M112.5 258v2M113.5 250v2M115.5 222v1M121.5 227v3M122.5 240v1M123.5 243v3M124.5 256v1M125.5 262v1M126.5 270v1M127.5 292v2M127.5 300v2M128.5 302v1M128.5 312v1M128.5 331v1M129.5 301v1M130.5 297v2M131.5 294v1M132.5 246v1M133.5 263v1M133.5 289v1M134.5 266v1M134.5 284v2M134.5 348v1M135.5 266v2M135.5 280v2M135.5 346v1M136.5 349v1M137.5 201v4M138.5 249v1M139.5 219v4M140.5 346v1M144.5 204v1M148.5 248v1M149.5 253v1M149.5 257v1M149.5 259v1M152.5 281v1M152.5 286v1M153.5 288v2M154.5 215v3M154.5 289v2M155.5 232v2M155.5 293v3M156.5 246v3M156.5 297v2M157.5 261v2M157.5 277v1M157.5 301v3M158.5 307v7M158.5 315v4M158.5 322v2M159.5 325v3M160.5 329v2M161.5 331v2M162.5 333v1M163.5 334v1M164.5 335v1M165.5 336v1M165.5 370v1M166.5 336v1M167.5 336v1M168.5 336v1M169.5 336v1M171.5 372v1M174.5 336v1M175.5 336v1M175.5 343v1M175.5 388v1M175.5 390v1M176.5 336v1M176.5 343v1M176.5 357v1M177.5 346v1M178.5 335v1M178.5 344v1M180.5 334v1M181.5 333v1M182.5 333v1M183.5 332v1M184.5 331v1M184.5 389v1M185.5 330v1M186.5 329v1M187.5 328v2M188.5 323v7M189.5 307v20M190.5 303v3M191.5 300v2M192.5 296v3M193.5 293v1M194.5 291v1M195.5 284v1M196.5 277v2M197.5 269v1M199.5 252v2M200.5 219v1M203.5 219v1M204.5 222v1M205.5 228v1M206.5 232v1M207.5 237v4M208.5 244v1M209.5 248v1M210.5 285v2M211.5 292v2M212.5 296v2M213.5 298v2M214.5 299v4M215.5 303v4M216.5 317v1M216.5 333v1M217.5 333v1M218.5 310v1M218.5 316v1M219.5 309v1M220.5 302v2M221.5 297v3M222.5 292v3M223.5 255v2M223.5 263v1M223.5 266v1M223.5 268v13M223.5 290v2M224.5 281v1M224.5 289v2M225.5 233v2M225.5 282v1M225.5 288v1M225.5 353v2M226.5 201v3M226.5 284v3M228.5 350v1M228.5 357v1M229.5 283v3M229.5 358v1M230.5 226v3M230.5 282v1M230.5 287v1M230.5 349v1M231.5 243v2M231.5 281v1M231.5 287v2M232.5 290v2M233.5 293v2M234.5 296v2M235.5 300v1M236.5 302v1M237.5 304v1M237.5 360v1M237.5 379v1M238.5 306v1M238.5 359v1M239.5 306v1M239.5 358v1M239.5 382v1M240.5 307v1M240.5 382v1M241.5 307v1M242.5 306v1M242.5 329v1M242.5 332v1M242.5 356v1M243.5 304v1M243.5 329v1M243.5 348v1M243.5 354v1M244.5 301v1M244.5 348v1M244.5 352v1M245.5 273v1M245.5 298v1M246.5 263v1M246.5 351v1M247.5 351v1M248.5 243v6M249.5 211v7M249.5 299v3M250.5 299v3M250.5 349v1M254.5 201v7M255.5 225v4M255.5 298v4M256.5 241v1M256.5 298v4M257.5 268v3M257.5 296v6M258.5 276v15M258.5 302v2M258.5 325v1M258.5 328v1M259.5 307v1M260.5 308v1M260.5 311v1M260.5 314v1M261.5 312v2M262.5 302v2M263.5 298v3M263.5 305v1M264.5 293v2M265.5 286v3M266.5 280v2M267.5 279v1M268.5 269v1M269.5 261v2M274.5 222v1M276.5 238v2M278.5 254v2M279.5 262v2M280.5 269v1M281.5 272v3M282.5 278v2M283.5 285v2M284.5 293v2M285.5 298v1M286.5 301v2M286.5 311v1M287.5 304v4M287.5 311v1M288.5 307v1M289.5 310v1M290.5 309v2M291.5 309v2M292.5 310v1M293.5 274v1M293.5 282v1M293.5 309v1M294.5 243v2M295.5 238v1M295.5 272v1M295.5 285v2M296.5 292v3"/>
<path stroke="#ebff0c" d="M65.5 308v1M66.5 308v1M67.5 307v2M68.5 306v1M69.5 304v2M70.5 302v3M71.5 299v3M72.5 292v6M73.5 276v6M73.5 286v1M74.5 266v5M75.5 253v4M76.5 242v1M79.5 233v1M80.5 240v6M81.5 254v4M82.5 267v1M83.5 276v1M83.5 354v1M84.5 281v2M85.5 285v3M86.5 289v4M87.5 298v5M88.5 303v4M88.5 355v1M89.5 304v1M89.5 306v1M89.5 353v1M90.5 302v2M90.5 307v1M91.5 301v3M92.5 301v3M93.5 301v3M93.5 322v1M94.5 302v5M95.5 303v2M95.5 320v1M96.5 303v2M97.5 304v2M98.5 305v2M99.5 305v2M100.5 305v1M101.5 304v1M102.5 303v1M103.5 302v1M104.5 250v5M104.5 301v1M105.5 247v2M105.5 254v1M105.5 298v2M105.5 322v1M106.5 295v2M107.5 290v1M107.5 292v3M108.5 283v2M109.5 323v1M110.5 273v1M110.5 278v1M111.5 268v2M112.5 260v4M113.5 252v1M114.5 242v1M120.5 201v2M121.5 230v2M123.5 246v2M124.5 257v1M125.5 263v1M126.5 299v2M126.5 315v1M127.5 280v1M127.5 291v1M127.5 302v1M127.5 315v1M128.5 284v3M128.5 303v1M129.5 302v1M130.5 299v1M131.5 295v1M132.5 293v1M132.5 330v1M133.5 255v1M133.5 262v1M133.5 290v1M134.5 265v1M134.5 286v1M135.5 282v1M137.5 205v36M138.5 250v2M139.5 223v9M139.5 237v2M139.5 349v1M140.5 206v5M141.5 347v1M146.5 232v1M147.5 241v1M148.5 249v1M149.5 254v1M149.5 258v1M150.5 259v1M151.5 242v3M151.5 248v1M151.5 253v1M151.5 282v1M152.5 287v2M153.5 290v2M154.5 218v4M154.5 280v1M154.5 291v3M155.5 279v1M155.5 296v2M156.5 249v3M156.5 278v1M156.5 299v3M157.5 263v5M157.5 270v2M157.5 276v1M157.5 304v18M158.5 324v4M159.5 328v3M160.5 331v2M161.5 333v1M162.5 334v1M163.5 335v1M164.5 336v1M164.5 371v1M165.5 337v1M166.5 337v1M167.5 337v1M168.5 337v1M169.5 337v1M170.5 337v1M171.5 337v1M172.5 337v1M173.5 337v1M173.5 389v1M174.5 337v1M174.5 343v1M175.5 337v1M176.5 337v1M177.5 336v1M178.5 336v1M179.5 335v1M180.5 335v1M181.5 334v1M182.5 334v1M183.5 333v1M183.5 388v1M183.5 390v1M184.5 332v1M185.5 331v1M186.5 330v2M187.5 330v1M188.5 330v1M189.5 327v4M190.5 306v21M191.5 302v3M192.5 299v1M193.5 294v2M195.5 285v2M196.5 279v2M197.5 270v2M198.5 261v2M199.5 254v1M205.5 229v1M206.5 233v2M207.5 241v3M208.5 245v1M209.5 249v1M210.5 287v1M211.5 294v1M212.5 298v2M213.5 300v3M214.5 303v7M214.5 331v2M215.5 310v2M216.5 311v3M216.5 319v1M217.5 311v2M217.5 316v1M218.5 311v1M219.5 316v1M219.5 331v2M220.5 304v2M220.5 319v1M221.5 300v2M222.5 295v3M223.5 292v3M224.5 248v1M224.5 280v1M224.5 291v2M225.5 235v3M225.5 281v1M225.5 289v2M225.5 352v1M225.5 355v1M226.5 204v6M226.5 283v1M226.5 287v2M226.5 351v1M226.5 356v1M227.5 284v2M227.5 350v1M227.5 357v1M228.5 284v2M229.5 210v1M229.5 282v1M229.5 286v2M229.5 349v1M229.5 359v1M230.5 229v1M230.5 281v1M230.5 288v1M230.5 360v1M231.5 245v3M231.5 279v2M231.5 289v2M232.5 292v2M232.5 348v1M233.5 295v2M233.5 348v1M234.5 298v2M234.5 348v1M234.5 380v1M235.5 301v2M235.5 314v1M235.5 348v1M236.5 303v2M236.5 348v1M236.5 379v1M237.5 305v1M237.5 312v1M237.5 348v1M237.5 382v1M238.5 307v1M238.5 312v1M238.5 348v1M238.5 382v1M239.5 307v2M239.5 315v1M239.5 348v1M240.5 308v1M240.5 330v2M240.5 348v1M240.5 358v1M241.5 308v1M241.5 348v1M241.5 357v1M241.5 382v1M242.5 307v1M242.5 348v1M242.5 379v1M243.5 305v1M243.5 332v1M243.5 355v1M244.5 302v2M244.5 353v1M244.5 380v2M245.5 274v4M245.5 285v13M245.5 299v2M245.5 352v1M246.5 264v2M246.5 270v1M246.5 347v1M247.5 259v2M247.5 347v1M248.5 249v1M248.5 347v1M248.5 351v1M249.5 218v7M249.5 298v1M249.5 302v1M250.5 298v1M250.5 302v1M250.5 348v1M250.5 350v1M251.5 349v1M254.5 208v3M254.5 299v2M255.5 229v3M255.5 297v1M255.5 302v1M255.5 326v2M256.5 242v4M256.5 295v3M256.5 302v1M257.5 271v1M257.5 291v5M257.5 302v2M257.5 314v1M258.5 304v3M259.5 308v1M260.5 309v2M261.5 308v2M261.5 311v1M262.5 308v1M263.5 301v2M263.5 304v1M263.5 307v1M264.5 295v3M265.5 289v2M266.5 282v1M268.5 270v2M272.5 223v1M273.5 222v1M275.5 226v1M276.5 240v1M277.5 246v2M279.5 264v1M280.5 270v2M281.5 275v1M282.5 280v2M283.5 287v3M284.5 295v2M285.5 299v2M285.5 324v1M286.5 303v3M286.5 307v1M287.5 326v1M288.5 311v1M288.5 326v1M289.5 311v2M290.5 311v2M291.5 311v1M292.5 311v1M293.5 275v1M293.5 281v1M294.5 255v1M294.5 273v1M294.5 283v1M295.5 284v1M296.5 271v1M296.5 288v4M297.5 254v1M297.5 257v1M297.5 271v1M298.5 245v1M298.5 251v1M298.5 273v1"/>
<path stroke="#f8f500" d="M66.5 309v2M67.5 309v2M68.5 307v2M69.5 306v2M70.5 305v1M71.5 302v4M72.5 298v4M73.5 282v4M73.5 287v4M74.5 271v3M75.5 257v4M81.5 258v1M82.5 268v3M83.5 277v2M83.5 353v1M84.5 283v2M84.5 355v1M85.5 288v2M85.5 332v1M86.5 293v6M86.5 352v1M87.5 303v6M88.5 307v2M89.5 307v1M90.5 331v1M91.5 319v1M92.5 322v1M94.5 307v1M95.5 305v3M95.5 321v1M96.5 305v3M97.5 306v2M98.5 307v1M99.5 307v2M100.5 306v2M101.5 305v1M102.5 304v1M103.5 303v1M104.5 302v1M105.5 249v5M105.5 300v1M106.5 297v2M107.5 295v1M108.5 285v9M109.5 280v2M111.5 270v1M112.5 264v2M113.5 253v3M114.5 243v1M116.5 203v1M120.5 203v3M122.5 241v2M123.5 248v1M124.5 258v1M124.5 313v1M125.5 264v1M126.5 296v3M126.5 301v2M126.5 311v1M127.5 289v2M127.5 303v3M127.5 311v1M128.5 304v3M128.5 311v1M128.5 332v1M129.5 303v3M129.5 313v1M130.5 300v2M131.5 296v2M132.5 247v4M132.5 294v1M133.5 261v1M133.5 291v2M133.5 331v1M134.5 264v1M134.5 287v1M135.5 265v1M135.5 283v1M135.5 349v1M136.5 275v1M137.5 241v4M138.5 252v1M139.5 232v5M140.5 211v3M141.5 348v1M145.5 221v1M146.5 233v3M149.5 255v2M149.5 260v1M151.5 234v3M151.5 241v1M151.5 245v3M151.5 254v1M151.5 283v1M152.5 289v1M153.5 280v1M153.5 292v2M154.5 294v3M155.5 234v4M155.5 298v2M156.5 252v1M156.5 277v1M156.5 302v2M157.5 268v2M157.5 272v4M157.5 322v5M158.5 328v3M159.5 331v2M160.5 333v1M161.5 334v1M162.5 335v1M163.5 336v1M164.5 337v1M165.5 372v1M166.5 338v1M167.5 338v1M168.5 338v1M169.5 338v1M170.5 338v1M170.5 356v1M170.5 358v1M171.5 338v1M172.5 338v1M172.5 344v2M172.5 370v1M173.5 338v1M173.5 346v1M174.5 338v1M174.5 388v1M174.5 390v1M175.5 338v1M176.5 338v1M177.5 337v1M177.5 343v1M178.5 337v1M179.5 336v1M180.5 336v1M181.5 335v1M182.5 335v1M183.5 334v1M184.5 333v1M185.5 332v2M186.5 332v1M187.5 331v1M188.5 331v2M189.5 331v1M190.5 327v5M191.5 305v12M192.5 300v2M193.5 296v1M194.5 292v1M195.5 287v2M196.5 281v1M197.5 272v2M198.5 263v1M199.5 255v1M200.5 220v1M204.5 223v2M205.5 230v1M206.5 235v1M209.5 250v1M209.5 273v1M210.5 288v2M211.5 295v2M212.5 300v2M213.5 303v5M214.5 310v3M215.5 312v7M215.5 330v1M215.5 333v1M216.5 314v3M217.5 313v3M218.5 312v2M218.5 330v1M218.5 333v1M219.5 310v2M220.5 306v4M221.5 302v2M222.5 298v3M223.5 295v3M224.5 249v3M224.5 267v1M224.5 269v2M224.5 272v8M224.5 293v3M224.5 352v3M225.5 291v2M225.5 351v1M225.5 356v1M226.5 210v1M226.5 282v1M226.5 289v2M226.5 350v1M226.5 357v1M227.5 283v1M227.5 286v3M228.5 283v1M228.5 286v2M228.5 349v1M228.5 358v1M229.5 288v2M230.5 230v1M230.5 280v1M230.5 289v2M231.5 248v2M231.5 277v2M231.5 291v2M231.5 348v1M232.5 294v2M233.5 297v2M233.5 361v1M234.5 300v2M234.5 361v1M234.5 381v1M235.5 303v1M235.5 313v1M235.5 361v1M236.5 305v1M236.5 312v1M237.5 306v1M238.5 308v1M238.5 360v1M239.5 309v1M239.5 359v1M240.5 309v1M241.5 309v1M241.5 329v1M241.5 332v1M241.5 358v1M242.5 308v1M242.5 357v1M243.5 306v2M243.5 356v1M244.5 304v1M244.5 347v1M244.5 354v1M245.5 278v7M245.5 301v2M245.5 347v1M245.5 353v1M246.5 266v1M246.5 269v1M246.5 271v1M246.5 295v6M246.5 352v1M247.5 298v2M248.5 250v1M248.5 298v4M249.5 297v1M249.5 303v1M249.5 347v1M249.5 351v1M250.5 303v1M251.5 299v2M251.5 348v1M251.5 350v1M254.5 211v1M254.5 298v1M254.5 301v1M255.5 232v1M255.5 295v2M255.5 303v2M256.5 246v5M256.5 260v7M256.5 292v3M256.5 303v2M256.5 312v2M256.5 325v1M256.5 328v1M257.5 272v4M257.5 284v7M257.5 304v3M257.5 311v1M258.5 307v2M258.5 310v1M259.5 309v2M259.5 325v1M260.5 326v1M261.5 310v1M261.5 314v1M262.5 309v4M263.5 303v1M264.5 298v3M265.5 291v3M266.5 283v4M268.5 277v1M269.5 263v1M270.5 254v2M271.5 242v1M275.5 227v2M278.5 256v1M279.5 265v2M280.5 272v2M281.5 276v2M282.5 282v3M283.5 290v3M284.5 297v2M284.5 309v1M285.5 301v2M285.5 307v1M285.5 311v1M286.5 306v1M287.5 312v1M287.5 322v1M288.5 312v2M289.5 313v2M290.5 313v1M291.5 312v1M292.5 312v1M293.5 276v5M294.5 245v2M294.5 252v3M294.5 282v1M295.5 283v1M296.5 285v3M297.5 239v1M297.5 272v1M297.5 285v3M298.5 246v1M298.5 250v1"/>
<path stroke="#ffe600" d="M66.5 311v2M67.5 311v2M68.5 309v2M69.5 308v1M70.5 306v2M71.5 306v1M72.5 302v5M73.5 291v8M74.5 274v4M75.5 261v4M76.5 243v1M79.5 234v5M80.5 250v1M81.5 259v4M82.5 271v1M83.5 279v1M84.5 285v2M85.5 290v4M85.5 331v1M85.5 352v1M86.5 299v10M87.5 309v2M87.5 330v1M87.5 352v1M88.5 309v2M88.5 330v1M89.5 308v2M90.5 308v1M90.5 320v2M90.5 333v1M91.5 308v1M92.5 308v1M93.5 308v1M94.5 308v1M94.5 322v1M95.5 308v1M96.5 308v1M97.5 308v1M98.5 308v2M99.5 309v1M100.5 308v2M101.5 306v2M102.5 305v1M103.5 304v1M104.5 323v1M105.5 301v1M106.5 299v1M107.5 296v2M108.5 294v2M109.5 282v1M109.5 324v1M111.5 271v1M113.5 256v1M114.5 244v3M115.5 223v1M116.5 204v3M120.5 213v1M123.5 249v2M124.5 259v1M124.5 314v1M125.5 265v1M125.5 267v1M125.5 298v5M125.5 311v1M125.5 315v1M126.5 271v1M126.5 295v1M126.5 303v8M127.5 306v5M128.5 307v4M128.5 315v1M128.5 330v1M129.5 306v7M129.5 314v1M130.5 302v4M130.5 333v1M131.5 298v2M131.5 333v1M132.5 295v2M133.5 260v1M133.5 293v1M133.5 347v1M134.5 288v2M134.5 346v1M135.5 284v1M136.5 273v2M136.5 276v1M137.5 345v1M138.5 253v1M138.5 345v1M139.5 239v4M140.5 349v1M141.5 346v1M145.5 222v2M147.5 242v1M151.5 226v2M151.5 233v1M151.5 237v4M151.5 255v1M151.5 284v1M152.5 290v1M153.5 294v2M154.5 279v1M154.5 297v2M155.5 238v4M155.5 278v1M155.5 300v2M156.5 253v3M156.5 304v20M157.5 327v4M158.5 331v2M159.5 333v1M160.5 334v1M161.5 335v1M162.5 336v1M163.5 337v1M164.5 338v1M165.5 338v1M166.5 339v1M167.5 339v1M168.5 339v1M169.5 339v1M169.5 357v1M170.5 339v1M171.5 339v1M172.5 339v1M172.5 372v1M173.5 339v1M173.5 343v1M173.5 371v1M174.5 339v1M175.5 339v1M176.5 339v1M176.5 356v1M176.5 358v1M177.5 338v1M178.5 338v1M178.5 346v1M179.5 337v1M179.5 345v1M180.5 337v1M181.5 336v1M182.5 336v1M183.5 335v1M184.5 334v1M184.5 388v1M184.5 390v1M185.5 334v1M185.5 389v1M186.5 333v1M187.5 332v2M188.5 333v1M189.5 332v2M190.5 332v1M191.5 317v15M192.5 302v3M193.5 297v3M194.5 293v2M195.5 289v1M196.5 282v2M198.5 264v2M199.5 256v2M205.5 231v1M206.5 236v1M207.5 244v1M208.5 246v1M209.5 251v1M209.5 274v1M210.5 290v1M211.5 297v2M212.5 302v3M213.5 308v5M214.5 313v6M215.5 319v1M217.5 320v1M218.5 314v2M218.5 320v1M219.5 312v2M219.5 315v1M220.5 310v1M220.5 316v1M221.5 304v4M221.5 318v1M222.5 301v3M223.5 298v3M224.5 252v1M224.5 261v1M224.5 264v3M224.5 268v1M224.5 271v1M224.5 296v3M224.5 351v1M224.5 355v1M225.5 238v1M225.5 280v1M225.5 293v3M225.5 350v1M225.5 357v1M226.5 281v1M226.5 291v2M227.5 282v1M227.5 289v2M227.5 349v1M227.5 358v1M228.5 282v1M228.5 288v3M228.5 359v1M229.5 211v2M229.5 281v1M229.5 290v2M229.5 348v1M229.5 360v1M230.5 291v3M230.5 348v1M231.5 272v1M231.5 274v3M231.5 293v3M232.5 296v3M232.5 361v1M233.5 299v2M234.5 302v2M235.5 304v2M235.5 315v1M235.5 347v1M235.5 379v1M236.5 306v1M236.5 347v1M236.5 361v1M236.5 382v1M237.5 307v2M238.5 309v1M239.5 310v3M240.5 310v5M240.5 359v1M241.5 310v2M242.5 309v1M242.5 347v1M242.5 382v1M243.5 308v1M243.5 347v1M243.5 379v1M244.5 305v2M244.5 329v1M244.5 355v1M245.5 303v1M245.5 330v2M245.5 354v1M245.5 380v1M246.5 267v2M246.5 291v4M246.5 301v1M246.5 353v1M247.5 261v1M247.5 296v2M247.5 300v1M247.5 352v1M248.5 297v1M248.5 302v1M249.5 304v1M250.5 297v1M250.5 304v1M250.5 347v1M250.5 351v1M251.5 298v1M251.5 301v2M252.5 299v1M252.5 349v1M253.5 298v3M254.5 212v1M254.5 297v1M254.5 302v2M255.5 293v2M255.5 305v1M256.5 251v9M256.5 267v4M256.5 289v3M256.5 305v2M257.5 276v4M257.5 281v3M257.5 307v2M257.5 310v1M258.5 309v1M258.5 315v1M259.5 315v1M259.5 328v1M260.5 315v1M260.5 327v1M261.5 315v1M262.5 313v2M263.5 308v3M264.5 301v6M265.5 294v3M266.5 287v2M267.5 280v2M268.5 272v2M268.5 276v1M269.5 264v2M270.5 256v1M271.5 243v2M277.5 248v1M278.5 257v2M280.5 274v2M281.5 278v2M282.5 285v2M283.5 293v2M284.5 299v1M284.5 308v1M284.5 310v1M285.5 303v4M285.5 323v1M285.5 325v1M286.5 312v1M286.5 326v1M287.5 313v2M288.5 314v3M288.5 322v1M289.5 315v2M289.5 326v1M290.5 314v1M291.5 313v2M292.5 313v1M294.5 247v5M294.5 274v1M295.5 273v1M295.5 282v1M296.5 238v1M296.5 257v1M296.5 272v1M296.5 283v2M297.5 283v2M298.5 247v3M298.5 274v1"/>
<path stroke="#ffd700" d="M66.5 313v1M67.5 313v2M68.5 311v3M69.5 309v2M70.5 308v2M71.5 307v2M72.5 307v2M73.5 299v9M74.5 278v4M75.5 265v1M76.5 244v3M79.5 239v1M82.5 272v2M83.5 280v3M84.5 287v2M85.5 294v7M85.5 304v4M85.5 333v1M86.5 309v2M87.5 311v2M88.5 311v3M88.5 352v1M89.5 310v2M89.5 355v1M90.5 309v1M90.5 319v1M90.5 354v1M91.5 309v1M91.5 322v1M92.5 309v1M92.5 318v1M93.5 309v1M93.5 318v1M94.5 309v2M95.5 309v2M95.5 319v1M96.5 309v2M97.5 309v2M98.5 310v2M99.5 310v2M100.5 310v2M101.5 308v2M102.5 306v1M103.5 305v1M104.5 303v1M105.5 302v1M106.5 300v2M106.5 325v1M107.5 298v1M107.5 325v1M108.5 296v1M109.5 283v2M109.5 291v1M109.5 322v1M110.5 279v1M111.5 272v1M112.5 266v2M113.5 257v2M114.5 247v1M115.5 224v5M120.5 206v7M120.5 214v1M121.5 232v1M122.5 243v1M123.5 251v1M124.5 260v1M124.5 299v3M124.5 312v1M125.5 266v1M125.5 268v1M125.5 297v1M125.5 303v8M126.5 272v1M126.5 278v1M126.5 293v2M127.5 281v1M127.5 288v1M129.5 333v1M130.5 306v7M131.5 300v3M132.5 297v2M133.5 252v1M133.5 258v2M133.5 294v1M133.5 332v1M133.5 348v1M134.5 263v1M134.5 290v1M134.5 349v1M135.5 285v2M136.5 270v3M136.5 277v2M136.5 345v1M137.5 245v1M138.5 254v1M139.5 243v2M139.5 345v1M140.5 214v1M147.5 243v1M148.5 250v1M151.5 228v4M151.5 281v1M152.5 280v1M152.5 291v3M153.5 296v1M154.5 222v1M154.5 299v1M155.5 242v1M155.5 302v2M156.5 256v5M156.5 276v1M156.5 324v7M157.5 331v2M158.5 333v1M159.5 334v1M160.5 335v1M161.5 336v1M162.5 337v1M163.5 338v1M164.5 339v1M164.5 370v1M165.5 339v2M166.5 340v1M167.5 340v1M168.5 340v1M168.5 369v1M169.5 340v1M170.5 340v1M171.5 340v1M171.5 344v1M172.5 340v2M172.5 343v1M172.5 346v1M172.5 389v1M173.5 340v3M173.5 355v1M173.5 359v1M173.5 388v1M173.5 390v1M174.5 340v3M175.5 340v3M176.5 340v1M176.5 342v1M177.5 339v1M177.5 357v1M178.5 339v1M178.5 343v1M179.5 338v1M179.5 344v1M180.5 338v1M181.5 337v1M182.5 337v1M183.5 336v1M184.5 335v1M185.5 335v1M186.5 334v1M187.5 334v1M188.5 334v1M189.5 334v1M190.5 333v1M191.5 332v1M192.5 305v26M193.5 300v2M194.5 295v1M195.5 290v1M196.5 284v1M197.5 274v2M198.5 266v1M200.5 246v2M205.5 232v1M206.5 237v1M208.5 271v1M209.5 252v1M209.5 268v1M209.5 275v5M210.5 291v2M211.5 299v2M212.5 305v6M213.5 313v6M214.5 319v1M214.5 330v1M215.5 320v1M216.5 320v1M219.5 314v1M219.5 320v1M220.5 311v2M221.5 308v2M221.5 317v1M222.5 304v4M223.5 301v4M223.5 352v4M224.5 258v1M224.5 260v1M224.5 262v2M224.5 299v3M224.5 356v1M225.5 279v1M225.5 296v3M226.5 211v1M226.5 293v3M226.5 349v1M226.5 358v1M227.5 281v1M227.5 291v4M227.5 359v1M228.5 291v3M228.5 348v1M228.5 360v1M229.5 213v2M229.5 292v3M230.5 231v1M230.5 279v1M230.5 294v3M231.5 267v1M231.5 269v3M231.5 273v1M231.5 296v3M231.5 361v1M232.5 299v3M232.5 347v1M233.5 301v3M233.5 347v1M233.5 380v2M234.5 304v2M234.5 347v1M234.5 379v1M235.5 306v1M235.5 312v1M235.5 382v1M236.5 307v2M237.5 309v1M237.5 311v1M237.5 316v1M237.5 347v1M237.5 361v1M238.5 310v2M238.5 316v1M238.5 347v1M239.5 347v1M239.5 360v1M240.5 315v1M240.5 347v1M241.5 312v3M241.5 347v1M241.5 359v1M242.5 310v2M242.5 358v1M243.5 309v1M243.5 357v1M243.5 382v1M244.5 307v1M244.5 332v1M244.5 356v1M244.5 379v1M245.5 304v2M245.5 355v1M245.5 381v1M246.5 272v2M246.5 286v5M246.5 302v2M247.5 262v1M247.5 294v2M247.5 301v2M248.5 251v2M248.5 296v1M248.5 303v1M248.5 352v1M249.5 225v1M249.5 296v1M249.5 305v2M250.5 296v1M250.5 305v2M251.5 297v1M251.5 303v1M251.5 347v1M251.5 351v1M252.5 298v1M252.5 300v2M252.5 348v1M252.5 350v1M253.5 297v1M253.5 301v2M254.5 296v1M254.5 304v1M255.5 233v4M255.5 291v2M255.5 306v2M255.5 325v1M256.5 285v4M256.5 307v5M256.5 314v1M257.5 280v1M257.5 309v1M257.5 315v1M262.5 315v1M263.5 311v4M264.5 307v2M265.5 297v2M266.5 289v3M267.5 282v1M268.5 274v2M270.5 257v1M271.5 245v1M272.5 224v1M275.5 229v2M276.5 241v2M277.5 249v2M279.5 267v2M280.5 276v1M281.5 280v2M282.5 287v3M283.5 295v1M284.5 300v2M284.5 307v1M285.5 312v1M286.5 313v2M286.5 322v1M287.5 315v3M287.5 321v1M288.5 317v5M289.5 317v1M289.5 322v1M290.5 315v2M291.5 315v1M294.5 275v1M294.5 281v1M295.5 256v1M296.5 282v1M297.5 273v1M297.5 282v1M298.5 275v1"/>
<path stroke="#ffc800" d="M67.5 315v2M68.5 314v2M69.5 311v3M70.5 310v2M71.5 309v1M72.5 309v1M73.5 308v2M74.5 282v8M74.5 306v3M76.5 247v1M77.5 233v1M80.5 251v3M81.5 263v4M82.5 274v2M82.5 354v1M83.5 283v1M83.5 355v1M84.5 289v4M84.5 306v1M84.5 352v1M85.5 301v3M85.5 308v2M86.5 311v3M86.5 330v1M87.5 313v3M87.5 334v1M88.5 314v2M88.5 334v1M89.5 312v2M89.5 320v1M89.5 330v1M90.5 310v2M90.5 353v1M91.5 310v1M91.5 318v1M91.5 332v1M92.5 310v2M93.5 310v2M93.5 371v1M94.5 311v1M94.5 318v1M94.5 372v1M95.5 311v2M95.5 322v1M96.5 311v2M96.5 320v2M97.5 311v2M98.5 312v1M99.5 312v1M100.5 312v1M101.5 310v3M102.5 307v2M104.5 304v1M104.5 322v1M104.5 324v1M105.5 303v1M106.5 321v1M107.5 299v2M107.5 321v1M108.5 297v1M108.5 325v1M109.5 285v6M109.5 292v3M110.5 280v1M111.5 273v2M113.5 259v1M115.5 229v4M121.5 233v4M122.5 244v2M123.5 252v2M124.5 261v1M124.5 298v1M124.5 302v5M124.5 311v1M125.5 296v1M126.5 273v1M126.5 277v1M126.5 292v1M127.5 287v1M127.5 331v1M129.5 315v1M130.5 313v2M130.5 329v1M131.5 303v7M132.5 299v2M132.5 333v1M133.5 256v2M133.5 295v1M133.5 330v1M133.5 346v1M134.5 291v1M134.5 405v3M135.5 264v1M135.5 345v1M135.5 405v3M136.5 268v1M136.5 279v1M136.5 405v3M138.5 255v1M140.5 215v3M141.5 349v1M142.5 347v2M144.5 205v1M148.5 251v1M150.5 260v1M151.5 201v1M151.5 232v1M151.5 256v2M151.5 285v2M153.5 279v1M153.5 297v2M154.5 223v2M154.5 278v1M154.5 300v2M155.5 243v2M155.5 277v1M155.5 304v3M155.5 308v20M156.5 331v3M157.5 333v1M158.5 334v1M159.5 335v1M160.5 336v1M161.5 337v1M162.5 338v1M163.5 339v1M163.5 371v1M164.5 340v1M164.5 372v1M165.5 341v1M166.5 341v1M167.5 341v1M167.5 369v1M168.5 341v2M169.5 341v2M169.5 356v1M169.5 358v1M169.5 369v1M170.5 341v3M170.5 369v1M171.5 341v3M171.5 345v1M172.5 342v1M172.5 355v1M172.5 359v1M173.5 370v1M173.5 372v1M174.5 347v1M174.5 355v1M174.5 359v1M175.5 347v1M176.5 341v1M176.5 347v1M177.5 340v3M178.5 340v1M178.5 342v1M178.5 387v1M178.5 391v1M179.5 339v1M179.5 343v1M179.5 387v1M179.5 391v1M180.5 339v1M181.5 338v1M182.5 338v1M183.5 337v1M184.5 336v2M185.5 336v1M185.5 388v1M185.5 390v1M186.5 335v2M186.5 389v1M187.5 335v1M188.5 335v2M189.5 335v1M190.5 334v2M191.5 333v2M192.5 331v2M193.5 302v2M194.5 296v2M195.5 291v1M196.5 285v1M197.5 276v1M198.5 267v1M199.5 258v2M200.5 221v1M200.5 232v6M200.5 245v1M200.5 248v4M203.5 220v1M204.5 225v2M206.5 238v3M209.5 253v1M209.5 280v4M210.5 293v1M211.5 301v4M212.5 311v8M213.5 319v2M213.5 331v2M214.5 320v2M214.5 333v1M215.5 321v1M216.5 321v1M217.5 321v1M218.5 321v1M219.5 330v1M219.5 333v1M220.5 313v3M220.5 320v1M220.5 331v1M221.5 310v2M221.5 316v1M221.5 319v1M222.5 308v3M222.5 352v3M223.5 305v4M223.5 351v1M223.5 356v1M224.5 253v1M224.5 257v1M224.5 259v1M224.5 302v4M224.5 350v1M224.5 357v1M225.5 239v4M225.5 277v2M225.5 299v4M225.5 349v1M225.5 358v1M226.5 280v1M226.5 296v5M226.5 359v1M227.5 295v4M227.5 348v1M228.5 281v1M228.5 294v5M229.5 280v1M229.5 295v5M230.5 232v3M230.5 278v1M230.5 297v5M230.5 347v1M230.5 361v1M231.5 250v4M231.5 260v5M231.5 268v1M231.5 299v4M231.5 347v1M232.5 302v3M232.5 380v1M233.5 304v3M234.5 306v2M234.5 312v3M234.5 382v1M235.5 307v2M235.5 311v1M236.5 309v3M236.5 316v1M237.5 310v1M238.5 361v1M239.5 316v1M239.5 378v1M240.5 329v1M240.5 332v1M240.5 360v1M241.5 315v1M242.5 312v2M242.5 359v1M243.5 310v2M243.5 358v1M244.5 308v2M244.5 357v1M244.5 382v1M245.5 306v2M245.5 346v1M245.5 356v1M246.5 274v4M246.5 281v5M246.5 304v2M246.5 346v1M246.5 354v1M246.5 380v2M247.5 263v1M247.5 292v2M247.5 303v2M247.5 346v1M247.5 353v1M248.5 253v3M248.5 295v1M248.5 304v2M248.5 346v1M249.5 226v6M249.5 307v1M249.5 346v1M249.5 352v1M250.5 307v1M251.5 304v2M252.5 297v1M252.5 302v2M252.5 347v1M253.5 303v1M253.5 348v2M254.5 295v1M254.5 305v2M254.5 326v2M255.5 237v4M255.5 290v1M255.5 308v6M255.5 328v1M256.5 271v3M256.5 282v3M256.5 315v1M257.5 324v1M258.5 316v1M259.5 316v1M260.5 316v1M260.5 325v1M261.5 316v1M262.5 316v1M263.5 315v2M264.5 309v4M265.5 299v4M265.5 305v1M266.5 292v2M267.5 283v3M268.5 278v1M269.5 266v3M272.5 225v3M275.5 231v1M278.5 259v2M279.5 269v1M280.5 277v2M281.5 282v2M282.5 290v1M283.5 296v2M284.5 302v5M284.5 311v1M285.5 313v1M285.5 322v1M285.5 326v1M286.5 315v4M286.5 320v2M286.5 327v1M287.5 318v3M287.5 327v1M288.5 327v1M289.5 318v4M290.5 317v1M290.5 322v1M291.5 316v2M294.5 276v5M295.5 239v1M295.5 281v1M296.5 273v1M296.5 281v1M297.5 240v2M297.5 253v1M297.5 255v2M297.5 281v1M298.5 276v4"/>
<path stroke="#ffb900" d="M67.5 317v2M68.5 316v2M69.5 314v2M70.5 312v2M71.5 310v3M72.5 310v2M73.5 310v2M74.5 290v16M74.5 309v1M75.5 266v5M75.5 308v1M79.5 240v1M80.5 254v1M82.5 276v1M82.5 353v1M83.5 284v3M84.5 293v9M84.5 303v3M84.5 307v2M84.5 332v1M85.5 310v3M86.5 314v3M86.5 334v1M87.5 316v3M88.5 316v6M89.5 314v6M89.5 321v1M89.5 334v1M89.5 352v1M90.5 312v3M90.5 317v2M90.5 322v1M90.5 330v1M91.5 311v3M91.5 317v1M91.5 331v1M92.5 312v2M92.5 317v1M92.5 323v1M93.5 312v2M93.5 317v1M93.5 323v1M94.5 312v3M94.5 317v1M94.5 323v1M94.5 371v1M95.5 313v2M95.5 318v1M96.5 313v2M96.5 318v2M97.5 313v2M98.5 313v2M99.5 313v2M100.5 313v2M101.5 313v2M102.5 309v3M103.5 306v2M104.5 305v1M105.5 325v1M106.5 302v1M107.5 301v1M108.5 298v2M108.5 321v1M109.5 295v1M110.5 322v3M111.5 275v2M112.5 268v2M113.5 260v2M114.5 248v3M115.5 233v1M123.5 299v4M124.5 297v1M124.5 307v4M125.5 269v1M125.5 295v1M126.5 291v1M126.5 316v1M127.5 282v2M127.5 316v1M127.5 330v1M127.5 332v1M128.5 333v1M129.5 329v1M131.5 310v3M131.5 329v1M132.5 301v6M132.5 347v1M133.5 244v1M133.5 296v2M133.5 349v1M133.5 405v3M134.5 262v1M134.5 292v1M134.5 345v1M134.5 404v1M135.5 287v1M135.5 404v1M135.5 408v1M136.5 267v1M136.5 269v1M136.5 280v1M136.5 350v1M136.5 404v1M137.5 246v2M137.5 350v1M137.5 405v3M138.5 350v1M139.5 350v1M140.5 218v5M140.5 345v1M142.5 346v1M145.5 224v1M146.5 236v2M147.5 244v1M149.5 261v1M152.5 294v3M153.5 299v1M154.5 225v5M154.5 302v2M155.5 245v1M155.5 307v1M155.5 328v6M156.5 261v3M156.5 270v2M156.5 274v2M156.5 334v1M157.5 334v2M158.5 335v1M159.5 336v1M160.5 337v1M161.5 338v1M162.5 339v1M163.5 340v1M163.5 370v1M164.5 341v1M165.5 342v1M166.5 342v2M166.5 369v1M167.5 342v2M167.5 373v1M168.5 343v1M168.5 357v1M168.5 373v1M169.5 343v2M169.5 373v1M170.5 344v2M170.5 373v1M171.5 346v1M171.5 355v1M171.5 359v1M171.5 369v1M172.5 388v1M172.5 390v1M173.5 347v1M174.5 371v1M175.5 355v1M175.5 359v1M176.5 387v1M176.5 391v1M177.5 347v1M177.5 356v1M177.5 358v1M177.5 387v1M177.5 391v1M178.5 341v1M179.5 340v3M179.5 346v1M180.5 340v1M180.5 343v3M180.5 387v1M180.5 391v1M181.5 339v1M181.5 387v1M181.5 391v1M182.5 339v1M183.5 338v1M184.5 338v1M185.5 337v1M186.5 337v1M186.5 388v1M186.5 390v1M187.5 336v2M188.5 337v1M189.5 336v2M190.5 336v1M191.5 335v1M192.5 333v1M193.5 304v2M193.5 310v22M194.5 298v2M195.5 292v2M196.5 286v1M197.5 277v2M198.5 268v1M199.5 260v1M200.5 238v6M204.5 227v1M205.5 233v1M207.5 245v1M208.5 247v1M208.5 270v1M209.5 261v7M209.5 284v3M210.5 294v2M211.5 305v9M211.5 315v1M212.5 319v3M213.5 321v2M213.5 330v1M214.5 322v2M215.5 322v2M215.5 329v1M216.5 322v2M216.5 329v1M216.5 334v1M217.5 322v1M217.5 329v1M217.5 334v1M218.5 329v1M219.5 321v1M220.5 332v1M221.5 312v4M221.5 320v1M222.5 311v3M222.5 315v5M222.5 351v1M222.5 355v1M223.5 309v3M223.5 350v1M223.5 357v1M224.5 254v3M224.5 306v6M224.5 349v1M224.5 358v1M225.5 272v1M225.5 274v3M225.5 303v7M225.5 359v1M226.5 301v7M226.5 348v1M227.5 299v7M227.5 360v1M228.5 299v6M228.5 361v1M229.5 215v1M229.5 300v7M229.5 347v1M229.5 361v1M230.5 235v1M230.5 277v1M230.5 302v6M231.5 254v6M231.5 265v2M231.5 303v6M232.5 305v5M232.5 362v1M232.5 381v1M233.5 307v8M233.5 346v1M233.5 362v1M233.5 379v1M233.5 382v1M234.5 308v4M234.5 315v1M234.5 346v1M234.5 362v1M235.5 309v2M235.5 316v1M235.5 346v1M235.5 362v1M236.5 346v1M236.5 362v1M236.5 378v1M237.5 346v1M237.5 378v1M237.5 383v1M238.5 346v1M238.5 378v1M238.5 383v1M239.5 330v2M239.5 346v1M239.5 361v1M239.5 383v1M240.5 316v1M240.5 361v1M240.5 378v1M240.5 383v1M241.5 316v1M241.5 346v1M241.5 360v1M241.5 378v1M241.5 383v1M242.5 314v2M242.5 346v1M242.5 378v1M243.5 312v2M243.5 346v1M243.5 359v1M244.5 310v2M244.5 346v1M245.5 308v2M245.5 329v1M245.5 332v1M245.5 379v1M245.5 382v1M246.5 278v3M246.5 306v2M246.5 355v1M247.5 264v2M247.5 290v2M247.5 305v2M247.5 354v1M248.5 256v3M248.5 294v1M248.5 306v2M248.5 353v1M249.5 232v1M249.5 295v1M249.5 308v2M250.5 308v2M250.5 346v1M250.5 352v1M251.5 296v1M251.5 306v2M252.5 304v2M252.5 351v1M253.5 296v1M253.5 304v3M253.5 350v1M254.5 294v1M254.5 307v7M254.5 325v1M254.5 328v1M255.5 241v1M255.5 288v2M255.5 314v2M256.5 274v4M256.5 281v1M256.5 324v1M256.5 329v1M257.5 316v1M257.5 329v1M258.5 317v1M258.5 324v1M258.5 329v1M259.5 317v1M259.5 324v1M260.5 317v1M260.5 328v1M261.5 317v1M261.5 326v2M262.5 317v1M263.5 317v1M264.5 313v4M265.5 303v2M265.5 306v2M266.5 294v3M267.5 286v3M270.5 258v2M272.5 228v1M277.5 251v1M278.5 261v1M279.5 270v2M280.5 279v1M281.5 284v2M282.5 291v2M283.5 298v2M284.5 312v1M284.5 323v3M285.5 314v2M285.5 321v1M285.5 327v1M286.5 319v1M286.5 328v1M287.5 328v1M290.5 318v4M291.5 318v1M295.5 274v1M297.5 274v1M297.5 280v1"/>
<path stroke="#ffab00" d="M68.5 318v2M69.5 316v3M70.5 314v3M71.5 313v3M72.5 312v3M73.5 312v2M74.5 310v2M75.5 271v3M75.5 305v3M75.5 309v2M76.5 248v4M76.5 308v1M79.5 241v4M79.5 246v1M80.5 255v3M81.5 267v3M82.5 277v3M83.5 287v2M83.5 305v4M83.5 352v1M84.5 302v1M84.5 309v3M84.5 331v1M84.5 333v1M85.5 313v4M85.5 330v1M85.5 356v1M86.5 317v4M86.5 356v1M87.5 319v3M87.5 329v1M87.5 356v1M88.5 322v1M88.5 329v1M89.5 322v1M90.5 315v2M90.5 323v1M90.5 334v1M90.5 355v1M91.5 314v3M91.5 323v1M91.5 333v1M92.5 314v3M93.5 314v3M93.5 370v1M94.5 315v2M95.5 315v3M95.5 323v1M95.5 372v2M96.5 315v3M96.5 322v1M97.5 315v7M98.5 315v2M99.5 315v2M100.5 315v1M101.5 315v1M102.5 312v4M103.5 308v2M103.5 323v1M105.5 304v1M105.5 321v1M106.5 303v1M108.5 300v1M109.5 296v2M109.5 321v1M109.5 325v1M110.5 281v2M111.5 277v1M112.5 270v1M113.5 262v2M114.5 251v2M123.5 254v2M123.5 298v1M123.5 303v4M123.5 312v2M124.5 262v1M124.5 296v1M124.5 315v1M125.5 294v1M126.5 274v3M126.5 290v1M127.5 286v1M128.5 316v1M128.5 329v1M130.5 315v1M131.5 313v1M132.5 307v3M132.5 329v1M132.5 346v1M132.5 348v1M132.5 405v3M133.5 201v4M133.5 243v1M133.5 298v3M133.5 333v1M133.5 404v1M133.5 408v1M134.5 293v1M134.5 331v2M134.5 408v1M135.5 288v1M135.5 350v1M136.5 266v1M136.5 281v1M136.5 408v1M137.5 248v5M137.5 404v1M137.5 408v1M138.5 256v1M138.5 405v3M139.5 245v3M140.5 350v1M141.5 345v1M142.5 349v1M143.5 347v2M146.5 238v1M147.5 245v1M148.5 259v1M151.5 287v2M153.5 201v1M153.5 300v2M154.5 230v4M154.5 304v1M154.5 311v1M154.5 313v21M155.5 246v3M155.5 334v1M156.5 264v6M156.5 272v2M156.5 335v1M157.5 336v1M158.5 336v2M159.5 337v1M160.5 338v1M161.5 339v1M162.5 340v1M163.5 341v2M163.5 372v1M164.5 342v2M165.5 343v2M165.5 369v1M166.5 344v1M166.5 373v1M167.5 344v2M168.5 344v2M168.5 356v1M169.5 345v1M170.5 346v1M170.5 355v1M170.5 359v1M171.5 347v1M171.5 373v1M171.5 389v1M172.5 347v1M172.5 369v1M174.5 370v1M174.5 372v1M175.5 387v1M175.5 391v1M176.5 355v1M176.5 359v1M178.5 347v1M178.5 357v1M180.5 341v2M180.5 346v1M181.5 340v5M182.5 340v1M182.5 387v1M182.5 391v1M183.5 339v2M183.5 387v1M183.5 391v1M184.5 339v1M185.5 338v2M186.5 338v1M187.5 338v1M187.5 389v1M188.5 338v1M189.5 338v1M190.5 337v2M191.5 336v2M192.5 334v2M193.5 306v4M193.5 332v2M194.5 300v2M194.5 324v7M195.5 294v1M196.5 287v2M197.5 279v1M198.5 269v2M200.5 222v1M200.5 244v1M201.5 201v1M206.5 241v3M209.5 254v7M209.5 287v1M210.5 296v4M211.5 314v1M211.5 316v8M212.5 322v2M212.5 331v1M213.5 323v2M213.5 329v1M213.5 333v1M214.5 324v2M214.5 329v1M215.5 324v2M215.5 328v1M215.5 334v1M216.5 324v1M216.5 328v1M217.5 323v2M218.5 322v2M218.5 334v1M219.5 322v1M219.5 329v1M220.5 321v1M220.5 330v1M220.5 333v1M221.5 351v5M222.5 314v1M222.5 320v1M222.5 350v1M222.5 356v1M223.5 312v8M223.5 349v1M223.5 358v1M224.5 312v7M224.5 359v1M225.5 269v3M225.5 273v1M225.5 310v8M225.5 348v1M226.5 308v10M226.5 360v1M227.5 280v1M227.5 306v12M227.5 347v1M227.5 361v1M228.5 280v1M228.5 305v12M228.5 347v1M229.5 307v10M230.5 276v1M230.5 308v8M230.5 362v1M230.5 380v1M231.5 309v7M231.5 346v1M231.5 362v1M231.5 379v3M232.5 310v6M232.5 346v1M232.5 379v1M232.5 382v1M233.5 315v2M234.5 316v1M234.5 378v1M235.5 378v1M235.5 383v1M236.5 317v1M236.5 383v1M237.5 317v1M237.5 362v1M238.5 317v1M238.5 362v1M239.5 317v1M239.5 329v1M240.5 317v1M240.5 346v1M241.5 328v1M241.5 361v1M242.5 316v1M242.5 328v1M242.5 333v1M242.5 360v1M242.5 383v1M243.5 314v2M243.5 328v1M243.5 378v1M243.5 383v1M244.5 312v3M244.5 358v1M244.5 378v1M245.5 310v3M245.5 357v1M246.5 308v3M246.5 330v2M246.5 356v1M246.5 379v1M246.5 382v1M247.5 287v3M247.5 307v3M247.5 355v1M247.5 380v2M248.5 292v2M248.5 308v2M249.5 310v2M249.5 353v1M250.5 295v1M250.5 310v2M251.5 308v2M251.5 346v1M251.5 352v1M252.5 296v1M252.5 306v3M252.5 346v1M253.5 295v1M253.5 307v7M253.5 325v4M253.5 347v1M253.5 351v1M254.5 292v2M254.5 314v2M254.5 324v1M254.5 348v2M255.5 286v2M255.5 316v1M255.5 324v1M255.5 329v1M256.5 278v3M256.5 316v2M257.5 317v1M257.5 323v1M258.5 318v1M258.5 323v1M259.5 318v1M259.5 329v1M260.5 318v2M260.5 324v1M261.5 318v2M261.5 325v1M262.5 318v2M263.5 318v2M264.5 317v3M265.5 308v5M266.5 297v2M267.5 289v1M268.5 279v2M269.5 269v1M270.5 260v1M271.5 246v4M274.5 223v1M275.5 232v1M276.5 243v1M277.5 252v2M279.5 272v1M280.5 280v2M281.5 286v2M282.5 293v2M283.5 300v1M283.5 307v4M284.5 313v1M284.5 322v1M284.5 326v1M285.5 316v5M285.5 328v1M286.5 329v1M287.5 329v1M288.5 328v1M295.5 275v1M295.5 280v1M296.5 274v1M297.5 275v1"/>
<path stroke="#ff9c00" d="M68.5 320v3M69.5 319v5M70.5 317v5M71.5 316v3M72.5 315v3M73.5 314v3M74.5 312v3M75.5 274v5M75.5 303v2M75.5 311v3M76.5 307v1M76.5 309v3M77.5 308v3M78.5 309v1M79.5 245v1M79.5 309v1M80.5 258v1M80.5 308v2M81.5 270v2M81.5 308v2M81.5 353v1M82.5 280v1M82.5 306v5M82.5 352v1M82.5 355v1M83.5 289v4M83.5 295v2M83.5 303v2M83.5 309v4M83.5 331v2M84.5 312v5M84.5 330v1M84.5 356v1M85.5 317v4M85.5 334v1M86.5 321v3M86.5 329v1M87.5 322v2M88.5 323v1M88.5 356v1M89.5 323v1M89.5 329v1M90.5 324v1M90.5 329v1M90.5 352v1M91.5 324v1M91.5 330v1M91.5 353v2M92.5 324v1M92.5 330v4M93.5 324v1M94.5 324v1M94.5 370v1M95.5 324v1M95.5 371v1M96.5 323v1M96.5 373v1M97.5 322v1M98.5 317v5M99.5 317v2M100.5 316v2M101.5 316v1M102.5 316v1M103.5 310v6M103.5 322v1M103.5 324v1M104.5 306v1M104.5 321v1M104.5 325v1M105.5 305v1M107.5 302v1M108.5 301v1M108.5 326v1M109.5 298v1M109.5 320v1M110.5 283v1M110.5 290v5M110.5 321v1M110.5 325v1M111.5 278v1M111.5 323v1M112.5 271v1M113.5 264v1M122.5 246v2M122.5 299v2M123.5 256v1M123.5 297v1M123.5 307v5M123.5 314v1M124.5 263v1M124.5 295v1M125.5 270v1M125.5 293v1M126.5 279v1M126.5 289v1M126.5 331v1M127.5 284v2M127.5 333v1M129.5 316v1M129.5 334v1M130.5 334v1M131.5 314v1M131.5 334v1M131.5 347v1M131.5 405v2M132.5 310v2M132.5 404v1M133.5 205v7M133.5 301v4M133.5 329v1M133.5 345v1M133.5 403v1M134.5 261v1M134.5 294v1M134.5 330v1M134.5 350v1M134.5 403v1M135.5 263v1M135.5 289v1M135.5 403v1M135.5 409v1M136.5 282v1M136.5 344v1M136.5 403v1M136.5 409v1M137.5 344v1M137.5 403v1M138.5 344v1M138.5 404v1M138.5 408v1M139.5 248v2M139.5 344v1M139.5 405v3M141.5 350v1M142.5 345v1M143.5 346v1M144.5 206v2M148.5 252v2M148.5 260v1M150.5 282v1M151.5 202v7M151.5 258v1M151.5 289v1M152.5 297v2M153.5 278v1M153.5 302v1M153.5 333v2M154.5 305v6M154.5 312v1M154.5 334v2M155.5 276v1M155.5 335v2M156.5 336v2M157.5 337v1M158.5 338v1M159.5 338v2M160.5 339v1M161.5 340v2M162.5 341v2M162.5 370v2M163.5 343v1M164.5 344v1M164.5 369v1M165.5 345v1M165.5 373v1M166.5 345v2M167.5 346v1M167.5 357v1M168.5 346v1M168.5 358v1M169.5 346v1M169.5 355v1M170.5 347v1M170.5 389v1M171.5 388v1M171.5 390v1M172.5 373v1M173.5 348v1M173.5 354v1M173.5 369v1M174.5 348v1M174.5 354v1M174.5 387v1M174.5 391v1M175.5 348v1M175.5 370v2M176.5 348v1M177.5 355v1M177.5 359v1M178.5 356v1M178.5 358v1M179.5 347v1M181.5 345v1M182.5 341v4M183.5 341v2M184.5 340v2M184.5 387v1M184.5 391v1M185.5 340v1M185.5 387v1M185.5 391v1M186.5 339v2M187.5 339v2M187.5 388v1M187.5 390v1M188.5 339v2M188.5 388v3M189.5 339v2M190.5 339v1M191.5 338v1M192.5 336v2M193.5 334v2M194.5 302v1M194.5 316v8M194.5 331v2M195.5 295v2M196.5 289v1M197.5 280v1M198.5 271v1M199.5 261v3M200.5 252v2M201.5 202v6M204.5 228v1M205.5 234v1M208.5 248v1M208.5 272v1M209.5 288v3M210.5 300v5M210.5 308v18M211.5 324v2M212.5 324v3M212.5 329v2M212.5 332v1M213.5 325v4M214.5 326v3M214.5 334v1M215.5 326v2M216.5 325v3M217.5 325v4M218.5 324v2M218.5 328v1M219.5 323v1M219.5 328v1M219.5 334v1M220.5 322v1M220.5 329v1M220.5 351v4M221.5 321v1M221.5 330v4M221.5 350v1M221.5 356v1M222.5 321v1M222.5 349v1M222.5 357v1M223.5 320v2M223.5 348v1M224.5 319v3M224.5 348v1M225.5 267v2M225.5 318v5M225.5 347v1M225.5 360v1M226.5 212v3M226.5 279v1M226.5 318v5M226.5 347v1M226.5 361v1M227.5 318v5M228.5 317v6M229.5 279v1M229.5 317v4M229.5 346v1M229.5 362v1M229.5 380v2M230.5 274v2M230.5 316v4M230.5 346v1M230.5 379v1M230.5 381v2M231.5 316v3M231.5 382v1M232.5 316v2M232.5 363v1M232.5 378v1M232.5 383v1M233.5 317v1M233.5 363v1M233.5 378v1M233.5 383v1M234.5 317v1M234.5 345v1M234.5 363v1M234.5 383v1M235.5 317v1M235.5 345v1M235.5 363v1M235.5 377v1M236.5 345v1M236.5 363v1M236.5 377v1M237.5 345v1M237.5 363v1M237.5 377v1M237.5 384v1M238.5 330v2M238.5 377v1M238.5 384v1M239.5 332v1M239.5 362v1M239.5 377v1M239.5 384v1M240.5 318v1M240.5 328v1M240.5 362v1M240.5 377v1M240.5 384v1M241.5 317v1M241.5 333v1M241.5 377v1M241.5 384v1M242.5 317v1M242.5 361v1M242.5 377v1M243.5 316v1M243.5 333v1M243.5 360v1M244.5 315v2M244.5 328v1M244.5 333v1M244.5 359v1M244.5 383v1M245.5 313v2M245.5 328v1M245.5 358v1M245.5 378v1M245.5 383v1M246.5 311v3M246.5 329v1M246.5 332v1M246.5 357v1M246.5 378v1M246.5 383v1M247.5 266v1M247.5 284v3M247.5 310v3M247.5 330v2M247.5 356v1M247.5 379v1M247.5 382v1M248.5 291v1M248.5 310v4M248.5 345v1M248.5 354v1M248.5 379v4M249.5 233v1M249.5 294v1M249.5 312v4M249.5 380v2M250.5 312v5M250.5 353v1M251.5 310v6M252.5 309v7M252.5 324v5M252.5 352v1M253.5 314v3M253.5 324v1M253.5 329v1M253.5 346v1M254.5 291v1M254.5 316v2M254.5 323v1M254.5 329v1M254.5 347v1M254.5 350v1M255.5 242v6M255.5 284v2M255.5 317v2M255.5 322v2M256.5 318v2M256.5 322v2M256.5 330v1M257.5 318v5M257.5 330v1M258.5 319v4M259.5 319v5M260.5 320v4M260.5 329v1M261.5 320v2M261.5 323v2M261.5 328v1M262.5 320v1M262.5 325v3M263.5 320v1M264.5 320v2M265.5 313v5M265.5 319v1M266.5 299v4M267.5 290v4M268.5 281v1M269.5 270v2M275.5 233v2M276.5 244v2M278.5 262v2M279.5 273v2M281.5 288v2M282.5 295v2M283.5 301v2M283.5 306v1M283.5 311v1M284.5 314v2M284.5 321v1M284.5 327v1M285.5 329v3M286.5 330v1M287.5 330v1M288.5 329v2M295.5 255v1M295.5 279v1M297.5 242v2M297.5 276v4"/>
<path stroke="#ff8900" d="M69.5 324v3M70.5 322v7M71.5 319v10M72.5 318v9M73.5 317v6M74.5 315v5M75.5 279v4M75.5 285v5M75.5 294v1M75.5 297v6M75.5 314v4M76.5 306v1M76.5 312v5M77.5 307v1M77.5 311v4M78.5 308v1M78.5 310v4M79.5 247v1M79.5 308v1M79.5 310v4M80.5 259v4M80.5 310v4M81.5 307v1M81.5 310v6M82.5 281v3M82.5 305v1M82.5 311v7M83.5 293v2M83.5 297v6M83.5 313v7M83.5 330v1M83.5 333v1M83.5 356v1M84.5 317v6M84.5 329v1M84.5 334v1M84.5 351v1M85.5 321v4M85.5 329v1M85.5 351v1M86.5 324v2M86.5 328v1M86.5 351v1M87.5 324v5M87.5 335v1M87.5 351v1M88.5 324v5M88.5 335v1M88.5 351v1M89.5 324v2M89.5 328v1M89.5 335v1M89.5 356v1M90.5 325v1M90.5 328v1M91.5 325v1M91.5 329v1M91.5 334v1M91.5 355v1M92.5 325v1M92.5 329v1M92.5 369v1M93.5 325v1M93.5 330v4M93.5 369v1M94.5 325v1M95.5 325v1M95.5 370v1M96.5 324v2M96.5 371v2M96.5 374v1M97.5 323v2M98.5 322v2M99.5 319v5M100.5 318v4M101.5 317v2M101.5 322v1M102.5 317v1M102.5 322v3M103.5 316v2M103.5 321v1M103.5 325v1M104.5 307v2M104.5 314v3M105.5 320v1M106.5 304v1M106.5 320v1M106.5 326v1M107.5 303v1M107.5 320v1M107.5 326v1M108.5 320v1M109.5 299v1M109.5 326v1M110.5 284v1M110.5 287v3M110.5 295v1M111.5 322v1M111.5 324v1M112.5 272v1M113.5 265v1M114.5 253v2M115.5 234v1M116.5 207v1M122.5 248v1M122.5 298v1M122.5 301v3M123.5 257v1M123.5 296v1M124.5 264v1M125.5 292v1M125.5 316v1M126.5 330v1M126.5 332v1M127.5 329v1M128.5 334v1M129.5 328v1M130.5 316v1M130.5 328v1M130.5 405v2M131.5 328v1M131.5 346v1M131.5 348v1M131.5 404v1M132.5 312v1M132.5 334v1M132.5 345v1M132.5 349v1M132.5 403v1M133.5 212v8M133.5 245v1M133.5 305v3M134.5 253v1M134.5 260v1M134.5 295v2M134.5 329v1M134.5 333v1M134.5 402v1M135.5 290v1M135.5 330v3M135.5 344v1M135.5 402v1M136.5 265v1M136.5 283v2M136.5 402v1M137.5 351v1M137.5 409v1M138.5 257v1M138.5 351v1M138.5 403v1M138.5 409v1M139.5 404v1M139.5 408v1M140.5 223v1M140.5 344v1M140.5 405v3M142.5 350v1M143.5 349v1M144.5 208v3M144.5 347v2M147.5 246v1M148.5 257v2M150.5 281v1M150.5 283v1M151.5 209v17M151.5 280v1M151.5 290v3M152.5 279v1M152.5 299v1M152.5 333v3M153.5 202v1M153.5 303v1M153.5 316v17M153.5 335v2M154.5 277v1M154.5 336v2M155.5 249v3M155.5 337v1M156.5 338v1M157.5 338v2M158.5 339v1M159.5 340v1M160.5 340v2M161.5 342v1M161.5 371v1M162.5 343v1M162.5 372v1M163.5 344v2M163.5 369v1M164.5 345v2M164.5 373v1M165.5 346v2M166.5 347v1M167.5 347v1M167.5 356v1M167.5 358v1M168.5 347v1M168.5 355v1M169.5 347v1M169.5 359v1M169.5 389v1M170.5 348v1M170.5 388v1M170.5 390v1M171.5 348v1M171.5 354v1M172.5 348v1M172.5 354v1M172.5 360v1M173.5 360v1M173.5 373v1M173.5 387v1M173.5 391v1M174.5 360v1M174.5 369v1M174.5 373v1M175.5 354v1M175.5 360v1M175.5 369v1M175.5 372v1M176.5 354v1M176.5 370v2M177.5 348v1M178.5 348v1M178.5 359v1M179.5 357v2M180.5 347v1M181.5 346v1M182.5 345v2M183.5 343v3M184.5 342v3M185.5 341v3M186.5 341v2M186.5 387v1M186.5 391v1M187.5 341v2M187.5 387v1M187.5 391v1M188.5 341v2M189.5 341v2M189.5 388v3M190.5 340v2M190.5 389v1M191.5 339v2M192.5 338v1M193.5 336v2M194.5 303v2M194.5 309v7M194.5 333v2M195.5 297v2M195.5 323v10M196.5 290v2M197.5 281v1M198.5 272v1M200.5 231v1M200.5 254v1M201.5 208v2M205.5 235v1M206.5 244v1M207.5 246v1M209.5 291v1M209.5 322v6M210.5 305v3M210.5 326v3M211.5 326v7M212.5 327v2M212.5 333v1M213.5 334v1M215.5 335v1M216.5 335v1M217.5 335v1M218.5 326v2M218.5 335v1M219.5 324v4M219.5 351v4M220.5 323v3M220.5 327v2M220.5 334v1M220.5 350v1M220.5 355v2M221.5 322v3M221.5 328v2M221.5 334v1M221.5 349v1M221.5 357v1M222.5 322v3M222.5 329v5M222.5 348v1M222.5 358v1M223.5 322v4M223.5 347v1M223.5 359v1M224.5 322v5M224.5 347v1M224.5 360v1M225.5 243v1M225.5 266v1M225.5 323v5M225.5 361v1M226.5 215v10M226.5 278v1M226.5 323v5M226.5 346v1M227.5 323v5M227.5 346v1M227.5 362v1M227.5 380v2M228.5 323v5M228.5 346v1M228.5 362v1M228.5 379v4M229.5 321v6M229.5 378v2M229.5 382v1M230.5 272v2M230.5 320v6M230.5 345v1M230.5 363v1M230.5 378v1M230.5 383v1M231.5 319v5M231.5 345v1M231.5 363v1M231.5 378v1M231.5 383v1M232.5 318v3M232.5 345v1M232.5 377v1M232.5 384v1M233.5 318v2M233.5 345v1M233.5 377v1M233.5 384v1M234.5 318v1M234.5 377v1M234.5 384v1M235.5 318v1M235.5 376v1M235.5 384v1M236.5 318v1M236.5 376v1M236.5 384v1M237.5 318v1M237.5 376v1M237.5 385v1M238.5 318v1M238.5 329v1M238.5 332v1M238.5 345v1M238.5 363v1M238.5 376v1M238.5 385v1M239.5 318v1M239.5 328v1M239.5 333v1M239.5 345v1M239.5 363v1M239.5 376v1M239.5 385v1M240.5 319v1M240.5 333v1M240.5 345v1M240.5 363v1M240.5 376v1M241.5 318v2M241.5 327v1M241.5 345v1M241.5 362v1M241.5 376v1M242.5 318v2M242.5 327v1M242.5 345v1M242.5 362v1M242.5 376v1M242.5 384v1M243.5 317v2M243.5 327v1M243.5 345v1M243.5 361v1M243.5 377v1M243.5 384v1M244.5 317v2M244.5 345v1M244.5 360v1M244.5 377v1M244.5 384v1M245.5 315v3M245.5 333v1M245.5 345v1M245.5 359v1M245.5 377v1M245.5 384v1M246.5 314v3M246.5 328v1M246.5 345v1M246.5 358v1M247.5 267v6M247.5 282v2M247.5 313v5M247.5 328v2M247.5 332v1M247.5 345v1M247.5 357v1M247.5 378v1M247.5 383v1M248.5 259v2M248.5 290v1M248.5 314v6M248.5 329v3M248.5 355v1M248.5 378v1M248.5 383v1M249.5 293v1M249.5 316v16M249.5 345v1M249.5 354v1M249.5 379v1M249.5 382v1M250.5 317v14M250.5 345v1M250.5 379v4M251.5 295v1M251.5 316v15M251.5 345v1M251.5 353v1M251.5 381v1M252.5 295v1M252.5 316v8M252.5 329v2M252.5 345v1M253.5 294v1M253.5 317v7M253.5 330v2M253.5 352v1M254.5 213v2M254.5 290v1M254.5 318v5M254.5 330v2M254.5 346v1M254.5 351v1M255.5 248v3M255.5 260v6M255.5 283v1M255.5 319v3M255.5 330v2M255.5 347v4M256.5 320v2M258.5 330v1M259.5 330v1M261.5 322v1M261.5 329v1M262.5 321v4M262.5 328v1M263.5 321v7M264.5 322v4M265.5 318v1M265.5 320v5M266.5 303v8M267.5 294v1M268.5 282v1M270.5 261v2M277.5 254v1M278.5 264v1M279.5 275v1M280.5 282v3M281.5 290v1M282.5 297v2M283.5 303v3M283.5 312v1M283.5 323v4M284.5 316v5M284.5 328v5M285.5 332v1M286.5 331v2M287.5 331v2M295.5 276v3"/>
<path stroke="#ff7a00" d="M70.5 329v2M71.5 329v4M72.5 327v5M73.5 323v7M74.5 320v7M75.5 283v2M75.5 290v4M75.5 295v2M75.5 318v7M76.5 304v2M76.5 317v7M77.5 315v9M78.5 307v1M78.5 314v11M79.5 307v1M79.5 314v12M80.5 307v1M80.5 314v13M81.5 272v4M81.5 306v1M81.5 316v11M81.5 330v2M81.5 352v1M82.5 284v3M82.5 303v2M82.5 318v16M82.5 351v1M83.5 320v10M83.5 334v1M83.5 351v1M84.5 323v6M85.5 325v4M85.5 335v1M86.5 326v2M86.5 335v1M89.5 326v2M89.5 351v1M90.5 326v2M90.5 335v1M90.5 356v1M91.5 326v3M91.5 335v1M91.5 352v1M92.5 326v3M92.5 334v1M92.5 353v2M93.5 326v4M93.5 334v1M94.5 326v8M94.5 369v1M95.5 326v6M95.5 369v1M96.5 326v4M96.5 370v1M96.5 375v1M97.5 325v4M97.5 371v4M98.5 324v4M99.5 324v3M100.5 322v4M101.5 319v3M101.5 323v3M102.5 318v4M102.5 325v1M103.5 318v3M104.5 309v5M104.5 317v4M104.5 326v1M105.5 306v1M105.5 315v3M105.5 319v1M105.5 326v1M106.5 305v1M106.5 317v1M106.5 319v1M107.5 318v2M108.5 302v1M108.5 319v1M108.5 327v1M109.5 300v1M109.5 319v1M109.5 327v1M110.5 285v2M110.5 296v1M110.5 320v1M110.5 326v1M111.5 279v1M111.5 321v1M111.5 325v1M112.5 273v1M113.5 266v1M114.5 255v2M116.5 208v3M120.5 215v7M121.5 237v1M122.5 304v3M124.5 265v1M124.5 294v1M125.5 271v1M125.5 291v1M126.5 288v1M126.5 329v1M126.5 333v1M127.5 334v1M128.5 328v1M129.5 335v1M129.5 404v2M130.5 335v1M130.5 403v2M131.5 335v1M131.5 345v1M131.5 402v2M132.5 313v1M132.5 328v1M132.5 402v1M133.5 220v15M133.5 242v1M133.5 308v2M133.5 334v1M133.5 344v1M133.5 350v1M133.5 402v1M134.5 252v1M134.5 254v1M134.5 259v1M134.5 297v1M134.5 344v1M134.5 401v1M135.5 291v1M135.5 333v1M135.5 401v1M136.5 285v1M136.5 331v2M136.5 351v1M136.5 401v1M137.5 275v2M137.5 402v1M137.5 410v1M138.5 402v1M139.5 250v1M139.5 351v1M139.5 402v2M139.5 409v1M140.5 351v1M140.5 403v2M140.5 408v1M141.5 344v1M141.5 405v3M143.5 345v1M143.5 350v1M144.5 346v1M144.5 349v1M145.5 225v3M145.5 347v2M150.5 261v1M150.5 284v1M150.5 335v1M151.5 259v1M151.5 293v1M151.5 334v3M152.5 300v1M152.5 331v2M152.5 336v2M153.5 304v2M153.5 308v8M153.5 337v2M154.5 234v1M154.5 338v1M155.5 252v1M155.5 338v2M156.5 339v2M157.5 340v1M158.5 340v2M159.5 341v2M160.5 342v2M161.5 343v2M161.5 370v1M161.5 372v1M162.5 344v2M162.5 369v1M163.5 346v2M163.5 373v1M164.5 347v2M165.5 348v2M166.5 348v2M166.5 356v3M166.5 368v1M167.5 348v2M167.5 355v1M167.5 368v1M168.5 348v2M168.5 354v1M168.5 359v1M168.5 368v1M168.5 374v1M168.5 389v1M169.5 348v2M169.5 354v1M169.5 368v1M169.5 374v1M169.5 388v1M169.5 390v1M170.5 349v1M170.5 354v1M170.5 360v1M170.5 368v1M170.5 374v1M171.5 349v1M171.5 360v1M171.5 368v1M171.5 374v1M171.5 387v1M171.5 391v1M172.5 349v1M172.5 353v1M172.5 368v1M172.5 387v1M172.5 391v1M173.5 349v1M173.5 353v1M173.5 368v1M174.5 349v2M174.5 353v1M174.5 368v1M175.5 349v1M175.5 353v1M175.5 373v1M176.5 349v1M176.5 360v1M176.5 369v1M176.5 372v1M177.5 349v1M177.5 354v1M177.5 360v1M177.5 370v2M178.5 355v1M178.5 386v1M178.5 392v1M179.5 348v1M179.5 356v1M179.5 386v1M179.5 392v1M180.5 348v1M180.5 357v1M180.5 386v1M180.5 392v1M181.5 347v1M181.5 386v1M181.5 392v1M182.5 347v1M182.5 392v1M183.5 346v1M183.5 392v1M184.5 345v2M185.5 344v2M186.5 343v3M187.5 343v3M188.5 343v3M188.5 387v1M188.5 391v1M189.5 343v3M189.5 387v1M189.5 391v1M190.5 342v3M190.5 387v2M190.5 390v2M191.5 341v3M191.5 388v3M192.5 339v3M192.5 388v3M193.5 338v2M194.5 305v4M194.5 335v3M195.5 299v1M195.5 320v3M195.5 333v2M196.5 325v8M197.5 282v2M197.5 330v1M198.5 273v1M199.5 264v2M200.5 223v8M203.5 221v1M204.5 229v2M208.5 249v2M208.5 273v6M208.5 326v4M209.5 292v2M209.5 314v8M209.5 328v3M210.5 329v4M211.5 333v1M212.5 334v1M213.5 335v1M214.5 335v1M215.5 336v1M216.5 336v1M217.5 336v1M218.5 350v5M219.5 335v1M219.5 349v2M219.5 355v2M220.5 326v1M220.5 335v1M220.5 348v2M220.5 357v1M221.5 325v3M221.5 335v1M221.5 347v2M221.5 358v1M222.5 325v4M222.5 334v1M222.5 347v1M222.5 359v1M223.5 326v8M223.5 346v1M223.5 360v1M224.5 327v6M224.5 346v1M224.5 361v1M225.5 264v2M225.5 328v5M225.5 346v1M225.5 362v1M225.5 380v1M226.5 225v1M226.5 328v4M226.5 362v1M226.5 379v4M227.5 328v4M227.5 345v1M227.5 378v2M227.5 382v2M228.5 328v3M228.5 345v1M228.5 363v1M228.5 377v2M228.5 383v2M229.5 216v5M229.5 278v1M229.5 327v4M229.5 345v1M229.5 363v1M229.5 377v1M229.5 383v2M230.5 236v5M230.5 271v1M230.5 326v4M230.5 376v2M230.5 384v2M231.5 324v6M231.5 364v1M231.5 376v2M231.5 384v2M232.5 321v7M232.5 344v1M232.5 364v1M232.5 375v2M232.5 385v2M233.5 320v6M233.5 344v1M233.5 364v1M233.5 374v3M233.5 385v5M234.5 319v3M234.5 344v1M234.5 364v2M234.5 373v4M234.5 385v8M235.5 319v1M235.5 344v1M235.5 364v2M235.5 371v5M235.5 385v10M236.5 319v1M236.5 344v1M236.5 364v2M236.5 370v6M236.5 385v11M237.5 319v1M237.5 329v4M237.5 344v1M237.5 364v2M237.5 369v7M237.5 386v11M238.5 319v1M238.5 328v1M238.5 333v1M238.5 344v1M238.5 364v2M238.5 369v7M238.5 386v12M239.5 319v2M239.5 327v1M239.5 344v1M239.5 364v2M239.5 369v7M239.5 386v12M240.5 320v2M240.5 327v1M240.5 364v1M240.5 369v7M240.5 385v13M241.5 320v3M241.5 326v1M241.5 363v1M241.5 370v6M241.5 385v13M242.5 320v3M242.5 326v1M242.5 363v1M242.5 371v5M242.5 385v13M243.5 319v3M243.5 362v1M243.5 373v4M243.5 385v12M244.5 319v3M244.5 327v1M244.5 361v1M244.5 375v2M244.5 385v2M245.5 318v4M245.5 327v1M245.5 360v1M245.5 376v1M245.5 385v1M246.5 317v5M246.5 327v1M246.5 333v1M246.5 359v1M246.5 376v2M246.5 384v2M247.5 273v5M247.5 281v1M247.5 318v10M247.5 333v1M247.5 358v1M247.5 377v1M247.5 384v2M248.5 288v2M248.5 320v9M248.5 332v2M248.5 356v1M248.5 377v1M248.5 384v1M249.5 292v1M249.5 332v2M249.5 355v1M249.5 378v1M249.5 383v2M250.5 331v4M250.5 354v1M250.5 378v1M250.5 383v1M251.5 331v5M251.5 378v3M251.5 382v2M252.5 331v6M252.5 353v1M252.5 379v5M253.5 332v5M253.5 345v1M253.5 380v3M254.5 215v9M254.5 289v1M254.5 332v5M254.5 345v1M254.5 352v1M254.5 381v1M255.5 266v5M255.5 282v1M255.5 332v3M255.5 346v1M255.5 351v1M256.5 331v2M256.5 347v3M257.5 331v1M258.5 331v1M260.5 330v1M262.5 329v1M263.5 328v1M264.5 326v2M265.5 325v3M266.5 311v17M267.5 295v4M268.5 283v5M269.5 272v2M270.5 263v1M271.5 250v1M277.5 255v1M278.5 265v2M279.5 276v1M281.5 291v2M282.5 299v2M283.5 313v1M283.5 321v2M283.5 327v1M283.5 332v2M284.5 333v2M285.5 333v2M286.5 333v2M287.5 333v2M296.5 256v1M296.5 275v6M297.5 244v1M297.5 252v1"/>
<path stroke="#ff6c00" d="M72.5 332v4M73.5 330v5M74.5 327v5M75.5 325v5M76.5 252v1M76.5 302v2M76.5 324v5M77.5 306v1M77.5 324v5M78.5 233v1M78.5 325v5M79.5 248v1M79.5 326v5M80.5 327v6M81.5 305v1M81.5 327v3M81.5 332v3M81.5 351v1M82.5 287v2M82.5 300v1M82.5 302v1M82.5 334v1M83.5 335v1M84.5 335v1M84.5 350v1M84.5 357v1M85.5 350v1M85.5 357v1M86.5 350v1M86.5 357v1M87.5 336v1M87.5 357v1M88.5 336v1M88.5 357v1M89.5 336v1M90.5 351v1M91.5 356v1M92.5 335v1M92.5 352v1M92.5 355v1M92.5 368v1M93.5 335v1M93.5 368v1M94.5 334v1M95.5 332v3M96.5 330v4M96.5 369v1M97.5 329v4M97.5 370v1M97.5 375v2M98.5 328v5M98.5 371v4M99.5 327v5M100.5 326v6M101.5 326v3M102.5 326v2M103.5 326v1M105.5 307v1M105.5 314v1M105.5 318v1M106.5 316v1M106.5 318v1M106.5 327v1M107.5 304v1M107.5 317v1M107.5 327v1M108.5 318v1M108.5 328v1M109.5 301v1M110.5 297v1M110.5 319v1M111.5 280v1M112.5 322v3M113.5 267v1M121.5 238v2M121.5 299v1M122.5 297v1M122.5 307v4M123.5 258v1M123.5 295v1M124.5 293v1M125.5 272v1M125.5 330v2M126.5 280v1M126.5 317v1M127.5 317v1M127.5 328v1M128.5 335v1M128.5 403v3M129.5 402v2M130.5 336v1M130.5 346v2M130.5 401v2M131.5 315v1M131.5 401v1M132.5 335v1M132.5 344v1M132.5 400v2M133.5 235v7M133.5 251v1M133.5 310v1M133.5 328v1M133.5 335v1M133.5 400v2M134.5 201v51M134.5 298v4M134.5 334v1M134.5 400v1M135.5 201v59M135.5 292v1M135.5 329v1M135.5 334v1M135.5 343v1M135.5 351v1M135.5 400v1M136.5 246v16M136.5 286v1M136.5 330v1M136.5 333v1M136.5 343v1M136.5 400v1M137.5 253v4M137.5 260v2M137.5 273v2M137.5 277v1M137.5 331v3M137.5 343v1M137.5 400v2M138.5 343v1M138.5 400v2M138.5 410v1M139.5 343v1M139.5 401v1M139.5 410v1M140.5 224v6M140.5 343v1M140.5 401v2M140.5 409v1M141.5 351v1M141.5 402v3M141.5 408v1M142.5 344v1M142.5 351v1M142.5 404v4M143.5 344v1M144.5 345v1M144.5 350v1M145.5 346v1M145.5 349v1M146.5 347v2M148.5 256v1M148.5 337v1M149.5 262v1M149.5 336v2M150.5 285v1M150.5 334v1M150.5 336v3M151.5 294v3M151.5 333v1M151.5 337v2M152.5 301v1M152.5 322v9M152.5 338v2M153.5 306v2M153.5 339v2M154.5 339v3M155.5 274v2M155.5 340v2M156.5 341v2M157.5 341v3M158.5 342v2M159.5 343v2M160.5 344v2M160.5 370v3M161.5 345v2M161.5 369v1M161.5 373v1M162.5 346v2M162.5 373v1M163.5 348v2M164.5 349v3M164.5 356v1M164.5 368v1M165.5 350v3M165.5 354v5M165.5 368v1M165.5 374v1M166.5 350v6M166.5 359v1M166.5 374v1M167.5 350v5M167.5 359v1M167.5 374v1M167.5 388v3M168.5 350v2M168.5 353v1M168.5 388v1M168.5 390v1M169.5 350v2M169.5 353v1M169.5 360v1M169.5 387v1M169.5 391v1M170.5 350v4M170.5 387v1M170.5 391v1M171.5 350v4M172.5 350v3M172.5 361v1M172.5 374v1M173.5 350v3M173.5 361v1M173.5 367v1M173.5 374v1M174.5 351v2M174.5 361v1M174.5 367v1M174.5 374v1M174.5 386v1M174.5 392v1M175.5 350v3M175.5 361v1M175.5 368v1M175.5 386v1M175.5 392v1M176.5 350v4M176.5 361v1M176.5 368v1M176.5 373v1M176.5 386v1M176.5 392v1M177.5 350v1M177.5 353v1M177.5 361v1M177.5 369v1M177.5 372v2M177.5 386v1M177.5 392v1M178.5 349v1M178.5 354v1M178.5 360v1M178.5 369v4M179.5 349v1M179.5 355v1M179.5 359v1M180.5 349v1M180.5 355v2M180.5 358v2M181.5 348v1M181.5 357v1M182.5 348v1M182.5 386v1M183.5 347v2M183.5 386v1M184.5 347v2M184.5 386v1M184.5 392v1M185.5 346v3M185.5 386v1M185.5 392v1M186.5 346v4M186.5 386v1M186.5 392v1M187.5 346v5M187.5 386v1M187.5 392v1M188.5 346v5M188.5 386v1M188.5 392v1M189.5 346v5M189.5 386v1M189.5 392v1M190.5 345v5M190.5 386v1M190.5 392v1M191.5 344v5M191.5 386v2M191.5 391v2M192.5 342v5M192.5 387v1M192.5 391v1M193.5 340v5M193.5 387v5M194.5 338v4M194.5 388v3M195.5 300v2M195.5 314v6M195.5 335v4M195.5 389v1M196.5 292v3M196.5 323v2M196.5 333v3M197.5 284v1M197.5 327v3M197.5 331v3M198.5 274v1M198.5 330v2M199.5 266v1M200.5 255v1M201.5 210v1M202.5 201v9M205.5 236v1M207.5 328v3M208.5 279v8M208.5 321v5M208.5 330v2M209.5 294v6M209.5 308v6M209.5 331v2M210.5 333v1M211.5 334v1M212.5 335v1M213.5 336v1M214.5 336v2M215.5 337v1M216.5 337v1M216.5 349v6M217.5 337v1M217.5 348v8M218.5 336v2M218.5 347v3M218.5 355v2M219.5 336v2M219.5 346v3M219.5 357v1M220.5 336v2M220.5 345v3M220.5 358v1M221.5 336v1M221.5 345v2M221.5 359v1M222.5 335v2M222.5 345v2M222.5 360v1M223.5 334v2M223.5 345v1M223.5 361v1M223.5 380v2M224.5 333v3M224.5 345v1M224.5 362v1M224.5 378v6M225.5 244v4M225.5 333v3M225.5 345v1M225.5 363v1M225.5 376v4M225.5 381v5M226.5 276v2M226.5 332v4M226.5 344v2M226.5 363v1M226.5 374v5M226.5 383v4M227.5 279v1M227.5 332v4M227.5 344v1M227.5 363v2M227.5 372v6M227.5 384v5M228.5 279v1M228.5 331v4M228.5 344v1M228.5 364v1M228.5 371v6M228.5 385v6M229.5 331v4M229.5 344v1M229.5 364v2M229.5 370v7M229.5 385v8M230.5 241v1M230.5 269v2M230.5 330v4M230.5 344v1M230.5 364v3M230.5 368v8M230.5 386v9M231.5 330v4M231.5 344v1M231.5 365v11M231.5 386v10M232.5 328v6M232.5 343v1M232.5 365v10M232.5 387v11M233.5 326v7M233.5 343v1M233.5 365v9M233.5 390v9M234.5 322v11M234.5 343v1M234.5 366v7M234.5 393v6M235.5 320v13M235.5 343v1M235.5 366v5M235.5 395v5M236.5 320v4M236.5 327v7M236.5 343v1M236.5 366v4M236.5 396v5M237.5 320v4M237.5 327v2M237.5 333v1M237.5 343v1M237.5 366v3M237.5 397v4M238.5 320v8M238.5 334v1M238.5 343v1M238.5 366v3M238.5 398v4M239.5 321v6M239.5 334v1M239.5 366v3M239.5 398v4M240.5 322v5M240.5 334v1M240.5 344v1M240.5 365v4M240.5 398v4M241.5 323v3M241.5 334v1M241.5 344v1M241.5 364v6M241.5 398v4M242.5 323v3M242.5 334v1M242.5 344v1M242.5 364v7M242.5 398v3M243.5 322v5M243.5 334v1M243.5 344v1M243.5 363v10M243.5 397v4M244.5 322v5M244.5 334v1M244.5 344v1M244.5 362v2M244.5 368v7M244.5 387v13M245.5 322v5M245.5 334v1M245.5 344v1M245.5 361v1M245.5 370v6M245.5 386v13M246.5 322v5M246.5 334v1M246.5 344v1M246.5 360v1M246.5 372v4M246.5 386v12M247.5 278v3M247.5 334v1M247.5 344v1M247.5 359v1M247.5 373v4M247.5 386v11M248.5 261v1M248.5 286v2M248.5 334v2M248.5 344v1M248.5 357v2M248.5 375v2M248.5 385v11M249.5 234v8M249.5 291v1M249.5 334v3M249.5 344v1M249.5 356v2M249.5 375v3M249.5 385v10M250.5 294v1M250.5 335v4M250.5 344v1M250.5 355v1M250.5 376v2M250.5 384v10M251.5 336v4M251.5 343v2M251.5 354v1M251.5 376v2M251.5 384v9M252.5 337v8M252.5 354v1M252.5 377v2M252.5 384v8M253.5 293v1M253.5 337v8M253.5 353v1M253.5 377v3M253.5 383v8M254.5 224v1M254.5 288v1M254.5 337v8M254.5 377v4M254.5 382v8M255.5 259v1M255.5 281v1M255.5 335v6M255.5 344v2M255.5 352v1M255.5 378v11M256.5 333v5M256.5 346v1M256.5 350v2M256.5 378v10M257.5 332v4M257.5 348v1M257.5 379v8M258.5 332v2M258.5 379v7M259.5 331v2M259.5 380v5M260.5 331v1M260.5 381v3M261.5 330v2M262.5 330v1M263.5 329v1M264.5 328v2M265.5 328v2M266.5 328v2M267.5 299v4M268.5 288v1M269.5 274v1M272.5 229v7M277.5 256v1M279.5 277v2M280.5 285v3M281.5 293v2M282.5 301v1M282.5 307v4M282.5 333v3M283.5 314v7M283.5 328v4M283.5 334v2M284.5 335v2M285.5 335v2M286.5 335v3M295.5 240v1"/>
<path stroke="#ff5d00" d="M73.5 335v3M74.5 332v5M75.5 330v5M76.5 253v4M76.5 300v2M76.5 329v4M77.5 234v3M77.5 305v1M77.5 329v4M78.5 306v1M78.5 330v4M79.5 249v1M79.5 331v4M80.5 306v1M80.5 333v3M80.5 351v1M81.5 276v4M81.5 304v1M81.5 335v1M81.5 350v1M82.5 289v11M82.5 301v1M82.5 335v2M82.5 350v1M83.5 336v1M83.5 350v1M84.5 336v1M85.5 336v1M86.5 336v1M87.5 350v1M88.5 350v1M89.5 350v1M89.5 357v1M90.5 336v1M91.5 336v1M91.5 351v1M91.5 368v1M92.5 336v1M92.5 356v1M93.5 336v1M93.5 352v4M94.5 335v2M94.5 368v1M95.5 335v2M95.5 368v1M96.5 334v2M96.5 368v1M97.5 333v3M97.5 368v2M98.5 333v3M98.5 369v2M98.5 375v3M99.5 332v4M99.5 369v9M100.5 332v4M100.5 368v10M101.5 329v6M101.5 355v4M101.5 360v16M102.5 328v6M102.5 355v15M103.5 327v3M103.5 331v2M103.5 357v10M104.5 327v1M104.5 358v5M105.5 308v2M105.5 313v1M105.5 327v1M106.5 306v1M106.5 315v1M106.5 328v1M107.5 328v2M108.5 303v1M109.5 302v1M109.5 318v1M109.5 328v1M110.5 298v1M110.5 327v1M111.5 281v2M111.5 293v2M111.5 320v1M111.5 326v1M112.5 274v2M112.5 371v5M113.5 368v9M114.5 366v11M115.5 235v7M115.5 367v10M116.5 368v9M117.5 368v9M118.5 369v7M118.5 397v1M119.5 369v7M119.5 397v2M120.5 369v5M120.5 396v4M121.5 240v1M121.5 300v3M121.5 396v5M122.5 311v3M122.5 396v6M123.5 315v1M123.5 396v6M124.5 266v1M124.5 316v1M124.5 396v7M125.5 290v1M125.5 329v1M125.5 332v1M125.5 395v9M126.5 281v1M126.5 287v1M126.5 334v1M126.5 396v8M127.5 396v9M128.5 317v1M128.5 396v7M129.5 327v1M129.5 336v1M129.5 396v6M130.5 327v1M130.5 337v1M130.5 345v1M130.5 348v1M130.5 396v5M131.5 327v1M131.5 336v2M131.5 344v1M131.5 349v1M131.5 396v5M132.5 336v1M132.5 343v1M132.5 350v1M132.5 396v4M133.5 246v2M133.5 311v1M133.5 336v1M133.5 343v1M133.5 396v4M134.5 255v1M134.5 257v2M134.5 302v5M134.5 328v1M134.5 335v1M134.5 343v1M134.5 396v4M135.5 260v1M135.5 262v1M135.5 293v1M135.5 335v1M135.5 396v4M136.5 201v45M136.5 287v1M136.5 334v2M136.5 396v4M137.5 257v1M137.5 272v1M137.5 278v2M137.5 334v2M137.5 396v4M138.5 258v1M138.5 332v4M138.5 352v1M138.5 396v4M139.5 334v2M139.5 352v1M139.5 396v5M139.5 411v1M140.5 230v2M140.5 335v1M140.5 352v1M140.5 397v4M140.5 410v2M141.5 343v1M141.5 352v1M141.5 397v5M141.5 409v2M142.5 343v1M142.5 397v7M142.5 408v2M143.5 351v1M143.5 397v12M144.5 344v1M144.5 351v1M144.5 369v3M144.5 398v10M145.5 228v1M145.5 337v2M145.5 344v2M145.5 350v1M145.5 368v5M145.5 398v7M146.5 239v2M146.5 338v2M146.5 344v3M146.5 349v2M146.5 369v4M146.5 398v5M147.5 247v1M147.5 337v5M147.5 343v7M147.5 370v3M147.5 399v3M148.5 254v1M148.5 336v1M148.5 338v11M148.5 400v1M149.5 335v1M149.5 338v5M150.5 286v1M150.5 333v1M150.5 339v4M151.5 329v4M151.5 339v4M152.5 249v4M152.5 302v2M152.5 315v7M152.5 340v4M153.5 341v3M154.5 235v7M154.5 342v2M155.5 342v3M156.5 343v3M157.5 344v2M158.5 344v3M158.5 371v2M159.5 345v3M159.5 370v3M160.5 346v3M160.5 369v1M160.5 373v1M161.5 347v3M162.5 348v4M162.5 368v1M162.5 374v1M163.5 350v8M163.5 368v1M163.5 374v1M164.5 352v4M164.5 357v2M164.5 374v1M165.5 353v1M165.5 359v1M165.5 388v3M166.5 388v3M167.5 360v1M167.5 367v1M167.5 387v1M167.5 391v1M168.5 352v1M168.5 360v1M168.5 367v1M168.5 387v1M168.5 391v1M169.5 352v1M169.5 367v1M170.5 361v1M170.5 367v1M170.5 375v1M171.5 361v1M171.5 367v1M171.5 375v1M171.5 386v1M171.5 392v1M172.5 362v1M172.5 366v2M172.5 375v1M172.5 386v1M172.5 392v1M173.5 362v1M173.5 366v1M173.5 375v1M173.5 386v1M173.5 392v1M174.5 362v5M174.5 375v1M175.5 362v6M175.5 374v1M176.5 362v6M176.5 374v1M177.5 351v2M177.5 362v2M177.5 366v3M177.5 374v1M178.5 350v4M178.5 361v2M178.5 367v2M178.5 373v1M179.5 350v5M179.5 360v2M179.5 368v5M180.5 350v1M180.5 354v1M180.5 360v1M180.5 370v2M181.5 349v2M181.5 355v2M181.5 358v2M182.5 349v2M182.5 355v4M183.5 349v2M183.5 356v2M183.5 393v1M184.5 349v3M184.5 356v2M184.5 393v1M185.5 349v10M185.5 385v1M185.5 393v1M186.5 350v15M186.5 385v1M186.5 393v1M187.5 351v18M187.5 385v1M187.5 393v1M188.5 351v20M188.5 385v1M188.5 393v1M189.5 351v20M189.5 385v1M189.5 393v1M190.5 350v21M190.5 384v2M190.5 393v1M191.5 349v22M191.5 384v2M191.5 393v1M192.5 347v24M192.5 384v3M192.5 392v2M193.5 345v25M193.5 384v3M193.5 392v2M194.5 342v28M194.5 385v3M194.5 391v3M195.5 302v2M195.5 310v4M195.5 339v31M195.5 385v4M195.5 390v4M196.5 321v2M196.5 336v4M196.5 351v19M196.5 386v7M197.5 285v2M197.5 324v3M197.5 334v4M197.5 356v13M197.5 387v5M198.5 275v2M198.5 328v2M198.5 332v4M198.5 389v2M199.5 330v4M200.5 256v2M200.5 331v2M201.5 211v9M201.5 221v24M201.5 252v10M201.5 332v1M202.5 210v1M202.5 220v42M203.5 222v1M203.5 225v37M204.5 231v1M204.5 234v28M204.5 368v5M205.5 245v17M205.5 329v3M205.5 365v10M206.5 247v15M206.5 328v5M206.5 362v14M207.5 249v13M207.5 324v4M207.5 331v3M207.5 359v17M208.5 251v1M208.5 269v1M208.5 287v1M208.5 317v4M208.5 332v3M208.5 356v20M209.5 300v8M209.5 333v2M209.5 354v22M210.5 334v2M210.5 353v21M211.5 335v2M211.5 352v20M212.5 336v2M212.5 350v19M213.5 337v3M213.5 348v16M214.5 338v22M215.5 338v21M216.5 338v11M216.5 355v3M217.5 338v10M217.5 356v2M218.5 338v9M218.5 357v2M219.5 338v8M219.5 358v2M220.5 338v7M220.5 359v2M221.5 337v8M221.5 360v1M221.5 380v4M222.5 337v8M222.5 361v1M222.5 377v11M223.5 336v9M223.5 362v1M223.5 374v6M223.5 382v8M224.5 336v9M224.5 363v1M224.5 371v7M224.5 384v8M225.5 261v3M225.5 336v9M225.5 364v2M225.5 368v8M225.5 386v7M226.5 274v2M226.5 336v8M226.5 364v10M226.5 387v8M227.5 336v8M227.5 365v7M227.5 389v7M228.5 201v4M228.5 335v5M228.5 341v3M228.5 365v6M228.5 391v6M229.5 277v1M229.5 335v5M229.5 341v3M229.5 366v4M229.5 393v5M230.5 334v5M230.5 341v3M230.5 367v1M230.5 395v5M231.5 334v5M231.5 341v3M231.5 396v4M232.5 334v6M232.5 341v2M232.5 398v3M233.5 333v6M233.5 340v3M233.5 399v3M234.5 333v6M234.5 340v3M234.5 399v4M235.5 333v5M235.5 340v3M235.5 400v3M236.5 324v3M236.5 334v4M236.5 340v3M236.5 401v3M237.5 324v3M237.5 334v3M237.5 341v2M237.5 401v3M238.5 335v2M238.5 341v2M238.5 402v2M239.5 335v1M239.5 342v2M239.5 402v1M240.5 335v1M240.5 343v1M240.5 402v1M241.5 335v1M241.5 343v1M242.5 335v1M243.5 335v1M244.5 335v1M244.5 364v4M245.5 335v1M245.5 362v8M246.5 335v1M246.5 361v3M246.5 366v6M247.5 335v2M247.5 343v1M247.5 360v2M247.5 368v5M248.5 285v1M248.5 336v3M248.5 343v1M248.5 359v2M248.5 370v5M249.5 290v1M249.5 337v7M249.5 358v1M249.5 371v4M250.5 201v1M250.5 339v5M250.5 356v2M250.5 372v4M251.5 294v1M251.5 340v3M251.5 355v2M251.5 373v3M252.5 294v1M252.5 355v1M252.5 374v3M253.5 292v1M253.5 354v1M253.5 374v3M254.5 287v1M254.5 353v1M254.5 375v2M255.5 251v2M255.5 271v1M255.5 280v1M255.5 341v3M255.5 353v1M255.5 375v3M256.5 338v8M256.5 352v1M256.5 375v3M257.5 336v6M257.5 344v4M257.5 349v2M257.5 376v3M258.5 334v5M258.5 376v3M259.5 333v4M259.5 377v3M260.5 332v3M260.5 377v4M261.5 332v2M261.5 378v4M262.5 331v2M262.5 378v3M263.5 330v2M263.5 379v1M264.5 330v2M265.5 330v2M266.5 330v2M267.5 303v4M267.5 309v3M267.5 314v18M268.5 289v3M268.5 330v1M271.5 251v3M273.5 223v1M274.5 224v2M275.5 235v3M276.5 246v1M280.5 288v1M281.5 295v2M281.5 335v3M282.5 302v2M282.5 305v2M282.5 311v1M282.5 323v4M282.5 330v3M282.5 336v3M283.5 336v3M284.5 337v3M285.5 337v3M286.5 338v1M295.5 241v4M295.5 252v3M297.5 250v2"/>
<path stroke="#ff4e00" d="M74.5 337v3M75.5 335v7M76.5 257v9M76.5 294v6M76.5 333v5M77.5 303v2M77.5 333v4M78.5 334v4M79.5 250v1M79.5 306v1M79.5 335v3M79.5 349v2M80.5 263v4M80.5 336v3M80.5 349v2M81.5 280v1M81.5 303v1M81.5 336v4M81.5 348v2M82.5 337v4M82.5 347v3M83.5 337v4M83.5 347v3M84.5 337v3M84.5 348v2M84.5 358v1M85.5 337v2M85.5 348v2M85.5 358v1M86.5 337v2M86.5 349v1M86.5 358v1M87.5 337v2M87.5 349v1M87.5 358v1M88.5 337v2M88.5 349v1M88.5 358v1M89.5 337v2M89.5 349v1M90.5 337v2M90.5 350v1M90.5 357v1M91.5 337v3M91.5 350v1M91.5 357v1M91.5 367v1M92.5 337v3M92.5 351v1M92.5 367v1M93.5 337v3M93.5 351v1M93.5 356v1M93.5 367v1M94.5 337v3M94.5 352v4M94.5 367v1M95.5 337v3M95.5 353v2M95.5 367v1M96.5 336v4M96.5 367v1M97.5 336v3M97.5 366v2M98.5 336v3M98.5 364v5M99.5 336v2M99.5 352v17M99.5 378v1M100.5 336v1M100.5 351v17M100.5 378v3M101.5 335v1M101.5 353v2M101.5 359v1M101.5 376v6M102.5 334v1M102.5 354v1M102.5 370v13M103.5 330v1M103.5 333v1M103.5 356v1M103.5 367v17M104.5 328v5M104.5 357v1M104.5 363v22M105.5 310v3M105.5 328v4M105.5 358v28M106.5 314v1M106.5 329v2M106.5 359v28M107.5 305v1M107.5 316v1M107.5 330v1M107.5 360v28M108.5 317v1M108.5 329v1M108.5 362v27M109.5 362v28M110.5 299v1M110.5 363v28M111.5 290v3M111.5 295v1M111.5 319v1M111.5 363v29M112.5 321v1M112.5 325v1M112.5 364v7M112.5 376v17M113.5 268v1M113.5 323v1M113.5 365v3M113.5 377v17M114.5 257v3M114.5 365v1M114.5 377v18M115.5 242v1M115.5 366v1M115.5 377v19M116.5 211v1M116.5 367v1M116.5 377v20M117.5 367v1M117.5 377v20M118.5 368v1M118.5 376v21M119.5 368v1M119.5 376v21M120.5 368v1M120.5 374v22M121.5 298v1M121.5 303v2M121.5 368v18M121.5 387v9M122.5 249v2M122.5 296v1M122.5 314v1M122.5 369v16M122.5 388v8M123.5 259v1M123.5 369v15M123.5 388v8M124.5 267v1M124.5 292v1M124.5 369v14M124.5 388v8M125.5 333v1M125.5 370v13M125.5 389v6M126.5 328v1M126.5 370v12M126.5 389v7M127.5 335v1M127.5 370v12M127.5 389v7M128.5 327v1M128.5 336v1M128.5 370v11M128.5 390v6M129.5 317v1M129.5 337v1M129.5 346v2M129.5 371v10M129.5 390v6M130.5 338v1M130.5 343v2M130.5 349v1M130.5 371v9M130.5 390v6M131.5 338v6M131.5 371v9M131.5 391v5M132.5 314v1M132.5 327v1M132.5 337v6M132.5 370v10M132.5 391v5M133.5 248v3M133.5 312v1M133.5 337v3M133.5 341v2M133.5 370v9M133.5 391v5M134.5 256v1M134.5 307v1M134.5 336v3M134.5 342v1M134.5 351v1M134.5 370v9M134.5 391v5M135.5 261v1M135.5 294v1M135.5 328v1M135.5 336v3M135.5 341v2M135.5 370v8M135.5 391v5M136.5 288v1M136.5 329v1M136.5 336v3M136.5 341v2M136.5 369v9M136.5 391v5M137.5 258v2M137.5 330v1M137.5 336v7M137.5 352v1M137.5 369v8M137.5 392v4M138.5 331v1M138.5 336v7M138.5 369v8M138.5 392v4M139.5 251v3M139.5 333v1M139.5 336v7M139.5 368v10M139.5 392v4M140.5 334v1M140.5 336v7M140.5 353v1M140.5 368v10M140.5 392v5M141.5 201v1M141.5 335v8M141.5 353v1M141.5 367v11M141.5 392v5M141.5 411v2M142.5 335v8M142.5 352v3M142.5 366v12M142.5 392v5M142.5 410v3M143.5 336v8M143.5 352v5M143.5 365v14M143.5 392v5M143.5 409v4M144.5 336v8M144.5 352v8M144.5 363v6M144.5 372v7M144.5 392v6M144.5 408v4M145.5 339v5M145.5 351v17M145.5 373v6M145.5 392v6M145.5 405v6M146.5 337v1M146.5 340v4M146.5 351v18M146.5 373v6M146.5 392v6M146.5 403v8M147.5 336v1M147.5 342v1M147.5 350v20M147.5 373v6M147.5 392v7M147.5 402v8M148.5 255v1M148.5 335v1M148.5 349v31M148.5 392v8M148.5 401v9M149.5 334v1M149.5 343v37M149.5 392v17M150.5 332v1M150.5 343v37M150.5 392v17M151.5 297v2M151.5 325v4M151.5 343v13M151.5 366v15M151.5 392v16M152.5 248v1M152.5 304v1M152.5 310v5M152.5 344v7M152.5 369v12M152.5 392v15M153.5 203v7M153.5 344v5M153.5 370v11M153.5 392v15M154.5 276v1M154.5 344v5M154.5 371v10M154.5 392v14M155.5 253v8M155.5 273v1M155.5 345v4M155.5 371v8M155.5 392v13M156.5 346v3M156.5 370v5M156.5 393v11M157.5 346v4M157.5 370v5M157.5 395v7M158.5 347v3M158.5 369v2M158.5 373v2M158.5 389v2M159.5 348v3M159.5 368v2M159.5 373v2M159.5 388v3M160.5 349v4M160.5 368v1M160.5 374v1M160.5 388v3M161.5 350v7M161.5 368v1M161.5 374v1M161.5 388v4M162.5 352v7M162.5 367v1M162.5 387v5M163.5 358v3M163.5 367v1M163.5 375v1M163.5 387v5M164.5 359v2M164.5 367v1M164.5 375v1M164.5 387v5M165.5 360v1M165.5 367v1M165.5 375v1M165.5 387v1M165.5 391v1M166.5 360v2M166.5 367v1M166.5 375v1M166.5 386v2M166.5 391v1M167.5 361v1M167.5 375v1M167.5 386v1M167.5 392v1M168.5 361v1M168.5 375v1M168.5 386v1M168.5 392v1M169.5 361v2M169.5 366v1M169.5 375v1M169.5 386v1M169.5 392v1M170.5 362v1M170.5 366v1M170.5 386v1M170.5 392v1M171.5 362v5M171.5 376v1M172.5 363v3M172.5 376v1M172.5 385v1M173.5 363v3M173.5 376v1M173.5 385v1M174.5 376v1M174.5 385v1M174.5 393v1M175.5 375v2M175.5 385v1M175.5 393v1M176.5 375v1M176.5 385v1M176.5 393v1M177.5 364v2M177.5 375v1M177.5 385v1M177.5 393v1M178.5 363v4M178.5 374v1M178.5 385v1M178.5 393v1M179.5 362v6M179.5 373v2M179.5 385v1M179.5 393v1M180.5 351v3M180.5 361v9M180.5 372v2M180.5 385v1M180.5 393v1M181.5 351v4M181.5 360v14M181.5 385v1M181.5 393v1M182.5 351v4M182.5 359v15M182.5 385v1M182.5 393v1M183.5 351v5M183.5 358v16M183.5 385v1M183.5 394v1M184.5 352v4M184.5 358v16M184.5 385v1M184.5 394v1M185.5 359v17M185.5 384v1M185.5 394v1M186.5 365v13M186.5 384v1M186.5 394v2M187.5 369v16M187.5 394v2M188.5 371v14M188.5 394v3M189.5 371v14M189.5 394v3M190.5 371v13M190.5 394v4M191.5 371v13M191.5 394v4M192.5 371v13M192.5 394v4M193.5 370v14M193.5 394v4M194.5 370v15M194.5 394v4M195.5 304v1M195.5 308v2M195.5 370v15M195.5 394v4M196.5 295v2M196.5 318v3M196.5 340v11M196.5 370v16M196.5 393v5M197.5 323v1M197.5 338v18M197.5 369v18M197.5 392v5M198.5 326v2M198.5 336v4M198.5 350v39M198.5 391v6M199.5 267v1M199.5 328v2M199.5 334v4M199.5 355v25M199.5 383v14M200.5 258v4M200.5 329v2M200.5 333v4M200.5 358v21M200.5 385v11M201.5 220v1M201.5 245v7M201.5 330v2M201.5 333v3M201.5 360v19M201.5 387v9M202.5 211v9M202.5 330v5M202.5 360v19M202.5 387v9M203.5 223v2M203.5 330v5M203.5 360v20M203.5 387v9M204.5 232v2M204.5 329v6M204.5 358v10M204.5 373v7M204.5 388v8M205.5 237v8M205.5 328v1M205.5 332v4M205.5 355v10M205.5 375v6M205.5 388v8M206.5 245v2M206.5 326v2M206.5 333v3M206.5 353v9M206.5 376v5M206.5 388v7M207.5 247v2M207.5 321v3M207.5 334v3M207.5 350v9M207.5 376v6M207.5 388v7M208.5 252v10M208.5 288v3M208.5 314v3M208.5 335v3M208.5 348v8M208.5 376v6M208.5 388v7M209.5 335v4M209.5 346v8M209.5 376v5M209.5 388v7M210.5 336v4M210.5 344v9M210.5 374v7M210.5 388v7M211.5 337v15M211.5 372v8M211.5 388v7M212.5 338v12M212.5 369v9M212.5 388v6M213.5 340v8M213.5 364v10M213.5 388v6M214.5 360v9M214.5 388v6M215.5 359v5M215.5 387v7M216.5 358v3M216.5 386v7M217.5 358v3M217.5 384v9M218.5 359v2M218.5 381v12M219.5 360v1M219.5 378v16M220.5 361v1M220.5 376v18M221.5 361v2M221.5 374v6M221.5 384v11M222.5 362v2M222.5 371v6M222.5 388v8M223.5 363v11M223.5 390v7M224.5 364v7M224.5 392v6M225.5 248v5M225.5 260v1M225.5 366v2M225.5 393v6M226.5 226v7M226.5 239v27M226.5 395v5M227.5 201v69M227.5 396v5M228.5 205v1M228.5 211v59M228.5 340v1M228.5 397v5M229.5 221v5M229.5 231v39M229.5 340v1M229.5 398v4M230.5 242v8M230.5 266v3M230.5 339v2M230.5 400v3M231.5 339v2M231.5 400v4M232.5 340v1M232.5 401v4M233.5 339v1M233.5 402v3M234.5 339v1M234.5 403v3M235.5 338v2M235.5 403v2M236.5 338v2M236.5 404v1M237.5 337v4M238.5 337v4M239.5 336v6M240.5 336v7M241.5 336v2M241.5 341v2M242.5 336v1M242.5 342v2M243.5 336v1M243.5 343v1M244.5 336v1M244.5 343v1M245.5 336v2M245.5 343v1M246.5 336v3M246.5 342v2M246.5 364v2M247.5 337v6M247.5 362v6M248.5 262v1M248.5 284v1M248.5 339v4M248.5 361v9M249.5 359v4M249.5 365v6M250.5 202v9M250.5 358v3M250.5 367v5M251.5 357v3M251.5 369v4M252.5 356v2M252.5 370v4M253.5 291v1M253.5 355v2M253.5 371v3M254.5 354v2M254.5 372v3M255.5 253v6M255.5 354v1M255.5 372v3M256.5 353v1M256.5 373v2M257.5 342v2M257.5 351v2M257.5 373v3M258.5 339v13M258.5 374v2M259.5 337v7M259.5 347v2M259.5 374v3M260.5 335v6M260.5 375v2M261.5 334v5M261.5 375v3M262.5 333v4M262.5 375v3M263.5 332v4M263.5 375v4M264.5 332v3M264.5 375v4M265.5 332v3M265.5 375v3M266.5 332v3M266.5 375v1M267.5 307v2M267.5 312v2M267.5 332v3M267.5 374v1M268.5 292v3M268.5 327v3M268.5 331v3M269.5 331v3M270.5 264v2M276.5 247v1M277.5 257v2M278.5 267v1M278.5 337v2M279.5 336v4M280.5 289v2M280.5 335v6M281.5 297v2M281.5 332v3M281.5 338v4M282.5 304v1M282.5 312v1M282.5 321v2M282.5 327v3M282.5 339v4M283.5 339v4M284.5 340v4M285.5 340v2"/>
<path stroke="#ff3f00" d="M75.5 342v1M76.5 293v1M76.5 338v7M77.5 237v1M77.5 337v10M78.5 338v11M79.5 338v11M80.5 305v1M80.5 339v10M81.5 340v8M82.5 341v6M83.5 341v6M84.5 340v8M85.5 339v9M85.5 359v2M86.5 339v10M86.5 359v3M87.5 339v10M87.5 359v2M88.5 339v10M88.5 359v1M89.5 339v10M89.5 358v2M90.5 339v11M90.5 358v1M90.5 366v2M91.5 340v10M91.5 358v1M91.5 366v1M92.5 340v11M92.5 357v1M92.5 366v1M93.5 340v11M93.5 357v1M93.5 366v1M94.5 340v12M94.5 356v2M94.5 366v1M95.5 340v13M95.5 355v2M95.5 365v2M96.5 340v17M96.5 364v3M97.5 339v27M98.5 339v1M98.5 347v17M99.5 338v1M99.5 349v3M100.5 337v1M100.5 350v1M101.5 336v1M101.5 352v1M102.5 335v1M102.5 353v1M103.5 334v1M103.5 354v2M104.5 333v1M104.5 356v1M105.5 332v1M105.5 357v1M106.5 307v1M106.5 313v1M106.5 331v1M106.5 358v1M107.5 315v1M107.5 359v1M108.5 304v1M108.5 330v1M108.5 361v1M109.5 317v1M109.5 329v1M109.5 361v1M110.5 300v1M110.5 318v1M110.5 328v1M110.5 362v1M111.5 283v1M111.5 327v1M112.5 276v1M112.5 320v1M112.5 363v1M113.5 269v1M113.5 364v1M114.5 260v1M114.5 364v1M115.5 365v1M116.5 212v3M116.5 366v1M117.5 366v1M118.5 367v1M119.5 367v1M120.5 222v5M120.5 367v1M121.5 305v1M121.5 386v1M122.5 251v1M122.5 315v1M122.5 368v1M122.5 385v3M123.5 260v1M123.5 294v1M123.5 316v1M123.5 368v1M123.5 384v4M124.5 368v1M124.5 383v5M125.5 273v1M125.5 289v1M125.5 317v1M125.5 369v1M125.5 383v6M126.5 282v2M126.5 286v1M126.5 369v1M126.5 382v7M127.5 327v1M127.5 369v1M127.5 382v7M128.5 369v1M128.5 381v9M129.5 326v1M129.5 338v1M129.5 345v1M129.5 348v1M129.5 370v1M129.5 381v9M130.5 339v4M130.5 370v1M130.5 380v10M131.5 350v1M131.5 370v1M131.5 380v11M132.5 369v1M132.5 380v11M133.5 327v1M133.5 340v1M133.5 351v1M133.5 369v1M133.5 379v12M134.5 308v1M134.5 339v3M134.5 369v1M134.5 379v12M135.5 339v2M135.5 369v1M135.5 378v13M136.5 339v2M136.5 352v1M136.5 368v1M136.5 378v13M137.5 270v2M137.5 280v2M137.5 368v1M137.5 377v15M138.5 259v1M138.5 353v1M138.5 368v1M138.5 377v15M139.5 254v1M139.5 332v1M139.5 353v1M139.5 378v14M140.5 232v1M140.5 333v1M140.5 354v1M140.5 367v1M140.5 378v14M141.5 202v3M141.5 334v1M141.5 354v1M141.5 366v1M141.5 378v14M142.5 355v1M142.5 365v1M142.5 378v14M143.5 335v1M143.5 357v2M143.5 363v2M143.5 379v13M143.5 413v1M144.5 211v5M144.5 360v3M144.5 379v13M144.5 412v2M145.5 229v1M145.5 336v1M145.5 379v13M145.5 411v4M146.5 336v1M146.5 379v13M146.5 411v4M147.5 248v1M147.5 379v13M147.5 410v6M148.5 261v1M148.5 334v1M148.5 380v12M148.5 410v6M149.5 333v1M149.5 380v12M149.5 409v8M150.5 280v1M150.5 287v1M150.5 331v1M150.5 380v12M150.5 409v8M151.5 319v6M151.5 356v10M151.5 381v11M151.5 408v10M152.5 241v7M152.5 253v3M152.5 305v1M152.5 308v2M152.5 351v18M152.5 381v11M152.5 407v11M153.5 277v1M153.5 349v21M153.5 381v11M153.5 407v10M154.5 242v3M154.5 349v8M154.5 366v5M154.5 381v11M154.5 406v10M155.5 270v3M155.5 349v6M155.5 367v4M155.5 379v13M155.5 405v10M156.5 349v5M156.5 368v2M156.5 375v18M156.5 404v10M157.5 350v5M157.5 367v3M157.5 375v20M157.5 402v10M158.5 350v6M158.5 367v2M158.5 375v14M158.5 391v19M159.5 351v7M159.5 367v1M159.5 375v13M159.5 391v17M160.5 353v8M160.5 366v2M160.5 375v13M160.5 391v15M161.5 357v7M161.5 365v3M161.5 375v13M161.5 392v12M162.5 359v8M162.5 375v3M162.5 380v7M162.5 392v10M163.5 361v6M163.5 376v1M163.5 381v6M163.5 392v7M164.5 361v6M164.5 376v1M164.5 383v4M164.5 392v5M165.5 361v6M165.5 376v1M165.5 383v4M165.5 392v3M166.5 362v5M166.5 376v1M166.5 384v2M166.5 392v3M167.5 362v5M167.5 376v2M167.5 384v2M167.5 393v1M168.5 362v5M168.5 376v2M168.5 384v2M168.5 393v1M169.5 363v3M169.5 376v3M169.5 384v2M169.5 393v1M170.5 363v3M170.5 376v4M170.5 384v2M170.5 393v1M171.5 377v3M171.5 384v2M171.5 393v1M172.5 377v4M172.5 384v1M172.5 393v1M173.5 377v4M173.5 384v1M173.5 393v1M174.5 377v4M174.5 384v1M175.5 377v3M175.5 384v1M175.5 394v1M176.5 376v4M176.5 384v1M176.5 394v1M177.5 376v3M177.5 384v1M177.5 394v1M178.5 375v4M178.5 384v1M178.5 394v1M179.5 375v4M179.5 384v1M179.5 394v1M180.5 374v4M180.5 383v2M180.5 394v2M181.5 374v5M181.5 383v2M181.5 394v2M182.5 374v6M182.5 382v3M182.5 394v3M183.5 374v11M183.5 395v3M184.5 374v11M184.5 395v4M185.5 376v8M185.5 395v5M186.5 378v6M186.5 396v5M187.5 396v5M188.5 397v5M189.5 397v5M190.5 398v4M191.5 398v4M192.5 398v4M193.5 398v4M194.5 398v4M195.5 305v3M195.5 398v4M196.5 297v1M196.5 314v4M196.5 398v4M197.5 287v1M197.5 321v2M197.5 397v5M198.5 277v2M198.5 324v2M198.5 340v10M198.5 397v5M199.5 268v1M199.5 327v1M199.5 338v17M199.5 380v3M199.5 397v5M200.5 328v1M200.5 337v21M200.5 379v6M200.5 396v6M201.5 329v1M201.5 336v5M201.5 350v10M201.5 379v8M201.5 396v6M202.5 329v1M202.5 335v6M202.5 351v9M202.5 379v8M202.5 396v6M203.5 328v2M203.5 335v6M203.5 350v10M203.5 380v7M203.5 396v6M204.5 328v1M204.5 335v8M204.5 347v11M204.5 380v8M204.5 396v6M205.5 327v1M205.5 336v19M205.5 381v7M205.5 396v6M206.5 323v3M206.5 336v17M206.5 381v7M206.5 395v6M207.5 319v2M207.5 337v13M207.5 382v6M207.5 395v6M208.5 267v2M208.5 310v4M208.5 338v10M208.5 382v6M208.5 395v6M209.5 339v7M209.5 381v7M209.5 395v6M210.5 340v4M210.5 381v7M210.5 395v6M211.5 380v8M211.5 395v6M212.5 378v10M212.5 394v7M213.5 374v14M213.5 394v7M214.5 369v19M214.5 394v7M215.5 364v23M215.5 394v7M216.5 361v25M216.5 393v8M217.5 361v4M217.5 373v11M217.5 393v8M218.5 361v3M218.5 372v9M218.5 393v8M219.5 361v4M219.5 371v7M219.5 394v8M220.5 362v4M220.5 369v7M220.5 394v8M221.5 363v11M221.5 395v7M222.5 364v7M222.5 396v7M223.5 397v6M224.5 398v6M225.5 253v7M225.5 399v6M226.5 233v6M226.5 266v4M226.5 272v2M226.5 400v5M227.5 401v5M228.5 206v5M228.5 402v5M229.5 226v5M229.5 276v1M229.5 402v6M230.5 250v16M230.5 403v5M231.5 404v3M232.5 405v2M233.5 405v1M241.5 338v3M242.5 337v5M243.5 337v6M244.5 337v6M245.5 338v5M246.5 339v3M248.5 263v1M249.5 242v8M249.5 289v1M249.5 363v2M250.5 293v1M250.5 361v6M251.5 360v9M252.5 358v12M253.5 357v5M253.5 365v6M254.5 225v8M254.5 286v1M254.5 356v4M254.5 367v5M255.5 272v8M255.5 355v3M255.5 369v3M256.5 354v3M256.5 370v3M257.5 353v2M257.5 370v3M258.5 352v2M258.5 371v3M259.5 344v3M259.5 349v4M259.5 372v2M260.5 341v10M260.5 372v3M261.5 339v6M261.5 372v3M262.5 337v6M262.5 372v3M263.5 336v5M263.5 372v3M264.5 335v5M264.5 372v3M265.5 335v4M265.5 371v4M266.5 335v4M266.5 370v5M267.5 335v4M267.5 369v5M268.5 321v6M268.5 334v5M268.5 369v5M269.5 275v3M269.5 330v1M269.5 334v5M269.5 368v4M270.5 332v6M270.5 368v3M271.5 254v1M271.5 334v4M271.5 368v2M272.5 236v1M272.5 336v3M273.5 336v4M274.5 226v1M274.5 337v6M275.5 338v7M276.5 248v1M276.5 337v10M277.5 337v10M278.5 268v2M278.5 336v1M278.5 339v9M279.5 279v3M279.5 335v1M279.5 340v8M280.5 333v2M280.5 341v8M281.5 330v2M281.5 342v7M282.5 313v8M282.5 343v6M283.5 343v3M295.5 245v1M295.5 251v1M296.5 239v1M297.5 245v1"/>
<path stroke="#ff3000" d="M76.5 266v1M76.5 285v8M77.5 238v5M77.5 302v1M78.5 305v1M79.5 251v3M80.5 267v1M80.5 304v1M81.5 281v4M81.5 300v3M87.5 361v2M88.5 360v5M89.5 360v6M90.5 359v7M91.5 359v7M92.5 358v8M93.5 358v8M94.5 358v8M95.5 357v8M96.5 357v7M98.5 340v1M98.5 344v3M99.5 339v1M99.5 348v1M100.5 349v1M101.5 351v1M102.5 352v1M104.5 355v1M105.5 356v1M106.5 308v1M106.5 332v1M106.5 357v1M107.5 306v1M107.5 331v1M107.5 358v1M108.5 316v1M108.5 360v1M109.5 303v1M110.5 301v1M110.5 361v1M111.5 284v1M111.5 287v3M111.5 296v1M111.5 318v1M111.5 362v1M112.5 277v1M112.5 326v1M113.5 270v1M113.5 322v1M113.5 324v1M113.5 363v1M115.5 243v5M115.5 364v1M116.5 365v1M118.5 366v1M120.5 299v1M121.5 241v3M121.5 297v1M121.5 306v3M121.5 312v3M121.5 367v1M122.5 252v2M122.5 367v1M124.5 268v1M124.5 291v1M124.5 317v1M124.5 329v4M125.5 274v1M125.5 328v1M125.5 334v1M125.5 368v1M126.5 284v1M126.5 335v1M126.5 368v1M127.5 336v1M128.5 326v1M128.5 337v1M128.5 346v2M129.5 344v1M129.5 349v1M129.5 369v1M130.5 317v1M130.5 326v1M130.5 350v1M130.5 369v1M131.5 316v1M131.5 369v1M132.5 351v1M133.5 313v1M134.5 309v1M134.5 327v1M134.5 352v1M134.5 368v1M135.5 295v3M135.5 352v1M135.5 368v1M136.5 264v1M136.5 289v1M136.5 328v1M137.5 269v1M137.5 282v1M137.5 329v1M138.5 330v1M138.5 367v1M139.5 255v1M139.5 331v1M139.5 367v1M140.5 233v6M140.5 366v1M141.5 205v1M141.5 355v1M141.5 365v1M142.5 334v1M142.5 356v2M142.5 364v1M143.5 359v2M143.5 362v1M144.5 216v1M144.5 335v1M145.5 230v2M146.5 241v1M147.5 249v1M147.5 335v1M149.5 281v2M149.5 332v1M150.5 288v2M150.5 328v3M151.5 260v2M151.5 279v1M151.5 299v2M151.5 318v1M152.5 201v40M152.5 256v6M152.5 278v1M152.5 306v2M153.5 210v52M153.5 417v2M154.5 245v17M154.5 357v9M154.5 416v3M155.5 261v1M155.5 269v1M155.5 355v12M155.5 415v5M156.5 354v14M156.5 414v6M157.5 355v12M157.5 412v8M158.5 356v11M158.5 410v11M159.5 358v9M159.5 408v13M160.5 361v5M160.5 406v16M161.5 364v1M161.5 404v18M162.5 378v2M162.5 402v21M163.5 377v4M163.5 399v24M164.5 377v6M164.5 397v26M165.5 377v6M165.5 395v29M166.5 377v7M166.5 395v29M167.5 378v6M167.5 394v31M168.5 378v6M168.5 394v31M169.5 379v5M169.5 394v32M170.5 380v4M170.5 394v32M171.5 380v4M171.5 394v33M172.5 381v3M172.5 394v33M173.5 381v3M173.5 394v33M174.5 381v3M174.5 394v34M175.5 380v4M175.5 395v33M176.5 380v4M176.5 395v33M177.5 379v5M177.5 395v33M178.5 379v5M178.5 395v33M179.5 379v5M179.5 395v33M180.5 378v5M180.5 396v32M181.5 379v4M181.5 396v32M182.5 380v2M182.5 397v31M183.5 398v30M184.5 399v29M185.5 400v28M186.5 401v27M187.5 401v26M188.5 402v25M189.5 402v24M190.5 402v24M191.5 402v24M192.5 402v23M193.5 402v23M194.5 402v23M195.5 402v22M196.5 298v2M196.5 312v2M196.5 402v22M197.5 288v2M197.5 320v1M197.5 402v22M198.5 279v1M198.5 323v1M198.5 402v21M199.5 269v1M199.5 326v1M199.5 402v21M200.5 327v1M200.5 402v20M201.5 328v1M201.5 341v9M201.5 402v20M202.5 328v1M202.5 341v10M202.5 402v20M203.5 341v9M203.5 402v19M204.5 327v1M204.5 343v4M204.5 402v19M205.5 326v1M205.5 402v18M206.5 322v1M206.5 401v19M207.5 317v2M207.5 401v18M208.5 291v3M208.5 308v2M208.5 401v18M209.5 401v18M210.5 401v17M211.5 401v17M212.5 401v16M213.5 401v16M214.5 401v15M215.5 401v15M216.5 401v14M217.5 365v8M217.5 401v14M218.5 364v8M218.5 401v13M219.5 365v6M219.5 402v12M220.5 366v3M220.5 402v11M221.5 402v11M222.5 403v9M223.5 403v9M224.5 404v7M225.5 405v6M226.5 271v1M226.5 405v5M227.5 278v1M227.5 406v4M228.5 407v2M229.5 275v1M229.5 408v1M248.5 282v2M249.5 250v12M250.5 211v51M251.5 201v61M252.5 201v61M252.5 293v1M253.5 201v61M253.5 290v1M253.5 362v3M254.5 233v29M254.5 285v1M254.5 360v7M255.5 358v11M256.5 357v13M257.5 355v15M258.5 354v17M259.5 353v7M259.5 363v9M260.5 351v6M260.5 365v7M261.5 345v10M261.5 365v7M262.5 343v10M262.5 365v7M263.5 341v11M263.5 364v8M264.5 340v11M264.5 362v10M265.5 339v32M266.5 339v31M267.5 339v30M268.5 295v4M268.5 318v3M268.5 339v30M269.5 328v2M269.5 339v29M270.5 266v3M270.5 331v1M270.5 338v30M271.5 255v3M271.5 333v1M271.5 338v30M272.5 237v5M272.5 335v1M272.5 339v29M273.5 335v1M273.5 340v26M274.5 227v2M274.5 336v1M274.5 343v22M275.5 238v3M275.5 337v1M275.5 345v18M276.5 249v2M276.5 336v1M276.5 347v14M277.5 259v1M277.5 336v1M277.5 347v12M278.5 335v1M278.5 348v9M279.5 334v1M279.5 348v7M280.5 291v2M280.5 332v1M280.5 349v4M281.5 299v2M281.5 308v3M281.5 324v3M281.5 329v1M281.5 349v2M295.5 246v5M297.5 246v4"/>
<path stroke="#ff2200" d="M76.5 267v18M77.5 300v2M78.5 234v6M78.5 304v1M79.5 254v1M79.5 305v1M80.5 268v4M80.5 303v1M81.5 285v5M81.5 294v6M98.5 341v3M99.5 347v1M100.5 338v1M100.5 348v1M101.5 337v1M101.5 350v1M102.5 336v1M102.5 351v1M103.5 335v1M103.5 353v1M104.5 334v1M104.5 354v1M105.5 333v1M105.5 355v1M106.5 309v4M107.5 314v1M108.5 305v1M108.5 359v1M109.5 330v1M109.5 360v1M110.5 302v1M110.5 317v1M110.5 329v1M111.5 285v2M111.5 297v2M111.5 328v1M111.5 361v1M112.5 278v2M112.5 319v1M112.5 327v1M112.5 362v1M113.5 271v1M113.5 321v1M113.5 325v1M114.5 261v4M114.5 322v3M114.5 363v1M116.5 215v8M117.5 201v2M117.5 365v1M119.5 201v5M119.5 366v1M120.5 227v5M120.5 298v1M120.5 300v3M120.5 366v1M121.5 309v3M121.5 315v1M122.5 254v1M122.5 295v1M122.5 316v1M123.5 261v2M123.5 293v1M123.5 317v1M123.5 329v4M123.5 367v1M124.5 269v1M124.5 290v1M124.5 328v1M124.5 333v2M124.5 367v1M125.5 275v4M125.5 288v1M125.5 318v1M125.5 335v1M126.5 285v1M126.5 318v1M126.5 327v1M126.5 336v1M127.5 318v1M127.5 326v1M127.5 347v1M127.5 368v1M128.5 318v1M128.5 338v1M128.5 344v2M128.5 348v2M128.5 368v1M129.5 318v1M129.5 339v5M129.5 350v1M131.5 317v1M131.5 326v1M131.5 351v1M132.5 315v1M132.5 326v1M132.5 368v1M133.5 314v1M133.5 326v1M133.5 352v1M133.5 368v1M134.5 310v1M135.5 298v4M135.5 303v2M135.5 327v1M136.5 290v2M136.5 353v1M136.5 367v1M137.5 267v2M137.5 283v2M137.5 328v1M137.5 353v1M137.5 367v1M138.5 329v1M139.5 354v1M139.5 366v1M140.5 239v1M140.5 332v1M140.5 355v1M140.5 365v1M141.5 206v8M141.5 333v1M141.5 356v1M141.5 364v1M142.5 358v1M142.5 363v1M143.5 334v1M143.5 361v1M144.5 217v4M145.5 232v4M145.5 335v1M146.5 242v1M146.5 335v1M147.5 250v1M147.5 334v1M148.5 333v1M149.5 283v1M150.5 262v1M150.5 290v5M150.5 325v3M151.5 301v2M151.5 313v5M155.5 262v7M196.5 300v3M196.5 310v2M197.5 290v3M197.5 318v2M198.5 280v3M198.5 322v1M199.5 270v2M199.5 324v2M200.5 326v1M203.5 327v1M204.5 326v1M205.5 324v2M206.5 320v2M207.5 271v1M207.5 314v3M208.5 262v5M208.5 294v14M226.5 270v1M227.5 277v1M228.5 278v1M229.5 274v1M248.5 264v3M248.5 280v2M249.5 287v2M250.5 291v2M252.5 292v1M253.5 289v1M254.5 283v2M259.5 360v3M260.5 357v8M261.5 355v10M262.5 353v12M263.5 352v12M264.5 351v11M268.5 299v19M269.5 278v5M269.5 324v4M270.5 269v1M270.5 330v1M271.5 332v1M272.5 242v1M272.5 334v1M274.5 229v1M275.5 336v1M276.5 251v1M277.5 260v2M277.5 335v1M278.5 270v3M279.5 282v3M279.5 333v1M280.5 293v3M280.5 330v2M281.5 301v3M281.5 305v3M281.5 311v2M281.5 321v3M281.5 327v2M296.5 253v3"/>
<path stroke="#ff1300" d="M77.5 243v57M78.5 240v27M78.5 293v11M79.5 255v26M79.5 301v4M80.5 272v31M81.5 290v4M99.5 340v7M100.5 339v2M100.5 343v5M101.5 338v2M101.5 347v3M102.5 337v2M102.5 348v3M103.5 336v2M103.5 350v3M104.5 335v2M104.5 352v2M105.5 334v2M105.5 353v2M106.5 333v2M106.5 354v3M107.5 307v7M107.5 332v2M107.5 355v3M108.5 306v2M108.5 312v4M108.5 331v3M108.5 356v3M109.5 304v3M109.5 314v3M109.5 331v2M109.5 358v2M110.5 303v3M110.5 315v2M110.5 330v2M110.5 359v2M111.5 299v5M111.5 316v2M111.5 329v2M111.5 359v2M112.5 280v21M112.5 317v2M112.5 328v2M112.5 360v2M113.5 272v11M113.5 290v6M113.5 318v3M113.5 326v3M113.5 361v2M114.5 265v11M114.5 320v2M114.5 325v2M114.5 361v2M115.5 248v21M115.5 321v5M115.5 362v2M116.5 223v34M116.5 363v2M117.5 203v32M117.5 363v2M118.5 201v15M118.5 364v2M119.5 206v31M119.5 297v9M119.5 365v1M120.5 232v17M120.5 295v3M120.5 303v13M120.5 365v1M121.5 244v15M121.5 294v3M121.5 316v1M121.5 365v2M122.5 255v12M122.5 292v3M122.5 317v1M122.5 328v5M122.5 365v2M123.5 263v10M123.5 289v4M123.5 318v1M123.5 327v2M123.5 333v2M123.5 366v1M124.5 270v12M124.5 286v4M124.5 318v1M124.5 327v1M124.5 335v2M124.5 366v1M125.5 279v9M125.5 319v1M125.5 326v2M125.5 336v2M125.5 366v2M126.5 319v1M126.5 325v2M126.5 337v2M126.5 346v3M126.5 366v2M127.5 319v1M127.5 325v1M127.5 337v3M127.5 343v4M127.5 348v2M127.5 367v1M128.5 319v1M128.5 324v2M128.5 339v5M128.5 350v1M128.5 367v1M129.5 319v1M129.5 324v2M129.5 351v1M129.5 367v2M130.5 318v1M130.5 324v2M130.5 351v1M130.5 367v2M131.5 318v1M131.5 325v1M131.5 352v1M131.5 367v2M132.5 316v2M132.5 325v1M132.5 352v1M132.5 367v1M133.5 315v2M133.5 325v1M133.5 353v1M133.5 367v1M134.5 311v4M134.5 325v2M134.5 353v1M134.5 366v2M135.5 302v1M135.5 305v8M135.5 326v1M135.5 353v2M135.5 366v2M136.5 262v2M136.5 292v16M136.5 326v2M136.5 354v1M136.5 366v1M137.5 262v5M137.5 285v10M137.5 327v1M137.5 354v2M137.5 365v2M138.5 260v2M138.5 265v24M138.5 327v2M138.5 354v2M138.5 365v2M139.5 256v6M139.5 272v8M139.5 328v3M139.5 355v2M139.5 364v2M140.5 240v19M140.5 330v2M140.5 356v3M140.5 363v2M141.5 214v37M141.5 331v2M141.5 357v7M142.5 201v23M142.5 332v2M142.5 359v4M143.5 201v24M143.5 333v1M144.5 221v18M144.5 333v2M145.5 236v11M145.5 333v2M146.5 243v11M146.5 256v6M146.5 333v2M147.5 251v12M147.5 332v2M148.5 262v2M148.5 280v7M148.5 328v5M149.5 263v2M149.5 279v2M149.5 284v15M149.5 318v14M150.5 263v2M150.5 278v2M150.5 295v11M150.5 308v17M151.5 262v2M151.5 277v2M151.5 303v10M152.5 276v2M153.5 273v4M154.5 262v14M196.5 303v7M197.5 293v25M198.5 283v15M198.5 314v8M199.5 272v16M199.5 320v4M200.5 262v15M200.5 323v3M201.5 262v5M201.5 325v3M202.5 326v2M203.5 325v2M204.5 322v4M205.5 318v6M206.5 270v21M206.5 309v11M207.5 262v9M207.5 272v42M227.5 270v7M228.5 270v8M229.5 270v4M248.5 267v13M249.5 262v25M250.5 284v7M251.5 289v5M252.5 286v6M253.5 262v10M253.5 280v9M254.5 262v21M269.5 283v41M270.5 270v25M270.5 318v12M271.5 258v17M271.5 328v4M272.5 243v21M272.5 330v4M273.5 224v27M273.5 333v2M274.5 230v16M274.5 334v2M275.5 241v16M275.5 334v2M276.5 252v15M276.5 334v2M277.5 262v17M277.5 334v1M278.5 273v18M278.5 332v3M279.5 285v15M279.5 325v2M279.5 329v4M280.5 296v34M281.5 304v1M281.5 313v8M296.5 240v13"/>
<path stroke="#ed0400" d="M78.5 267v26M79.5 281v20M100.5 341v2M101.5 340v7M102.5 339v9M103.5 338v4M103.5 346v4M104.5 337v3M104.5 347v5M105.5 336v3M105.5 349v4M106.5 335v3M106.5 350v4M107.5 334v3M107.5 352v3M108.5 308v4M108.5 334v3M108.5 353v3M109.5 307v7M109.5 333v3M109.5 354v4M110.5 306v9M110.5 332v3M110.5 355v4M111.5 304v4M111.5 313v3M111.5 331v3M111.5 356v3M112.5 301v6M112.5 314v3M112.5 330v3M112.5 357v3M113.5 283v7M113.5 296v9M113.5 315v3M113.5 329v3M113.5 358v3M114.5 276v27M114.5 316v4M114.5 327v4M114.5 359v2M115.5 269v17M115.5 287v11M115.5 317v4M115.5 326v3M115.5 359v3M116.5 257v21M116.5 298v3M116.5 319v9M116.5 360v3M117.5 235v36M117.5 296v12M117.5 321v5M117.5 361v2M118.5 216v45M118.5 294v21M118.5 361v3M119.5 237v24M119.5 293v4M119.5 306v11M119.5 362v3M120.5 249v20M120.5 290v5M120.5 316v2M120.5 328v4M120.5 363v2M121.5 259v16M121.5 288v6M121.5 317v2M121.5 327v8M121.5 363v2M122.5 267v25M122.5 318v2M122.5 326v2M122.5 333v4M122.5 363v2M123.5 273v16M123.5 319v2M123.5 325v2M123.5 335v3M123.5 363v3M124.5 282v4M124.5 319v2M124.5 324v3M124.5 337v3M124.5 364v2M125.5 320v2M125.5 324v2M125.5 338v12M125.5 364v2M126.5 320v2M126.5 323v2M126.5 339v7M126.5 349v2M126.5 364v2M127.5 320v5M127.5 340v3M127.5 350v2M127.5 364v3M128.5 320v4M128.5 351v1M128.5 365v2M129.5 320v1M129.5 322v2M129.5 352v1M129.5 365v2M130.5 319v2M130.5 322v2M130.5 352v2M130.5 365v2M131.5 319v2M131.5 322v3M131.5 353v1M131.5 365v2M132.5 318v3M132.5 323v2M132.5 353v2M132.5 364v3M133.5 317v3M133.5 323v2M133.5 354v2M133.5 364v3M134.5 315v4M134.5 323v2M134.5 354v2M134.5 364v2M135.5 313v4M135.5 323v3M135.5 355v2M135.5 364v2M136.5 308v8M136.5 324v2M136.5 355v3M136.5 363v3M137.5 295v18M137.5 324v3M137.5 356v2M137.5 363v2M138.5 262v3M138.5 289v20M138.5 325v2M138.5 356v4M138.5 362v3M139.5 262v10M139.5 280v19M139.5 326v2M139.5 357v7M140.5 259v32M140.5 327v3M140.5 359v4M141.5 251v12M141.5 269v14M141.5 328v3M142.5 224v36M142.5 329v3M143.5 225v30M143.5 330v3M144.5 239v24M144.5 331v2M145.5 247v17M145.5 281v2M145.5 330v3M146.5 254v2M146.5 262v4M146.5 279v12M146.5 326v7M147.5 263v3M147.5 278v23M147.5 315v17M148.5 264v3M148.5 277v3M148.5 287v41M149.5 265v2M149.5 276v3M149.5 299v19M150.5 265v2M150.5 275v3M150.5 306v2M151.5 264v3M151.5 269v8M152.5 262v14M153.5 262v11M198.5 298v16M199.5 288v32M200.5 277v24M200.5 311v12M201.5 267v24M201.5 319v6M202.5 262v19M202.5 320v6M203.5 262v8M203.5 315v10M204.5 267v28M204.5 307v15M205.5 262v56M206.5 262v8M206.5 291v18M250.5 262v22M251.5 262v27M252.5 262v24M253.5 272v8M270.5 295v23M271.5 275v53M272.5 264v36M272.5 313v17M273.5 251v28M273.5 326v7M274.5 246v25M274.5 329v5M275.5 257v26M275.5 331v3M276.5 267v27M276.5 331v3M277.5 279v23M277.5 328v6M278.5 291v41M279.5 300v25M279.5 327v2"/>
<path stroke="#da0000" d="M103.5 342v4M104.5 340v7M105.5 339v10M106.5 338v12M107.5 337v15M108.5 337v16M109.5 336v18M110.5 335v20M111.5 308v5M111.5 334v22M112.5 307v7M112.5 333v24M113.5 305v10M113.5 332v26M114.5 303v13M114.5 331v28M115.5 286v1M115.5 298v19M115.5 329v30M116.5 278v20M116.5 301v18M116.5 328v32M117.5 271v25M117.5 308v13M117.5 326v35M118.5 261v33M118.5 315v46M119.5 261v32M119.5 317v45M120.5 269v21M120.5 318v10M120.5 332v31M121.5 275v13M121.5 319v8M121.5 335v28M122.5 320v6M122.5 337v26M123.5 321v4M123.5 338v25M124.5 321v3M124.5 340v24M125.5 322v2M125.5 350v14M126.5 322v1M126.5 351v13M127.5 352v12M128.5 352v13M129.5 321v1M129.5 353v12M130.5 321v1M130.5 354v11M131.5 321v1M131.5 354v11M132.5 321v2M132.5 355v9M133.5 320v3M133.5 356v8M134.5 319v4M134.5 356v8M135.5 317v6M135.5 357v7M136.5 316v8M136.5 358v5M137.5 313v11M137.5 358v5M138.5 309v16M138.5 360v2M139.5 299v27M140.5 291v36M141.5 263v6M141.5 283v45M142.5 260v69M143.5 255v75M144.5 263v68M145.5 264v17M145.5 283v47M146.5 266v13M146.5 291v35M147.5 266v12M147.5 301v14M148.5 267v10M149.5 267v9M150.5 267v8M151.5 267v2M200.5 301v10M201.5 291v28M202.5 281v39M203.5 270v45M204.5 262v5M204.5 295v12M272.5 300v13M273.5 279v47M274.5 271v58M275.5 283v48M276.5 294v37M277.5 302v26"/>
</g>
<defs><clipPath id="hc"><rect x="57.5" y="201.5" width="244" height="226"/></clipPath></defs>
<g fill="none" stroke="#0a0a0a" stroke-width="1.05" stroke-linejoin="round" clip-path="url(#hc)">
<path d="M130.9 368.9L129.9 368.9L118.8 366.1L109.5 360.1L103.8 353.2L99.5 346.8L99.3 345.9L98.7 341.2L99.2 340.5L103.8 335.5L110.8 329.6L114.3 323.5L112.0 318.6L108.3 315.6L106.5 312.1L106.9 308.1L110.6 302.5L112.4 294.4L111.6 285.9L114.4 265.8L115.1 255.6L115.9 240.0L116.4 217.6L117.3 201.1L117.6 200.9L119.2 200.9L119.6 201.0L119.7 201.2L120.1 219.5L121.1 239.5L122.6 255.5L123.9 265.6L125.4 275.5L126.3 285.6L123.4 293.6L120.4 298.6L120.1 299.5L121.4 308.2L122.6 314.0L126.0 317.6L126.8 317.9L130.8 317.1L133.7 313.0L133.9 312.4L135.1 306.8L135.9 296.1L137.4 286.2L138.4 276.0L137.4 265.9L135.4 261.0L133.6 249.9L133.9 241.4L133.9 201.1L134.2 200.9L136.2 200.9L136.5 201.0L136.6 201.4L136.6 241.8L137.0 257.1L137.7 259.9L138.1 260.6L138.5 260.5L138.7 260.2L139.7 255.4L139.9 253.5L140.6 236.6L141.5 201.2L141.9 200.9L143.5 200.9L143.8 201.1L144.0 202.9L144.5 219.1L145.9 238.0L148.1 255.0L147.6 260.4L147.8 261.0L149.0 262.6L149.8 263.3L150.2 263.0L152.1 259.2L152.9 252.4L151.9 221.8L151.9 201.9L152.0 201.0L152.9 200.9L153.2 201.2L153.4 204.4L154.0 240.6L155.2 254.9L155.5 267.5L154.8 275.2L151.5 279.0L149.4 281.1L149.1 281.6L150.1 288.0L150.6 296.5L152.1 306.5L151.3 313.9L150.7 323.5L149.6 331.4L146.4 335.6L142.1 333.6L136.3 327.9L135.1 327.4L129.1 325.9L124.6 328.8L124.2 329.2L124.2 329.8L125.4 334.3L129.3 339.9L128.8 346.2L128.9 347.0L135.0 351.9L141.4 356.2L143.2 361.5L143.0 362.0L139.2 366.7Z"/>
<path d="M202.4 328.1L201.9 328.0L200.0 326.2L197.8 320.0L196.8 313.0L196.1 306.5L200.2 265.8L200.8 256.5L201.4 250.5L201.0 240.1L200.9 223.4L201.7 219.1L201.8 201.5L201.9 201.0L202.1 200.9L202.4 201.0L202.5 201.5L202.5 219.1L203.6 223.2L204.1 230.4L205.4 238.0L205.6 244.1L207.6 248.2L208.7 255.4L208.4 265.5L207.6 275.1L207.6 286.4L208.4 295.9L208.4 306.6L207.2 317.0L206.6 319.9L204.8 326.1Z"/>
<path d="M228.4 278.6L227.9 278.6L227.6 278.4L227.0 275.0L226.0 265.4L225.4 255.4L226.5 236.4L226.9 222.1L227.0 201.4L227.1 201.0L227.6 200.9L228.1 200.9L228.3 201.1L228.5 202.8L229.0 218.2L230.1 238.4L230.7 254.1L230.4 265.4L229.3 275.0L228.7 278.1Z"/>
<path d="M252.0 293.7L251.4 293.7L251.0 293.5L250.1 290.4L249.7 288.2L248.4 279.6L248.4 267.5L249.4 258.1L249.5 255.1L250.4 220.8L250.5 201.2L250.9 200.9L253.2 200.9L253.8 201.0L253.9 201.2L254.0 205.6L254.1 220.2L254.7 237.6L255.1 255.4L255.0 263.6L255.1 279.4L253.6 288.9Z"/>
<path d="M275.9 336.4L275.4 336.3L272.6 334.4L269.9 328.0L268.8 316.8L268.4 305.8L269.1 292.9L269.5 279.4L271.6 256.5L272.6 240.0L273.1 225.4L273.3 223.9L273.6 223.6L274.0 223.8L274.2 224.5L275.4 239.6L278.2 268.6L280.1 292.4L281.6 304.4L281.9 314.2L281.9 317.4L281.3 328.1L279.1 334.2Z"/>
<path d="M79.6 305.4L79.0 305.5L78.8 305.2L77.6 300.9L76.9 292.1L76.5 277.5L76.9 254.6L77.5 245.9L77.8 234.4L77.9 234.0L78.1 233.9L78.5 234.0L78.6 234.4L78.9 245.6L79.7 256.6L81.7 291.5L81.1 301.8Z"/>
<path d="M296.5 256.1L296.2 255.9L295.9 254.5L295.5 248.9L295.8 242.0L295.9 240.6L296.4 239.3L296.6 239.5L297.0 240.9L297.4 246.6L297.1 253.4L296.9 254.8Z"/>
<path d="M296.5 280.7L296.1 280.2L295.8 278.8L295.8 276.4L296.1 275.2L296.4 274.8L296.8 275.2L297.1 276.8L297.1 279.1L296.8 280.2Z"/>
</g>
<g fill="#0a0a0a" opacity="0.88">
<path d="M116.8 201.5L120.4 201.5L119.5 216.0L117.7 216.0Z"/>
<path d="M133.9 201.5L136.8 201.5L135.6 210.0L135.1 210.0Z"/>
<path d="M141.3 201.5L144.1 201.5L143.0 208.0L142.4 208.0Z"/>
<path d="M201.2 201.5L203.0 201.5L203.0 219.5L201.2 219.5Z"/>
<path d="M226.6 201.5L229.0 201.5L228.1 214.0L227.5 214.0Z"/>
<path d="M250.4 201.5L254.2 201.5L252.7 209.5L251.9 209.5Z"/>
<path d="M151.7 201.5L153.6 201.5L153.4 222.0L151.9 222.0Z"/>
</g>
<g stroke="#0a0a0a" stroke-width="1.0">
<path d="M120.9 216.5L120.8 217.5L120.6 218.3L120.3 218.9L119.9 219.1L119.5 218.9L119.2 218.3L119.0 217.5L118.9 216.5L119.0 215.5L119.2 214.7L119.5 214.1L119.9 213.9L120.3 214.1L120.6 214.7L120.8 215.5Z" fill="#a08060"/>
<path d="M120.5 245.4L120.4 246.4L120.2 247.2L119.9 247.8L119.5 248.0L119.1 247.8L118.8 247.2L118.6 246.4L118.5 245.4L118.6 244.4L118.8 243.6L119.1 243.0L119.5 242.8L119.9 243.0L120.2 243.6L120.4 244.4Z" fill="#a08060"/>
<path d="M206.7 261.0L206.6 262.2L206.3 263.3L206.0 264.0L205.5 264.2L205.0 264.0L204.7 263.3L204.4 262.2L204.3 261.0L204.4 259.8L204.7 258.7L205.0 258.0L205.5 257.8L206.0 258.0L206.3 258.7L206.6 259.8Z" fill="#a08060"/>
<path d="M206.0 229.0L205.9 229.8L205.8 230.4L205.6 230.8L205.3 231.0L205.0 230.8L204.8 230.4L204.7 229.8L204.6 229.0L204.7 228.2L204.8 227.6L205.0 227.2L205.3 227.0L205.6 227.2L205.8 227.6L205.9 228.2Z" fill="#a08060"/>
<path d="M299.3 306.2L299.2 308.0L298.8 309.5L298.2 310.4L297.5 310.8L296.8 310.4L296.2 309.5L295.8 308.0L295.7 306.2L295.8 304.4L296.2 302.9L296.8 302.0L297.5 301.6L298.2 302.0L298.8 302.9L299.2 304.4Z" fill="#fff"/>
</g>
<path d="M57.5 201.0L58.3 225.0L59.8 255.0L61.5 275.0L64.2 300.0L66.3 313.0L70.4 330.0L74.5 340.3L79.7 350.6L85.9 360.9L93.1 371.2L101.3 381.5L111.0 391.9L123.0 402.2L134.8 409.4L146.4 415.2L158.0 420.6L169.6 425.7L174.2 427.5" fill="none" stroke="#555" stroke-width="0.7"/>
<path d="M301.5 201.0L301.0 225.0L300.0 256.0L298.6 276.8L296.5 293.3L292.8 312.0L288.5 330.0L285.8 340.3L281.7 350.6L276.5 360.9L270.4 371.2L262.1 381.5L252.8 391.9L241.5 402.2L228.0 409.0L216.4 415.2L204.8 420.6L193.2 425.2L186.2 427.5" fill="none" stroke="#555" stroke-width="0.7"/>
<path d="M57.5 427.5V201.5H301.5V427.5" fill="none" stroke="#adadad" stroke-width="1"/>
<path d="M57.5 427.5H301.5" fill="none" stroke="#a0a0a0" stroke-width="1"/>
<path d="M54.5 231.2h3M301.5 231.2h-3" stroke="#909090" stroke-width="1"/>
<text transform="translate(52.2 235.5) scale(1.0 1)" font-size="12.5" text-anchor="end" font-weight="normal">0.5</text>
<path d="M54.5 261.75h3M301.5 261.75h-3" stroke="#909090" stroke-width="1"/>
<text transform="translate(52.2 266.21999999999997) scale(1.0 1)" font-size="12.5" text-anchor="end" font-weight="normal">1</text>
<path d="M54.5 292.3h3M301.5 292.3h-3" stroke="#909090" stroke-width="1"/>
<text transform="translate(52.2 296.94) scale(1.0 1)" font-size="12.5" text-anchor="end" font-weight="normal">2</text>
<path d="M54.5 322.85h3M301.5 322.85h-3" stroke="#909090" stroke-width="1"/>
<text transform="translate(52.2 327.66) scale(1.0 1)" font-size="12.5" text-anchor="end" font-weight="normal">4</text>
<path d="M54.5 353.4h3M301.5 353.4h-3" stroke="#909090" stroke-width="1"/>
<text transform="translate(52.2 358.38) scale(1.0 1)" font-size="12.5" text-anchor="end" font-weight="normal">8</text>
<path d="M54.5 383.95h3M301.5 383.95h-3" stroke="#909090" stroke-width="1"/>
<text transform="translate(52.2 389.09999999999997) scale(1.0 1)" font-size="12.5" text-anchor="end" font-weight="normal">16</text>
<path d="M54.5 414.5h3M301.5 414.5h-3" stroke="#909090" stroke-width="1"/>
<text transform="translate(52.2 419.82) scale(1.0 1)" font-size="12.5" text-anchor="end" font-weight="normal">32</text>
<path d="M57.5 201.5v-2.5M57.5 427.5v4" stroke="#909090" stroke-width="1"/>
<path d="M117.8 201.5v-2.5M117.8 427.5v4" stroke="#909090" stroke-width="1"/>
<path d="M179.7 201.5v-2.5M179.7 427.5v4" stroke="#909090" stroke-width="1"/>
<path d="M241.5 201.5v-2.5M241.5 427.5v4" stroke="#909090" stroke-width="1"/>
<path d="M301.5 201.5v-2.5M301.5 427.5v4" stroke="#909090" stroke-width="1"/>
<text transform="translate(75.2 437.2) scale(1.0 1)" font-size="12.5" text-anchor="start" font-weight="normal">June</text>
<text transform="translate(136.2 437.2) scale(1.0 1)" font-size="12.5" text-anchor="start" font-weight="normal">July</text>
<text transform="translate(191.8 437.2) scale(1.0 1)" font-size="12.5" text-anchor="start" font-weight="normal">August</text>
<text transform="translate(244.2 437.2) scale(1.0 1)" font-size="12.5" text-anchor="start" font-weight="normal">September</text>
<text transform="translate(143.1 457) scale(1.0 1)" font-size="14.25" text-anchor="start" font-weight="normal">Month (2002)</text>
<text transform="translate(31.8 316.3) rotate(-90)" font-size="14.05" text-anchor="middle">Period (days)</text>
<text transform="translate(37.0 478.6) scale(1.12 1)" font-size="15.4" text-anchor="start" font-weight="bold">(b)</text>
<text transform="translate(62.8 478.6) scale(1.0 1)" font-size="15.2" text-anchor="start" font-weight="normal">Wavelet</text>
<text transform="translate(116.4 478.6) scale(1.0 1)" font-size="15.2" text-anchor="start" font-weight="normal">Power</text>
<text transform="translate(160.1 478.6) scale(1.0 1)" font-size="15.2" text-anchor="start" font-weight="normal">Spectrum</text>
<text transform="translate(225.1 478.6) scale(1.0 1)" font-size="15.2" text-anchor="start" font-weight="normal">for</text>
<text transform="translate(246 478.6) scale(1.0 1)" font-size="15.2" text-anchor="start" font-weight="normal">River</text>
<text transform="translate(283.8 478.6) scale(1.0 1)" font-size="15.2" text-anchor="start" font-weight="normal">discharge</text>
<defs><linearGradient id="jet" x1="0" y1="1" x2="0" y2="0"><stop offset="0" stop-color="#00008f"/><stop offset="0.125" stop-color="#0000ff"/><stop offset="0.375" stop-color="#00ffff"/><stop offset="0.625" stop-color="#ffff00"/><stop offset="0.875" stop-color="#ff0000"/><stop offset="1" stop-color="#800000"/></linearGradient></defs>
<rect x="316.3" y="202" width="21.5" height="226" fill="url(#jet)"/>
<rect x="316.8" y="385.5" width="18.5" height="6" fill="#001060" opacity="0.3"/>
<path d="M316.3 227.3h2M337.8 227.3h-2" stroke="#555" stroke-width="0.6" opacity="0.6"/>
<text transform="translate(338.9 231.4) scale(1.0 1)" font-size="12" text-anchor="start" font-weight="normal">512</text>
<path d="M316.3 246.93h2M337.8 246.93h-2" stroke="#555" stroke-width="0.6" opacity="0.6"/>
<text transform="translate(338.9 251.03) scale(1.0 1)" font-size="12" text-anchor="start" font-weight="normal">128</text>
<path d="M316.3 266.56h2M337.8 266.56h-2" stroke="#555" stroke-width="0.6" opacity="0.6"/>
<text transform="translate(338.9 270.66) scale(1.0 1)" font-size="12" text-anchor="start" font-weight="normal">32</text>
<path d="M316.3 286.19h2M337.8 286.19h-2" stroke="#555" stroke-width="0.6" opacity="0.6"/>
<text transform="translate(342.6 290.29) scale(1.0 1)" font-size="12" text-anchor="start" font-weight="normal">8</text>
<path d="M316.3 305.82h2M337.8 305.82h-2" stroke="#555" stroke-width="0.6" opacity="0.6"/>
<text transform="translate(342.6 309.92) scale(1.0 1)" font-size="12" text-anchor="start" font-weight="normal">2</text>
<path d="M316.3 325.45h2M337.8 325.45h-2" stroke="#555" stroke-width="0.6" opacity="0.6"/>
<text transform="translate(338.9 329.55) scale(1.0 1)" font-size="12" text-anchor="start" font-weight="normal">1/2</text>
<path d="M316.3 345.08000000000004h2M337.8 345.08000000000004h-2" stroke="#555" stroke-width="0.6" opacity="0.6"/>
<text transform="translate(338.9 349.18000000000006) scale(1.0 1)" font-size="12" text-anchor="start" font-weight="normal">1/8</text>
<path d="M316.3 364.71000000000004h2M337.8 364.71000000000004h-2" stroke="#555" stroke-width="0.6" opacity="0.6"/>
<text transform="translate(338.9 368.81000000000006) scale(1.0 1)" font-size="12" text-anchor="start" font-weight="normal">1/32</text>
<path d="M316.3 384.34000000000003h2M337.8 384.34000000000003h-2" stroke="#555" stroke-width="0.6" opacity="0.6"/>
<text transform="translate(338.9 388.44000000000005) scale(1.0 1)" font-size="12" text-anchor="start" font-weight="normal">1/128</text>
<path d="M316.3 403.97h2M337.8 403.97h-2" stroke="#555" stroke-width="0.6" opacity="0.6"/>
<text transform="translate(342.6 408.07000000000005) scale(1.0 1)" font-size="12" text-anchor="start" font-weight="normal">0</text></svg>
</body></html>
